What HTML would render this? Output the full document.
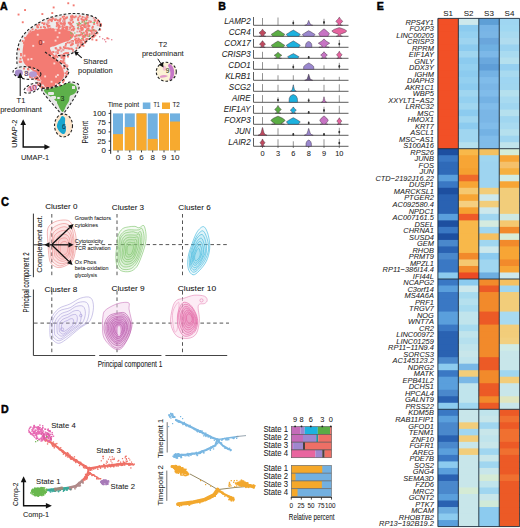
<!DOCTYPE html>
<html><head><meta charset="utf-8"><style>
html,body{margin:0;padding:0;background:#fff;}
svg{display:block;font-family:"Liberation Sans", sans-serif;} text{stroke:#222;stroke-width:0.1px;stroke-opacity:0.7;}
</style></head><body>
<svg width="520" height="528" viewBox="0 0 520 528">
<rect width="520" height="528" fill="#fff"/>
<text x="0.00" y="10.00" font-size="10.6" text-anchor="start" font-weight="bold" font-style="normal" fill="#000" style="stroke:#000;stroke-width:0.45px;stroke-opacity:1">A</text>
<text x="218.30" y="10.20" font-size="10.6" text-anchor="start" font-weight="bold" font-style="normal" fill="#000" style="stroke:#000;stroke-width:0.45px;stroke-opacity:1">B</text>
<text x="0.90" y="205.70" font-size="12.6" text-anchor="start" font-weight="bold" font-style="normal" fill="#000" style="stroke:#000;stroke-width:0.45px;stroke-opacity:1" transform="translate(0.9,0) scale(0.88,1) translate(-0.9,0)">C</text>
<text x="1.00" y="412.60" font-size="10.6" text-anchor="start" font-weight="bold" font-style="normal" fill="#000" style="stroke:#000;stroke-width:0.45px;stroke-opacity:1">D</text>
<text x="376.80" y="9.90" font-size="10.6" text-anchor="start" font-weight="bold" font-style="normal" fill="#000" style="stroke:#000;stroke-width:0.45px;stroke-opacity:1">E</text>
<rect x="437.90" y="18.40" width="21.45" height="7.51" fill="#f25026"/>
<rect x="437.90" y="24.91" width="21.45" height="7.51" fill="#f25026"/>
<rect x="437.90" y="31.43" width="21.45" height="7.51" fill="#f25026"/>
<rect x="437.90" y="37.94" width="21.45" height="7.51" fill="#f25026"/>
<rect x="437.90" y="44.46" width="21.45" height="7.51" fill="#f25026"/>
<rect x="437.90" y="50.97" width="21.45" height="7.51" fill="#f25026"/>
<rect x="437.90" y="57.49" width="21.45" height="7.51" fill="#f25026"/>
<rect x="437.90" y="64.00" width="21.45" height="7.51" fill="#f25026"/>
<rect x="437.90" y="70.52" width="21.45" height="7.51" fill="#f25026"/>
<rect x="437.90" y="77.03" width="21.45" height="7.51" fill="#f25026"/>
<rect x="437.90" y="83.55" width="21.45" height="7.51" fill="#f25026"/>
<rect x="437.90" y="90.06" width="21.45" height="7.51" fill="#f25026"/>
<rect x="437.90" y="96.58" width="21.45" height="7.51" fill="#f25026"/>
<rect x="437.90" y="103.09" width="21.45" height="7.51" fill="#f25026"/>
<rect x="437.90" y="109.61" width="21.45" height="7.51" fill="#f25026"/>
<rect x="437.90" y="116.12" width="21.45" height="7.51" fill="#f25026"/>
<rect x="437.90" y="122.64" width="21.45" height="7.51" fill="#f25026"/>
<rect x="437.90" y="129.16" width="21.45" height="7.51" fill="#f25026"/>
<rect x="437.90" y="135.67" width="21.45" height="7.51" fill="#f25026"/>
<rect x="437.90" y="142.19" width="21.45" height="7.51" fill="#f25026"/>
<rect x="437.90" y="148.70" width="21.45" height="7.51" fill="#1d4fa0"/>
<rect x="437.90" y="155.22" width="21.45" height="7.51" fill="#3a78c4"/>
<rect x="437.90" y="161.73" width="21.45" height="7.51" fill="#2f6ab8"/>
<rect x="437.90" y="168.25" width="21.45" height="7.51" fill="#2f6ab8"/>
<rect x="437.90" y="174.76" width="21.45" height="7.51" fill="#5a9fdc"/>
<rect x="437.90" y="181.28" width="21.45" height="7.51" fill="#3a78c4"/>
<rect x="437.90" y="187.79" width="21.45" height="7.51" fill="#1d4fa0"/>
<rect x="437.90" y="194.31" width="21.45" height="7.51" fill="#2a62b2"/>
<rect x="437.90" y="200.82" width="21.45" height="7.51" fill="#2a62b2"/>
<rect x="437.90" y="207.34" width="21.45" height="7.51" fill="#2a62b2"/>
<rect x="437.90" y="213.85" width="21.45" height="7.51" fill="#5a9fdc"/>
<rect x="437.90" y="220.37" width="21.45" height="7.51" fill="#1d4fa0"/>
<rect x="437.90" y="226.88" width="21.45" height="7.51" fill="#3a78c4"/>
<rect x="437.90" y="233.39" width="21.45" height="7.51" fill="#1d4fa0"/>
<rect x="437.90" y="239.91" width="21.45" height="7.51" fill="#4a88cc"/>
<rect x="437.90" y="246.42" width="21.45" height="7.51" fill="#2a62b2"/>
<rect x="437.90" y="252.94" width="21.45" height="7.51" fill="#4a88cc"/>
<rect x="437.90" y="259.45" width="21.45" height="7.51" fill="#3a78c4"/>
<rect x="437.90" y="265.97" width="21.45" height="7.51" fill="#3a78c4"/>
<rect x="437.90" y="272.48" width="21.45" height="7.51" fill="#8ccbef"/>
<rect x="437.90" y="279.00" width="21.45" height="7.51" fill="#3a78c4"/>
<rect x="437.90" y="285.51" width="21.45" height="7.51" fill="#5a9fdc"/>
<rect x="437.90" y="292.03" width="21.45" height="7.51" fill="#3a78c4"/>
<rect x="437.90" y="298.54" width="21.45" height="7.51" fill="#3a78c4"/>
<rect x="437.90" y="305.06" width="21.45" height="7.51" fill="#3a78c4"/>
<rect x="437.90" y="311.57" width="21.45" height="7.51" fill="#5a9fdc"/>
<rect x="437.90" y="318.09" width="21.45" height="7.51" fill="#5a9fdc"/>
<rect x="437.90" y="324.60" width="21.45" height="7.51" fill="#3a78c4"/>
<rect x="437.90" y="331.12" width="21.45" height="7.51" fill="#2a62b2"/>
<rect x="437.90" y="337.63" width="21.45" height="7.51" fill="#2a62b2"/>
<rect x="437.90" y="344.15" width="21.45" height="7.51" fill="#2a62b2"/>
<rect x="437.90" y="350.66" width="21.45" height="7.51" fill="#2a62b2"/>
<rect x="437.90" y="357.18" width="21.45" height="7.51" fill="#4a88cc"/>
<rect x="437.90" y="363.69" width="21.45" height="7.51" fill="#8ccbef"/>
<rect x="437.90" y="370.21" width="21.45" height="7.51" fill="#3a78c4"/>
<rect x="437.90" y="376.72" width="21.45" height="7.51" fill="#5a9fdc"/>
<rect x="437.90" y="383.24" width="21.45" height="7.51" fill="#5a9fdc"/>
<rect x="437.90" y="389.75" width="21.45" height="7.51" fill="#4a88cc"/>
<rect x="437.90" y="396.27" width="21.45" height="7.51" fill="#2a62b2"/>
<rect x="437.90" y="402.78" width="21.45" height="7.51" fill="#8ccbef"/>
<rect x="437.90" y="409.30" width="21.45" height="7.51" fill="#3a78c4"/>
<rect x="437.90" y="415.81" width="21.45" height="7.51" fill="#5a9fdc"/>
<rect x="437.90" y="422.33" width="21.45" height="7.51" fill="#4a88cc"/>
<rect x="437.90" y="428.84" width="21.45" height="7.51" fill="#4a88cc"/>
<rect x="437.90" y="435.36" width="21.45" height="7.51" fill="#2a62b2"/>
<rect x="437.90" y="441.87" width="21.45" height="7.51" fill="#4a88cc"/>
<rect x="437.90" y="448.39" width="21.45" height="7.51" fill="#5a9fdc"/>
<rect x="437.90" y="454.90" width="21.45" height="7.51" fill="#3a78c4"/>
<rect x="437.90" y="461.42" width="21.45" height="7.51" fill="#8ccbef"/>
<rect x="437.90" y="467.93" width="21.45" height="7.51" fill="#5a9fdc"/>
<rect x="437.90" y="474.45" width="21.45" height="7.51" fill="#2a62b2"/>
<rect x="437.90" y="480.96" width="21.45" height="7.51" fill="#4a88cc"/>
<rect x="437.90" y="487.48" width="21.45" height="7.51" fill="#4a88cc"/>
<rect x="437.90" y="493.99" width="21.45" height="7.51" fill="#5a9fdc"/>
<rect x="437.90" y="500.51" width="21.45" height="7.51" fill="#2a62b2"/>
<rect x="437.90" y="507.02" width="21.45" height="7.51" fill="#6eaee0"/>
<rect x="437.90" y="513.54" width="21.45" height="7.51" fill="#8ccbef"/>
<rect x="437.90" y="520.05" width="21.45" height="6.51" fill="#5a9fdc"/>
<rect x="458.35" y="18.40" width="21.45" height="7.51" fill="#cde8ec"/>
<rect x="458.35" y="24.91" width="21.45" height="7.51" fill="#8ccbef"/>
<rect x="458.35" y="31.43" width="21.45" height="7.51" fill="#94d0f0"/>
<rect x="458.35" y="37.94" width="21.45" height="7.51" fill="#9ed4f0"/>
<rect x="458.35" y="44.46" width="21.45" height="7.51" fill="#8ccbef"/>
<rect x="458.35" y="50.97" width="21.45" height="7.51" fill="#a0d6f0"/>
<rect x="458.35" y="57.49" width="21.45" height="7.51" fill="#8ccbef"/>
<rect x="458.35" y="64.00" width="21.45" height="7.51" fill="#94d0f0"/>
<rect x="458.35" y="70.52" width="21.45" height="7.51" fill="#8ccbef"/>
<rect x="458.35" y="77.03" width="21.45" height="7.51" fill="#94d0f0"/>
<rect x="458.35" y="83.55" width="21.45" height="7.51" fill="#8ccbef"/>
<rect x="458.35" y="90.06" width="21.45" height="7.51" fill="#a0d6f0"/>
<rect x="458.35" y="96.58" width="21.45" height="7.51" fill="#94d0f0"/>
<rect x="458.35" y="103.09" width="21.45" height="7.51" fill="#a0d6f0"/>
<rect x="458.35" y="109.61" width="21.45" height="7.51" fill="#8ccbef"/>
<rect x="458.35" y="116.12" width="21.45" height="7.51" fill="#a0d6f0"/>
<rect x="458.35" y="122.64" width="21.45" height="7.51" fill="#8ccbef"/>
<rect x="458.35" y="129.16" width="21.45" height="7.51" fill="#a0d6f0"/>
<rect x="458.35" y="135.67" width="21.45" height="7.51" fill="#a0d6f0"/>
<rect x="458.35" y="142.19" width="21.45" height="7.51" fill="#b5e0ee"/>
<rect x="458.35" y="148.70" width="21.45" height="7.51" fill="#f8b84a"/>
<rect x="458.35" y="155.22" width="21.45" height="7.51" fill="#f7a535"/>
<rect x="458.35" y="161.73" width="21.45" height="7.51" fill="#f7a535"/>
<rect x="458.35" y="168.25" width="21.45" height="7.51" fill="#f5a030"/>
<rect x="458.35" y="174.76" width="21.45" height="7.51" fill="#ef6a2a"/>
<rect x="458.35" y="181.28" width="21.45" height="7.51" fill="#f7a535"/>
<rect x="458.35" y="187.79" width="21.45" height="7.51" fill="#f5c870"/>
<rect x="458.35" y="194.31" width="21.45" height="7.51" fill="#f7a535"/>
<rect x="458.35" y="200.82" width="21.45" height="7.51" fill="#f5cf80"/>
<rect x="458.35" y="207.34" width="21.45" height="7.51" fill="#f6a030"/>
<rect x="458.35" y="213.85" width="21.45" height="7.51" fill="#ef5a28"/>
<rect x="458.35" y="220.37" width="21.45" height="7.51" fill="#f8b84a"/>
<rect x="458.35" y="226.88" width="21.45" height="7.51" fill="#f8b84a"/>
<rect x="458.35" y="233.39" width="21.45" height="7.51" fill="#f8b84a"/>
<rect x="458.35" y="239.91" width="21.45" height="7.51" fill="#f8b84a"/>
<rect x="458.35" y="246.42" width="21.45" height="7.51" fill="#f8b84a"/>
<rect x="458.35" y="252.94" width="21.45" height="7.51" fill="#f28a2b"/>
<rect x="458.35" y="259.45" width="21.45" height="7.51" fill="#f5c870"/>
<rect x="458.35" y="265.97" width="21.45" height="7.51" fill="#f28a2b"/>
<rect x="458.35" y="272.48" width="21.45" height="7.51" fill="#ec4a24"/>
<rect x="458.35" y="279.00" width="21.45" height="7.51" fill="#8ccbef"/>
<rect x="458.35" y="285.51" width="21.45" height="7.51" fill="#cde8ec"/>
<rect x="458.35" y="292.03" width="21.45" height="7.51" fill="#a8dbef"/>
<rect x="458.35" y="298.54" width="21.45" height="7.51" fill="#b5e0ee"/>
<rect x="458.35" y="305.06" width="21.45" height="7.51" fill="#a8dbef"/>
<rect x="458.35" y="311.57" width="21.45" height="7.51" fill="#c0e4ec"/>
<rect x="458.35" y="318.09" width="21.45" height="7.51" fill="#c0e4ec"/>
<rect x="458.35" y="324.60" width="21.45" height="7.51" fill="#a8dbef"/>
<rect x="458.35" y="331.12" width="21.45" height="7.51" fill="#c0e4ec"/>
<rect x="458.35" y="337.63" width="21.45" height="7.51" fill="#b5e0ee"/>
<rect x="458.35" y="344.15" width="21.45" height="7.51" fill="#c0e4ec"/>
<rect x="458.35" y="350.66" width="21.45" height="7.51" fill="#c8e6ea"/>
<rect x="458.35" y="357.18" width="21.45" height="7.51" fill="#c0e4ec"/>
<rect x="458.35" y="363.69" width="21.45" height="7.51" fill="#7ab8e6"/>
<rect x="458.35" y="370.21" width="21.45" height="7.51" fill="#f2cd7a"/>
<rect x="458.35" y="376.72" width="21.45" height="7.51" fill="#7ab8e6"/>
<rect x="458.35" y="383.24" width="21.45" height="7.51" fill="#c0e4ec"/>
<rect x="458.35" y="389.75" width="21.45" height="7.51" fill="#c0e4ec"/>
<rect x="458.35" y="396.27" width="21.45" height="7.51" fill="#c0e4ec"/>
<rect x="458.35" y="402.78" width="21.45" height="7.51" fill="#a0d6f0"/>
<rect x="458.35" y="409.30" width="21.45" height="7.51" fill="#c8e6ea"/>
<rect x="458.35" y="415.81" width="21.45" height="7.51" fill="#c8e6ea"/>
<rect x="458.35" y="422.33" width="21.45" height="7.51" fill="#f2cd7a"/>
<rect x="458.35" y="428.84" width="21.45" height="7.51" fill="#a0d6f0"/>
<rect x="458.35" y="435.36" width="21.45" height="7.51" fill="#f2cd7a"/>
<rect x="458.35" y="441.87" width="21.45" height="7.51" fill="#c8e6ea"/>
<rect x="458.35" y="448.39" width="21.45" height="7.51" fill="#f2cd7a"/>
<rect x="458.35" y="454.90" width="21.45" height="7.51" fill="#c8e6ea"/>
<rect x="458.35" y="461.42" width="21.45" height="7.51" fill="#c8e6ea"/>
<rect x="458.35" y="467.93" width="21.45" height="7.51" fill="#c8e6ea"/>
<rect x="458.35" y="474.45" width="21.45" height="7.51" fill="#c8e6ea"/>
<rect x="458.35" y="480.96" width="21.45" height="7.51" fill="#c8e6ea"/>
<rect x="458.35" y="487.48" width="21.45" height="7.51" fill="#d5ebd5"/>
<rect x="458.35" y="493.99" width="21.45" height="7.51" fill="#c8e6ea"/>
<rect x="458.35" y="500.51" width="21.45" height="7.51" fill="#c8e6ea"/>
<rect x="458.35" y="507.02" width="21.45" height="7.51" fill="#c8e6ea"/>
<rect x="458.35" y="513.54" width="21.45" height="7.51" fill="#c8e6ea"/>
<rect x="458.35" y="520.05" width="21.45" height="6.51" fill="#c8e6ea"/>
<rect x="478.80" y="18.40" width="21.45" height="7.51" fill="#5e9fd6"/>
<rect x="478.80" y="24.91" width="21.45" height="7.51" fill="#77b4e6"/>
<rect x="478.80" y="31.43" width="21.45" height="7.51" fill="#7ab6e6"/>
<rect x="478.80" y="37.94" width="21.45" height="7.51" fill="#6aa6dc"/>
<rect x="478.80" y="44.46" width="21.45" height="7.51" fill="#6fb0e2"/>
<rect x="478.80" y="50.97" width="21.45" height="7.51" fill="#7cb8e8"/>
<rect x="478.80" y="57.49" width="21.45" height="7.51" fill="#6aa8de"/>
<rect x="478.80" y="64.00" width="21.45" height="7.51" fill="#5f9ed8"/>
<rect x="478.80" y="70.52" width="21.45" height="7.51" fill="#74b2e4"/>
<rect x="478.80" y="77.03" width="21.45" height="7.51" fill="#80bcea"/>
<rect x="478.80" y="83.55" width="21.45" height="7.51" fill="#7ab6e6"/>
<rect x="478.80" y="90.06" width="21.45" height="7.51" fill="#80bcea"/>
<rect x="478.80" y="96.58" width="21.45" height="7.51" fill="#74b2e4"/>
<rect x="478.80" y="103.09" width="21.45" height="7.51" fill="#80bcea"/>
<rect x="478.80" y="109.61" width="21.45" height="7.51" fill="#7ab6e6"/>
<rect x="478.80" y="116.12" width="21.45" height="7.51" fill="#7ab6e6"/>
<rect x="478.80" y="122.64" width="21.45" height="7.51" fill="#80bcea"/>
<rect x="478.80" y="129.16" width="21.45" height="7.51" fill="#74b2e4"/>
<rect x="478.80" y="135.67" width="21.45" height="7.51" fill="#80bcea"/>
<rect x="478.80" y="142.19" width="21.45" height="7.51" fill="#80bcea"/>
<rect x="478.80" y="148.70" width="21.45" height="7.51" fill="#f3c060"/>
<rect x="478.80" y="155.22" width="21.45" height="7.51" fill="#a0d6f0"/>
<rect x="478.80" y="161.73" width="21.45" height="7.51" fill="#9ed4f0"/>
<rect x="478.80" y="168.25" width="21.45" height="7.51" fill="#9ed4f0"/>
<rect x="478.80" y="174.76" width="21.45" height="7.51" fill="#9ed4f0"/>
<rect x="478.80" y="181.28" width="21.45" height="7.51" fill="#9ed4f0"/>
<rect x="478.80" y="187.79" width="21.45" height="7.51" fill="#f2cd7a"/>
<rect x="478.80" y="194.31" width="21.45" height="7.51" fill="#cde8ec"/>
<rect x="478.80" y="200.82" width="21.45" height="7.51" fill="#f2cd7a"/>
<rect x="478.80" y="207.34" width="21.45" height="7.51" fill="#cde8ec"/>
<rect x="478.80" y="213.85" width="21.45" height="7.51" fill="#a0d6f0"/>
<rect x="478.80" y="220.37" width="21.45" height="7.51" fill="#d5ebdf"/>
<rect x="478.80" y="226.88" width="21.45" height="7.51" fill="#a0d6f0"/>
<rect x="478.80" y="233.39" width="21.45" height="7.51" fill="#f5c060"/>
<rect x="478.80" y="239.91" width="21.45" height="7.51" fill="#a0d6f0"/>
<rect x="478.80" y="246.42" width="21.45" height="7.51" fill="#cde8ec"/>
<rect x="478.80" y="252.94" width="21.45" height="7.51" fill="#8ccbef"/>
<rect x="478.80" y="259.45" width="21.45" height="7.51" fill="#a0d6f0"/>
<rect x="478.80" y="265.97" width="21.45" height="7.51" fill="#a0d6f0"/>
<rect x="478.80" y="272.48" width="21.45" height="7.51" fill="#6eaee0"/>
<rect x="478.80" y="279.00" width="21.45" height="7.51" fill="#f28a2b"/>
<rect x="478.80" y="285.51" width="21.45" height="7.51" fill="#ec5a26"/>
<rect x="478.80" y="292.03" width="21.45" height="7.51" fill="#f28a2b"/>
<rect x="478.80" y="298.54" width="21.45" height="7.51" fill="#f28a2b"/>
<rect x="478.80" y="305.06" width="21.45" height="7.51" fill="#f28a2b"/>
<rect x="478.80" y="311.57" width="21.45" height="7.51" fill="#ec5a26"/>
<rect x="478.80" y="318.09" width="21.45" height="7.51" fill="#ec5a26"/>
<rect x="478.80" y="324.60" width="21.45" height="7.51" fill="#f28a2b"/>
<rect x="478.80" y="331.12" width="21.45" height="7.51" fill="#f28a2b"/>
<rect x="478.80" y="337.63" width="21.45" height="7.51" fill="#f28a2b"/>
<rect x="478.80" y="344.15" width="21.45" height="7.51" fill="#f28a2b"/>
<rect x="478.80" y="350.66" width="21.45" height="7.51" fill="#f28a2b"/>
<rect x="478.80" y="357.18" width="21.45" height="7.51" fill="#ec5a26"/>
<rect x="478.80" y="363.69" width="21.45" height="7.51" fill="#ec5a26"/>
<rect x="478.80" y="370.21" width="21.45" height="7.51" fill="#f28a2b"/>
<rect x="478.80" y="376.72" width="21.45" height="7.51" fill="#f28a2b"/>
<rect x="478.80" y="383.24" width="21.45" height="7.51" fill="#ec5a26"/>
<rect x="478.80" y="389.75" width="21.45" height="7.51" fill="#ec5a26"/>
<rect x="478.80" y="396.27" width="21.45" height="7.51" fill="#f28a2b"/>
<rect x="478.80" y="402.78" width="21.45" height="7.51" fill="#ec5a26"/>
<rect x="478.80" y="409.30" width="21.45" height="7.51" fill="#c0e4ec"/>
<rect x="478.80" y="415.81" width="21.45" height="7.51" fill="#c8e6ea"/>
<rect x="478.80" y="422.33" width="21.45" height="7.51" fill="#a0d6f0"/>
<rect x="478.80" y="428.84" width="21.45" height="7.51" fill="#c8e6ea"/>
<rect x="478.80" y="435.36" width="21.45" height="7.51" fill="#c0e4ec"/>
<rect x="478.80" y="441.87" width="21.45" height="7.51" fill="#c8e6ea"/>
<rect x="478.80" y="448.39" width="21.45" height="7.51" fill="#a0d6f0"/>
<rect x="478.80" y="454.90" width="21.45" height="7.51" fill="#c8e6ea"/>
<rect x="478.80" y="461.42" width="21.45" height="7.51" fill="#a0d6f0"/>
<rect x="478.80" y="467.93" width="21.45" height="7.51" fill="#c8e6ea"/>
<rect x="478.80" y="474.45" width="21.45" height="7.51" fill="#d5ebd5"/>
<rect x="478.80" y="480.96" width="21.45" height="7.51" fill="#c0e4ec"/>
<rect x="478.80" y="487.48" width="21.45" height="7.51" fill="#a0d6f0"/>
<rect x="478.80" y="493.99" width="21.45" height="7.51" fill="#c8e6ea"/>
<rect x="478.80" y="500.51" width="21.45" height="7.51" fill="#d0ead8"/>
<rect x="478.80" y="507.02" width="21.45" height="7.51" fill="#8ccbef"/>
<rect x="478.80" y="513.54" width="21.45" height="7.51" fill="#8ccbef"/>
<rect x="478.80" y="520.05" width="21.45" height="6.51" fill="#8ccbef"/>
<rect x="499.25" y="18.40" width="20.45" height="7.51" fill="#9fd6f2"/>
<rect x="499.25" y="24.91" width="20.45" height="7.51" fill="#a0d8f2"/>
<rect x="499.25" y="31.43" width="20.45" height="7.51" fill="#a8daf0"/>
<rect x="499.25" y="37.94" width="20.45" height="7.51" fill="#b0dcef"/>
<rect x="499.25" y="44.46" width="20.45" height="7.51" fill="#9bd3f0"/>
<rect x="499.25" y="50.97" width="20.45" height="7.51" fill="#a9dbf0"/>
<rect x="499.25" y="57.49" width="20.45" height="7.51" fill="#b5e0ee"/>
<rect x="499.25" y="64.00" width="20.45" height="7.51" fill="#96d0f0"/>
<rect x="499.25" y="70.52" width="20.45" height="7.51" fill="#a8daf0"/>
<rect x="499.25" y="77.03" width="20.45" height="7.51" fill="#9fd6f2"/>
<rect x="499.25" y="83.55" width="20.45" height="7.51" fill="#a0d6f0"/>
<rect x="499.25" y="90.06" width="20.45" height="7.51" fill="#b5e0ee"/>
<rect x="499.25" y="96.58" width="20.45" height="7.51" fill="#a8daf0"/>
<rect x="499.25" y="103.09" width="20.45" height="7.51" fill="#a0d6f0"/>
<rect x="499.25" y="109.61" width="20.45" height="7.51" fill="#b5e0ee"/>
<rect x="499.25" y="116.12" width="20.45" height="7.51" fill="#a0d6f0"/>
<rect x="499.25" y="122.64" width="20.45" height="7.51" fill="#a8daf0"/>
<rect x="499.25" y="129.16" width="20.45" height="7.51" fill="#b5e0ee"/>
<rect x="499.25" y="135.67" width="20.45" height="7.51" fill="#a0d6f0"/>
<rect x="499.25" y="142.19" width="20.45" height="7.51" fill="#c0e4ec"/>
<rect x="499.25" y="148.70" width="20.45" height="7.51" fill="#d4ecd8"/>
<rect x="499.25" y="155.22" width="20.45" height="7.51" fill="#f7a535"/>
<rect x="499.25" y="161.73" width="20.45" height="7.51" fill="#f5c06a"/>
<rect x="499.25" y="168.25" width="20.45" height="7.51" fill="#f6b040"/>
<rect x="499.25" y="174.76" width="20.45" height="7.51" fill="#d0ebe6"/>
<rect x="499.25" y="181.28" width="20.45" height="7.51" fill="#f7a535"/>
<rect x="499.25" y="187.79" width="20.45" height="7.51" fill="#f2cd7a"/>
<rect x="499.25" y="194.31" width="20.45" height="7.51" fill="#f2cd7a"/>
<rect x="499.25" y="200.82" width="20.45" height="7.51" fill="#f2cd7a"/>
<rect x="499.25" y="207.34" width="20.45" height="7.51" fill="#f2cd7a"/>
<rect x="499.25" y="213.85" width="20.45" height="7.51" fill="#cde8e4"/>
<rect x="499.25" y="220.37" width="20.45" height="7.51" fill="#f5c870"/>
<rect x="499.25" y="226.88" width="20.45" height="7.51" fill="#f28a2b"/>
<rect x="499.25" y="233.39" width="20.45" height="7.51" fill="#d8ecd8"/>
<rect x="499.25" y="239.91" width="20.45" height="7.51" fill="#f28a2b"/>
<rect x="499.25" y="246.42" width="20.45" height="7.51" fill="#f7a535"/>
<rect x="499.25" y="252.94" width="20.45" height="7.51" fill="#f7a535"/>
<rect x="499.25" y="259.45" width="20.45" height="7.51" fill="#f28a2b"/>
<rect x="499.25" y="265.97" width="20.45" height="7.51" fill="#f7a535"/>
<rect x="499.25" y="272.48" width="20.45" height="7.51" fill="#cde8ec"/>
<rect x="499.25" y="279.00" width="20.45" height="7.51" fill="#f5c060"/>
<rect x="499.25" y="285.51" width="20.45" height="7.51" fill="#a0d6f0"/>
<rect x="499.25" y="292.03" width="20.45" height="7.51" fill="#f2cd7a"/>
<rect x="499.25" y="298.54" width="20.45" height="7.51" fill="#f2cd7a"/>
<rect x="499.25" y="305.06" width="20.45" height="7.51" fill="#f2cd7a"/>
<rect x="499.25" y="311.57" width="20.45" height="7.51" fill="#a8daf0"/>
<rect x="499.25" y="318.09" width="20.45" height="7.51" fill="#a8daf0"/>
<rect x="499.25" y="324.60" width="20.45" height="7.51" fill="#f2cd7a"/>
<rect x="499.25" y="331.12" width="20.45" height="7.51" fill="#f2cd7a"/>
<rect x="499.25" y="337.63" width="20.45" height="7.51" fill="#f2d080"/>
<rect x="499.25" y="344.15" width="20.45" height="7.51" fill="#d0ebe6"/>
<rect x="499.25" y="350.66" width="20.45" height="7.51" fill="#c8e6ea"/>
<rect x="499.25" y="357.18" width="20.45" height="7.51" fill="#c8e6ea"/>
<rect x="499.25" y="363.69" width="20.45" height="7.51" fill="#c8e6ea"/>
<rect x="499.25" y="370.21" width="20.45" height="7.51" fill="#a0d6f0"/>
<rect x="499.25" y="376.72" width="20.45" height="7.51" fill="#f2cd7a"/>
<rect x="499.25" y="383.24" width="20.45" height="7.51" fill="#c8e6ea"/>
<rect x="499.25" y="389.75" width="20.45" height="7.51" fill="#c8e6ea"/>
<rect x="499.25" y="396.27" width="20.45" height="7.51" fill="#e0e6c0"/>
<rect x="499.25" y="402.78" width="20.45" height="7.51" fill="#c8e6ea"/>
<rect x="499.25" y="409.30" width="20.45" height="7.51" fill="#ec5a26"/>
<rect x="499.25" y="415.81" width="20.45" height="7.51" fill="#f07030"/>
<rect x="499.25" y="422.33" width="20.45" height="7.51" fill="#ec5a26"/>
<rect x="499.25" y="428.84" width="20.45" height="7.51" fill="#f07030"/>
<rect x="499.25" y="435.36" width="20.45" height="7.51" fill="#f07030"/>
<rect x="499.25" y="441.87" width="20.45" height="7.51" fill="#ec5a26"/>
<rect x="499.25" y="448.39" width="20.45" height="7.51" fill="#f07030"/>
<rect x="499.25" y="454.90" width="20.45" height="7.51" fill="#ec5a26"/>
<rect x="499.25" y="461.42" width="20.45" height="7.51" fill="#ec5a26"/>
<rect x="499.25" y="467.93" width="20.45" height="7.51" fill="#ec5a26"/>
<rect x="499.25" y="474.45" width="20.45" height="7.51" fill="#f07030"/>
<rect x="499.25" y="480.96" width="20.45" height="7.51" fill="#ec5a26"/>
<rect x="499.25" y="487.48" width="20.45" height="7.51" fill="#ec5a26"/>
<rect x="499.25" y="493.99" width="20.45" height="7.51" fill="#ec5a26"/>
<rect x="499.25" y="500.51" width="20.45" height="7.51" fill="#ec5a26"/>
<rect x="499.25" y="507.02" width="20.45" height="7.51" fill="#ec5a26"/>
<rect x="499.25" y="513.54" width="20.45" height="7.51" fill="#ec5a26"/>
<rect x="499.25" y="520.05" width="20.45" height="6.51" fill="#ec5a26"/>
<line x1="437.90" y1="18.40" x2="437.90" y2="526.57" stroke="#1d2c3c" stroke-width="0.9"/>
<line x1="458.35" y1="18.40" x2="458.35" y2="526.57" stroke="#1d2c3c" stroke-width="0.9"/>
<line x1="478.80" y1="18.40" x2="478.80" y2="526.57" stroke="#1d2c3c" stroke-width="0.9"/>
<line x1="499.25" y1="18.40" x2="499.25" y2="526.57" stroke="#1d2c3c" stroke-width="0.9"/>
<line x1="519.70" y1="18.40" x2="519.70" y2="526.57" stroke="#1d2c3c" stroke-width="0.9"/>
<line x1="437.90" y1="18.40" x2="519.70" y2="18.40" stroke="#1d2c3c" stroke-width="0.9"/>
<line x1="437.90" y1="148.70" x2="519.70" y2="148.70" stroke="#1d2c3c" stroke-width="0.9"/>
<line x1="437.90" y1="279.00" x2="519.70" y2="279.00" stroke="#1d2c3c" stroke-width="0.9"/>
<line x1="437.90" y1="409.30" x2="519.70" y2="409.30" stroke="#1d2c3c" stroke-width="0.9"/>
<line x1="437.90" y1="526.57" x2="519.70" y2="526.57" stroke="#1d2c3c" stroke-width="0.9"/>
<g transform="translate(433.9,0) scale(0.93,1) translate(-433.9,0)" stroke="#1e1e1e" stroke-width="0.08">
<text x="433.90" y="24.60" font-size="8.0" text-anchor="end" font-weight="normal" font-style="italic" fill="#1e1e1e" >RPS4Y1</text>
<text x="433.90" y="31.11" font-size="8.0" text-anchor="end" font-weight="normal" font-style="italic" fill="#1e1e1e" >FOXP3</text>
<text x="433.90" y="37.63" font-size="8.0" text-anchor="end" font-weight="normal" font-style="italic" fill="#1e1e1e" >LINC00205</text>
<text x="433.90" y="44.14" font-size="8.0" text-anchor="end" font-weight="normal" font-style="italic" fill="#1e1e1e" >CRISP3</text>
<text x="433.90" y="50.66" font-size="8.0" text-anchor="end" font-weight="normal" font-style="italic" fill="#1e1e1e" >RPRM</text>
<text x="433.90" y="57.17" font-size="8.0" text-anchor="end" font-weight="normal" font-style="italic" fill="#1e1e1e" >EIF1AY</text>
<text x="433.90" y="63.69" font-size="8.0" text-anchor="end" font-weight="normal" font-style="italic" fill="#1e1e1e" >GNLY</text>
<text x="433.90" y="70.20" font-size="8.0" text-anchor="end" font-weight="normal" font-style="italic" fill="#1e1e1e" >DDX3Y</text>
<text x="433.90" y="76.72" font-size="8.0" text-anchor="end" font-weight="normal" font-style="italic" fill="#1e1e1e" >IGHM</text>
<text x="433.90" y="83.23" font-size="8.0" text-anchor="end" font-weight="normal" font-style="italic" fill="#1e1e1e" >DIAPH3</text>
<text x="433.90" y="89.75" font-size="8.0" text-anchor="end" font-weight="normal" font-style="italic" fill="#1e1e1e" >AKR1C1</text>
<text x="433.90" y="96.27" font-size="8.0" text-anchor="end" font-weight="normal" font-style="italic" fill="#1e1e1e" >WBP5</text>
<text x="433.90" y="102.78" font-size="8.0" text-anchor="end" font-weight="normal" font-style="italic" fill="#1e1e1e" >XXYLT1−AS2</text>
<text x="433.90" y="109.30" font-size="8.0" text-anchor="end" font-weight="normal" font-style="italic" fill="#1e1e1e" >LRRC32</text>
<text x="433.90" y="115.81" font-size="8.0" text-anchor="end" font-weight="normal" font-style="italic" fill="#1e1e1e" >MSC</text>
<text x="433.90" y="122.33" font-size="8.0" text-anchor="end" font-weight="normal" font-style="italic" fill="#1e1e1e" >HMOX1</text>
<text x="433.90" y="128.84" font-size="8.0" text-anchor="end" font-weight="normal" font-style="italic" fill="#1e1e1e" >KRT7</text>
<text x="433.90" y="135.35" font-size="8.0" text-anchor="end" font-weight="normal" font-style="italic" fill="#1e1e1e" >ASCL1</text>
<text x="433.90" y="141.87" font-size="8.0" text-anchor="end" font-weight="normal" font-style="italic" fill="#1e1e1e" >MSC−AS1</text>
<text x="433.90" y="148.38" font-size="8.0" text-anchor="end" font-weight="normal" font-style="italic" fill="#1e1e1e" >S100A16</text>
<text x="433.90" y="154.90" font-size="8.0" text-anchor="end" font-weight="normal" font-style="italic" fill="#1e1e1e" >RPS26</text>
<text x="433.90" y="161.41" font-size="8.0" text-anchor="end" font-weight="normal" font-style="italic" fill="#1e1e1e" >JUNB</text>
<text x="433.90" y="167.93" font-size="8.0" text-anchor="end" font-weight="normal" font-style="italic" fill="#1e1e1e" >FOS</text>
<text x="433.90" y="174.44" font-size="8.0" text-anchor="end" font-weight="normal" font-style="italic" fill="#1e1e1e" >JUN</text>
<text x="433.90" y="180.96" font-size="8.0" text-anchor="end" font-weight="normal" font-style="italic" fill="#1e1e1e" >CTD−2192J16.22</text>
<text x="433.90" y="187.47" font-size="8.0" text-anchor="end" font-weight="normal" font-style="italic" fill="#1e1e1e" >DUSP1</text>
<text x="433.90" y="193.99" font-size="8.0" text-anchor="end" font-weight="normal" font-style="italic" fill="#1e1e1e" >MARCKSL1</text>
<text x="433.90" y="200.50" font-size="8.0" text-anchor="end" font-weight="normal" font-style="italic" fill="#1e1e1e" >PTGER2</text>
<text x="433.90" y="207.02" font-size="8.0" text-anchor="end" font-weight="normal" font-style="italic" fill="#1e1e1e" >AC092580.4</text>
<text x="433.90" y="213.53" font-size="8.0" text-anchor="end" font-weight="normal" font-style="italic" fill="#1e1e1e" >NPDC1</text>
<text x="433.90" y="220.05" font-size="8.0" text-anchor="end" font-weight="normal" font-style="italic" fill="#1e1e1e" >AC007161.5</text>
<text x="433.90" y="226.56" font-size="8.0" text-anchor="end" font-weight="normal" font-style="italic" fill="#1e1e1e" >DSEL</text>
<text x="433.90" y="233.08" font-size="8.0" text-anchor="end" font-weight="normal" font-style="italic" fill="#1e1e1e" >CHRNA1</text>
<text x="433.90" y="239.59" font-size="8.0" text-anchor="end" font-weight="normal" font-style="italic" fill="#1e1e1e" >SUSD4</text>
<text x="433.90" y="246.11" font-size="8.0" text-anchor="end" font-weight="normal" font-style="italic" fill="#1e1e1e" >GEM</text>
<text x="433.90" y="252.62" font-size="8.0" text-anchor="end" font-weight="normal" font-style="italic" fill="#1e1e1e" >RHOB</text>
<text x="433.90" y="259.14" font-size="8.0" text-anchor="end" font-weight="normal" font-style="italic" fill="#1e1e1e" >PRMT9</text>
<text x="433.90" y="265.65" font-size="8.0" text-anchor="end" font-weight="normal" font-style="italic" fill="#1e1e1e" >MPZL1</text>
<text x="433.90" y="272.17" font-size="8.0" text-anchor="end" font-weight="normal" font-style="italic" fill="#1e1e1e" >RP11−386I14.4</text>
<text x="433.90" y="278.68" font-size="8.0" text-anchor="end" font-weight="normal" font-style="italic" fill="#1e1e1e" >IFI44L</text>
<text x="433.90" y="285.20" font-size="8.0" text-anchor="end" font-weight="normal" font-style="italic" fill="#1e1e1e" >NCAPG2</text>
<text x="433.90" y="291.71" font-size="8.0" text-anchor="end" font-weight="normal" font-style="italic" fill="#1e1e1e" >C3orf14</text>
<text x="433.90" y="298.23" font-size="8.0" text-anchor="end" font-weight="normal" font-style="italic" fill="#1e1e1e" >MS4A6A</text>
<text x="433.90" y="304.74" font-size="8.0" text-anchor="end" font-weight="normal" font-style="italic" fill="#1e1e1e" >PRF1</text>
<text x="433.90" y="311.26" font-size="8.0" text-anchor="end" font-weight="normal" font-style="italic" fill="#1e1e1e" >TRGV7</text>
<text x="433.90" y="317.77" font-size="8.0" text-anchor="end" font-weight="normal" font-style="italic" fill="#1e1e1e" >NOG</text>
<text x="433.90" y="324.29" font-size="8.0" text-anchor="end" font-weight="normal" font-style="italic" fill="#1e1e1e" >WNT7A</text>
<text x="433.90" y="330.80" font-size="8.0" text-anchor="end" font-weight="normal" font-style="italic" fill="#1e1e1e" >CR2</text>
<text x="433.90" y="337.32" font-size="8.0" text-anchor="end" font-weight="normal" font-style="italic" fill="#1e1e1e" >LINC00972</text>
<text x="433.90" y="343.83" font-size="8.0" text-anchor="end" font-weight="normal" font-style="italic" fill="#1e1e1e" >LINC01259</text>
<text x="433.90" y="350.35" font-size="8.0" text-anchor="end" font-weight="normal" font-style="italic" fill="#1e1e1e" >RP11−11N9.4</text>
<text x="433.90" y="356.86" font-size="8.0" text-anchor="end" font-weight="normal" font-style="italic" fill="#1e1e1e" >SORCS3</text>
<text x="433.90" y="363.38" font-size="8.0" text-anchor="end" font-weight="normal" font-style="italic" fill="#1e1e1e" >AC145123.2</text>
<text x="433.90" y="369.89" font-size="8.0" text-anchor="end" font-weight="normal" font-style="italic" fill="#1e1e1e" >NDRG2</text>
<text x="433.90" y="376.41" font-size="8.0" text-anchor="end" font-weight="normal" font-style="italic" fill="#1e1e1e" >MATK</text>
<text x="433.90" y="382.92" font-size="8.0" text-anchor="end" font-weight="normal" font-style="italic" fill="#1e1e1e" >EPB41L2</text>
<text x="433.90" y="389.44" font-size="8.0" text-anchor="end" font-weight="normal" font-style="italic" fill="#1e1e1e" >DCHS1</text>
<text x="433.90" y="395.95" font-size="8.0" text-anchor="end" font-weight="normal" font-style="italic" fill="#1e1e1e" >HPCAL4</text>
<text x="433.90" y="402.47" font-size="8.0" text-anchor="end" font-weight="normal" font-style="italic" fill="#1e1e1e" >GALNT9</text>
<text x="433.90" y="408.98" font-size="8.0" text-anchor="end" font-weight="normal" font-style="italic" fill="#1e1e1e" >PRSS22</text>
<text x="433.90" y="415.50" font-size="8.0" text-anchor="end" font-weight="normal" font-style="italic" fill="#1e1e1e" >KDM5B</text>
<text x="433.90" y="422.01" font-size="8.0" text-anchor="end" font-weight="normal" font-style="italic" fill="#1e1e1e" >RAB11FIP1</text>
<text x="433.90" y="428.53" font-size="8.0" text-anchor="end" font-weight="normal" font-style="italic" fill="#1e1e1e" >GFOD1</text>
<text x="433.90" y="435.04" font-size="8.0" text-anchor="end" font-weight="normal" font-style="italic" fill="#1e1e1e" >TENM1</text>
<text x="433.90" y="441.56" font-size="8.0" text-anchor="end" font-weight="normal" font-style="italic" fill="#1e1e1e" >ZNF10</text>
<text x="433.90" y="448.07" font-size="8.0" text-anchor="end" font-weight="normal" font-style="italic" fill="#1e1e1e" >FGFR1</text>
<text x="433.90" y="454.59" font-size="8.0" text-anchor="end" font-weight="normal" font-style="italic" fill="#1e1e1e" >AREG</text>
<text x="433.90" y="461.10" font-size="8.0" text-anchor="end" font-weight="normal" font-style="italic" fill="#1e1e1e" >PDE7B</text>
<text x="433.90" y="467.62" font-size="8.0" text-anchor="end" font-weight="normal" font-style="italic" fill="#1e1e1e" >SOS2</text>
<text x="433.90" y="474.13" font-size="8.0" text-anchor="end" font-weight="normal" font-style="italic" fill="#1e1e1e" >GNG4</text>
<text x="433.90" y="480.65" font-size="8.0" text-anchor="end" font-weight="normal" font-style="italic" fill="#1e1e1e" >SEMA3D</text>
<text x="433.90" y="487.16" font-size="8.0" text-anchor="end" font-weight="normal" font-style="italic" fill="#1e1e1e" >FZD6</text>
<text x="433.90" y="493.68" font-size="8.0" text-anchor="end" font-weight="normal" font-style="italic" fill="#1e1e1e" >MRC2</text>
<text x="433.90" y="500.19" font-size="8.0" text-anchor="end" font-weight="normal" font-style="italic" fill="#1e1e1e" >GCNT2</text>
<text x="433.90" y="506.71" font-size="8.0" text-anchor="end" font-weight="normal" font-style="italic" fill="#1e1e1e" >PTK7</text>
<text x="433.90" y="513.23" font-size="8.0" text-anchor="end" font-weight="normal" font-style="italic" fill="#1e1e1e" >MCAM</text>
<text x="433.90" y="519.74" font-size="8.0" text-anchor="end" font-weight="normal" font-style="italic" fill="#1e1e1e" >RHOBTB2</text>
<text x="433.90" y="526.25" font-size="8.0" text-anchor="end" font-weight="normal" font-style="italic" fill="#1e1e1e" >RP13−192B19.2</text>
</g>
<text x="448.12" y="15.90" font-size="8" text-anchor="middle" font-weight="normal" font-style="normal" fill="#1a1a1a" >S1</text>
<text x="468.57" y="15.90" font-size="8" text-anchor="middle" font-weight="normal" font-style="normal" fill="#1a1a1a" >S2</text>
<text x="489.02" y="15.90" font-size="8" text-anchor="middle" font-weight="normal" font-style="normal" fill="#1a1a1a" >S3</text>
<text x="509.48" y="15.90" font-size="8" text-anchor="middle" font-weight="normal" font-style="normal" fill="#1a1a1a" >S4</text>
<text x="250.6" y="23.80" font-size="8.9" text-anchor="end" font-style="italic" fill="#1e1e1e" transform="translate(250.6,0) scale(0.9,1) translate(-250.6,0)">LAMP2</text>
<path d="M253.5,17.00 V25.30 H348.5" fill="none" stroke="#333" stroke-width="0.8"/>
<line x1="262.5" y1="18.00" x2="262.5" y2="25.30" stroke="#4a4a4a" stroke-width="0.6"/>
<line x1="278.0" y1="17.50" x2="278.0" y2="25.30" stroke="#4a4a4a" stroke-width="0.6"/>
<line x1="293.3" y1="20.30" x2="293.3" y2="25.30" stroke="#4a4a4a" stroke-width="0.6"/>
<ellipse cx="293.3" cy="23.05" rx="0.9" ry="1.3" fill="#333"/>
<path d="M312.70,25.30 L311.10,24.82 L310.10,23.86 L309.30,21.94 L308.82,20.50 L308.58,20.50 L308.10,21.94 L307.30,23.86 L306.30,24.82 L304.70,25.30Z" fill="#9a88cf" stroke="#3a2a3a" stroke-width="0.45" stroke-linejoin="round"/>
<line x1="324.0" y1="18.80" x2="324.0" y2="25.30" stroke="#4a4a4a" stroke-width="0.6"/>
<ellipse cx="324.0" cy="22.38" rx="0.9" ry="1.3" fill="#333"/>
<path d="M342.45,25.30 L340.35,24.82 L340.53,23.70 L342.80,21.30 L340.35,18.90 L339.48,17.30 L339.12,17.30 L338.25,18.90 L335.80,21.30 L338.07,23.70 L338.25,24.82 L336.15,25.30Z" fill="#e6649f" stroke="#3a2a3a" stroke-width="0.45" stroke-linejoin="round"/>
<text x="250.6" y="34.80" font-size="8.9" text-anchor="end" font-style="italic" fill="#1e1e1e" transform="translate(250.6,0) scale(0.9,1) translate(-250.6,0)">CCR4</text>
<path d="M253.5,28.00 V36.30 H348.5" fill="none" stroke="#333" stroke-width="0.8"/>
<path d="M265.65,36.30 L263.55,35.88 L263.73,34.90 L266.00,32.80 L263.55,30.70 L262.68,29.30 L262.32,29.30 L261.45,30.70 L259.00,32.80 L261.27,34.90 L261.45,35.88 L259.35,36.30Z" fill="#bf4a5e" stroke="#3a2a3a" stroke-width="0.45" stroke-linejoin="round"/>
<path d="M283.40,36.30 L283.74,35.56 L284.75,34.25 L282.59,32.89 L280.23,31.34 L278.68,30.53 L278.20,30.10 L277.80,30.10 L277.32,30.53 L275.77,31.34 L273.41,32.89 L271.25,34.25 L272.26,35.56 L272.60,36.30Z" fill="#5cae45" stroke="#3a2a3a" stroke-width="0.45" stroke-linejoin="round"/>
<path d="M298.90,36.30 L299.25,35.56 L300.30,34.25 L298.06,32.89 L295.61,31.34 L294.00,30.53 L293.51,30.10 L293.09,30.10 L292.60,30.53 L290.99,31.34 L288.54,32.89 L286.30,34.25 L287.35,35.56 L287.70,36.30Z" fill="#1db2df" stroke="#3a2a3a" stroke-width="0.45" stroke-linejoin="round"/>
<path d="M313.78,36.30 L314.10,35.63 L315.05,34.45 L313.02,33.22 L310.80,31.82 L309.33,31.09 L308.89,30.70 L308.51,30.70 L308.06,31.09 L306.60,31.82 L304.38,33.22 L302.35,34.45 L303.30,35.63 L303.62,36.30Z" fill="#9a88cf" stroke="#3a2a3a" stroke-width="0.45" stroke-linejoin="round"/>
<path d="M328.05,36.30 L328.32,35.42 L329.40,33.53 L327.78,31.92 L325.62,30.09 L324.22,29.00 L323.78,29.00 L322.38,30.09 L320.22,31.92 L318.60,33.53 L319.68,35.42 L319.95,36.30Z" fill="#c774c4" stroke="#3a2a3a" stroke-width="0.45" stroke-linejoin="round"/>
<path d="M342.30,36.30 L340.05,35.44 L340.43,34.15 L345.30,32.43 L346.80,30.97 L344.55,29.42 L339.68,27.70 L338.93,27.70 L334.05,29.42 L331.80,30.97 L333.30,32.43 L338.18,34.15 L338.55,35.44 L336.30,36.30Z" fill="#e6649f" stroke="#3a2a3a" stroke-width="0.45" stroke-linejoin="round"/>
<text x="250.6" y="45.80" font-size="8.9" text-anchor="end" font-style="italic" fill="#1e1e1e" transform="translate(250.6,0) scale(0.9,1) translate(-250.6,0)">COX17</text>
<path d="M253.5,39.00 V47.30 H348.5" fill="none" stroke="#333" stroke-width="0.8"/>
<path d="M265.20,47.30 L263.40,46.91 L263.55,46.00 L265.50,44.05 L263.40,42.10 L262.65,40.80 L262.35,40.80 L261.60,42.10 L259.50,44.05 L261.45,46.00 L261.60,46.91 L259.80,47.30Z" fill="#bf4a5e" stroke="#3a2a3a" stroke-width="0.45" stroke-linejoin="round"/>
<path d="M283.40,47.30 L283.74,46.56 L284.75,45.25 L282.59,43.89 L280.23,42.34 L278.68,41.53 L278.20,41.10 L277.80,41.10 L277.32,41.53 L275.77,42.34 L273.41,43.89 L271.25,45.25 L272.26,46.56 L272.60,47.30Z" fill="#5cae45" stroke="#3a2a3a" stroke-width="0.45" stroke-linejoin="round"/>
<path d="M298.90,47.30 L299.25,46.53 L300.30,45.19 L298.06,43.78 L295.61,42.18 L294.00,41.35 L293.51,40.90 L293.09,40.90 L292.60,41.35 L290.99,42.18 L288.54,43.78 L286.30,45.19 L287.35,46.53 L287.70,47.30Z" fill="#1db2df" stroke="#3a2a3a" stroke-width="0.45" stroke-linejoin="round"/>
<path d="M311.85,47.30 L311.85,46.72 L311.69,44.40 L311.06,42.95 L309.96,41.96 L308.86,41.50 L308.54,41.50 L307.44,41.96 L306.34,42.95 L305.71,44.40 L305.55,46.72 L305.55,47.30Z" fill="#9a88cf" stroke="#3a2a3a" stroke-width="0.45" stroke-linejoin="round"/>
<path d="M329.13,47.30 L325.71,46.81 L326.00,45.66 L329.70,43.20 L325.71,40.74 L324.29,39.10 L323.71,39.10 L322.29,40.74 L318.30,43.20 L322.00,45.66 L322.29,46.81 L318.87,47.30Z" fill="#c774c4" stroke="#3a2a3a" stroke-width="0.45" stroke-linejoin="round"/>
<line x1="339.3" y1="39.90" x2="339.3" y2="47.30" stroke="#4a4a4a" stroke-width="0.6"/>
<ellipse cx="339.3" cy="43.97" rx="0.9" ry="1.3" fill="#333"/>
<text x="250.6" y="56.80" font-size="8.9" text-anchor="end" font-style="italic" fill="#1e1e1e" transform="translate(250.6,0) scale(0.9,1) translate(-250.6,0)">CRISP3</text>
<path d="M253.5,50.00 V58.30 H348.5" fill="none" stroke="#333" stroke-width="0.8"/>
<line x1="262.5" y1="51.80" x2="262.5" y2="58.30" stroke="#4a4a4a" stroke-width="0.6"/>
<path d="M281.46,58.30 L279.15,57.94 L279.35,57.10 L281.85,55.30 L279.15,53.50 L278.19,52.30 L277.81,52.30 L276.85,53.50 L274.15,55.30 L276.65,57.10 L276.85,57.94 L274.54,58.30Z" fill="#5cae45" stroke="#3a2a3a" stroke-width="0.45" stroke-linejoin="round"/>
<path d="M297.90,58.30 L298.19,57.74 L299.05,56.75 L297.21,55.71 L295.20,54.54 L293.88,53.93 L293.47,53.60 L293.13,53.60 L292.73,53.93 L291.40,54.54 L289.39,55.71 L287.55,56.75 L288.41,57.74 L288.70,58.30Z" fill="#1db2df" stroke="#3a2a3a" stroke-width="0.45" stroke-linejoin="round"/>
<line x1="308.7" y1="56.30" x2="308.7" y2="58.30" stroke="#4a4a4a" stroke-width="0.6"/>
<ellipse cx="308.7" cy="57.40" rx="0.9" ry="1.3" fill="#333"/>
<path d="M327.01,58.30 L325.00,57.91 L325.17,57.00 L327.35,55.05 L325.00,53.10 L324.17,51.80 L323.83,51.80 L323.00,53.10 L320.65,55.05 L322.83,57.00 L323.00,57.91 L320.99,58.30Z" fill="#c774c4" stroke="#3a2a3a" stroke-width="0.45" stroke-linejoin="round"/>
<path d="M341.78,58.30 L340.12,57.88 L340.26,56.90 L342.05,54.80 L340.12,52.70 L339.44,51.30 L339.16,51.30 L338.48,52.70 L336.55,54.80 L338.34,56.90 L338.48,57.88 L336.82,58.30Z" fill="#e6649f" stroke="#3a2a3a" stroke-width="0.45" stroke-linejoin="round"/>
<text x="250.6" y="67.80" font-size="8.9" text-anchor="end" font-style="italic" fill="#1e1e1e" transform="translate(250.6,0) scale(0.9,1) translate(-250.6,0)">CDO1</text>
<path d="M253.5,61.00 V69.30 H348.5" fill="none" stroke="#333" stroke-width="0.8"/>
<line x1="262.5" y1="62.10" x2="262.5" y2="69.30" stroke="#4a4a4a" stroke-width="0.6"/>
<line x1="278.0" y1="64.30" x2="278.0" y2="69.30" stroke="#4a4a4a" stroke-width="0.6"/>
<line x1="293.3" y1="64.30" x2="293.3" y2="69.30" stroke="#4a4a4a" stroke-width="0.6"/>
<ellipse cx="293.3" cy="67.05" rx="0.9" ry="1.3" fill="#333"/>
<path d="M313.80,69.30 L313.80,68.67 L313.70,66.47 L312.01,64.89 L309.97,63.63 L308.95,63.00 L308.44,63.00 L307.43,63.63 L305.38,64.89 L303.70,66.47 L303.60,68.67 L303.60,69.30Z" fill="#9a88cf" stroke="#3a2a3a" stroke-width="0.45" stroke-linejoin="round"/>
<line x1="324.0" y1="65.30" x2="324.0" y2="69.30" stroke="#4a4a4a" stroke-width="0.6"/>
<line x1="339.3" y1="62.80" x2="339.3" y2="69.30" stroke="#4a4a4a" stroke-width="0.6"/>
<ellipse cx="339.3" cy="66.38" rx="0.9" ry="1.3" fill="#333"/>
<text x="250.6" y="78.80" font-size="8.9" text-anchor="end" font-style="italic" fill="#1e1e1e" transform="translate(250.6,0) scale(0.9,1) translate(-250.6,0)">KLRB1</text>
<path d="M253.5,72.00 V80.30 H348.5" fill="none" stroke="#333" stroke-width="0.8"/>
<line x1="262.5" y1="73.10" x2="262.5" y2="80.30" stroke="#4a4a4a" stroke-width="0.6"/>
<line x1="278.0" y1="75.30" x2="278.0" y2="80.30" stroke="#4a4a4a" stroke-width="0.6"/>
<line x1="293.3" y1="75.30" x2="293.3" y2="80.30" stroke="#4a4a4a" stroke-width="0.6"/>
<path d="M312.70,80.30 L311.10,79.70 L310.10,78.50 L309.30,76.10 L308.82,74.30 L308.58,74.30 L308.10,76.10 L307.30,78.50 L306.30,79.70 L304.70,80.30Z" fill="#6a5a8a" stroke="#3a2a3a" stroke-width="0.45" stroke-linejoin="round"/>
<line x1="324.0" y1="77.30" x2="324.0" y2="80.30" stroke="#4a4a4a" stroke-width="0.6"/>
<line x1="339.3" y1="76.80" x2="339.3" y2="80.30" stroke="#4a4a4a" stroke-width="0.6"/>
<text x="250.6" y="89.80" font-size="8.9" text-anchor="end" font-style="italic" fill="#1e1e1e" transform="translate(250.6,0) scale(0.9,1) translate(-250.6,0)">SCG2</text>
<path d="M253.5,83.00 V91.30 H348.5" fill="none" stroke="#333" stroke-width="0.8"/>
<line x1="262.5" y1="84.10" x2="262.5" y2="91.30" stroke="#4a4a4a" stroke-width="0.6"/>
<line x1="278.0" y1="84.80" x2="278.0" y2="91.30" stroke="#4a4a4a" stroke-width="0.6"/>
<path d="M296.30,91.30 L295.10,90.65 L294.35,89.35 L293.75,86.75 L293.39,84.80 L293.21,84.80 L292.85,86.75 L292.25,89.35 L291.50,90.65 L290.30,91.30Z" fill="#1db2df" stroke="#3a2a3a" stroke-width="0.45" stroke-linejoin="round"/>
<line x1="308.7" y1="88.30" x2="308.7" y2="91.30" stroke="#4a4a4a" stroke-width="0.6"/>
<line x1="324.0" y1="84.80" x2="324.0" y2="91.30" stroke="#4a4a4a" stroke-width="0.6"/>
<line x1="339.3" y1="84.30" x2="339.3" y2="91.30" stroke="#4a4a4a" stroke-width="0.6"/>
<text x="250.6" y="100.80" font-size="8.9" text-anchor="end" font-style="italic" fill="#1e1e1e" transform="translate(250.6,0) scale(0.9,1) translate(-250.6,0)">AIRE</text>
<path d="M253.5,94.00 V102.30 H348.5" fill="none" stroke="#333" stroke-width="0.8"/>
<line x1="262.5" y1="95.10" x2="262.5" y2="102.30" stroke="#4a4a4a" stroke-width="0.6"/>
<line x1="278.0" y1="97.30" x2="278.0" y2="102.30" stroke="#4a4a4a" stroke-width="0.6"/>
<ellipse cx="278.0" cy="100.05" rx="0.9" ry="1.3" fill="#333"/>
<path d="M297.55,102.30 L297.55,101.53 L297.34,98.45 L296.49,96.52 L295.00,95.22 L293.51,94.60 L293.09,94.60 L291.60,95.22 L290.11,96.52 L289.26,98.45 L289.05,101.53 L289.05,102.30Z" fill="#1db2df" stroke="#3a2a3a" stroke-width="0.45" stroke-linejoin="round"/>
<line x1="308.7" y1="98.30" x2="308.7" y2="102.30" stroke="#4a4a4a" stroke-width="0.6"/>
<ellipse cx="308.7" cy="100.50" rx="0.9" ry="1.3" fill="#333"/>
<path d="M326.75,102.30 L325.65,101.75 L324.96,100.65 L324.41,98.45 L324.08,96.80 L323.92,96.80 L323.59,98.45 L323.04,100.65 L322.35,101.75 L321.25,102.30Z" fill="#c774c4" stroke="#3a2a3a" stroke-width="0.45" stroke-linejoin="round"/>
<line x1="339.3" y1="95.30" x2="339.3" y2="102.30" stroke="#4a4a4a" stroke-width="0.6"/>
<text x="250.6" y="111.80" font-size="8.9" text-anchor="end" font-style="italic" fill="#1e1e1e" transform="translate(250.6,0) scale(0.9,1) translate(-250.6,0)">EIF1AY</text>
<path d="M253.5,105.00 V113.30 H348.5" fill="none" stroke="#333" stroke-width="0.8"/>
<line x1="262.5" y1="106.10" x2="262.5" y2="113.30" stroke="#4a4a4a" stroke-width="0.6"/>
<path d="M280.93,113.30 L278.98,112.84 L279.14,111.76 L281.25,109.45 L278.98,107.14 L278.16,105.60 L277.84,105.60 L277.02,107.14 L274.75,109.45 L276.86,111.76 L277.02,112.84 L275.07,113.30Z" fill="#5cae45" stroke="#3a2a3a" stroke-width="0.45" stroke-linejoin="round"/>
<path d="M296.00,113.30 L294.20,112.92 L294.35,112.04 L296.30,110.15 L294.20,108.26 L293.45,107.00 L293.15,107.00 L292.40,108.26 L290.30,110.15 L292.25,112.04 L292.40,112.92 L290.60,113.30Z" fill="#1db2df" stroke="#3a2a3a" stroke-width="0.45" stroke-linejoin="round"/>
<line x1="308.7" y1="111.30" x2="308.7" y2="113.30" stroke="#4a4a4a" stroke-width="0.6"/>
<ellipse cx="308.7" cy="112.40" rx="0.9" ry="1.3" fill="#333"/>
<line x1="324.0" y1="106.80" x2="324.0" y2="113.30" stroke="#4a4a4a" stroke-width="0.6"/>
<ellipse cx="324.0" cy="110.38" rx="0.9" ry="1.3" fill="#333"/>
<line x1="339.3" y1="105.80" x2="339.3" y2="113.30" stroke="#4a4a4a" stroke-width="0.6"/>
<text x="250.6" y="122.80" font-size="8.9" text-anchor="end" font-style="italic" fill="#1e1e1e" transform="translate(250.6,0) scale(0.9,1) translate(-250.6,0)">FOXP3</text>
<path d="M253.5,116.00 V124.30 H348.5" fill="none" stroke="#333" stroke-width="0.8"/>
<line x1="262.5" y1="117.10" x2="262.5" y2="124.30" stroke="#4a4a4a" stroke-width="0.6"/>
<path d="M284.48,124.30 L280.88,123.66 L283.76,121.90 L285.20,120.30 L282.68,118.30 L278.36,116.30 L277.64,116.30 L273.32,118.30 L270.80,120.30 L272.24,121.90 L275.12,123.66 L271.52,124.30Z" fill="#5cae45" stroke="#3a2a3a" stroke-width="0.45" stroke-linejoin="round"/>
<path d="M298.51,124.30 L298.86,123.52 L300.25,121.83 L298.17,120.40 L295.38,118.77 L293.58,117.80 L293.02,117.80 L291.22,118.77 L288.44,120.40 L286.35,121.83 L287.74,123.52 L288.09,124.30Z" fill="#1db2df" stroke="#3a2a3a" stroke-width="0.45" stroke-linejoin="round"/>
<line x1="308.7" y1="121.30" x2="308.7" y2="124.30" stroke="#4a4a4a" stroke-width="0.6"/>
<ellipse cx="308.7" cy="122.95" rx="0.9" ry="1.3" fill="#333"/>
<path d="M327.82,124.30 L325.70,123.64 L327.40,121.84 L328.25,120.20 L326.76,118.15 L324.21,116.10 L323.79,116.10 L321.24,118.15 L319.75,120.20 L320.60,121.84 L322.30,123.64 L320.18,124.30Z" fill="#c774c4" stroke="#3a2a3a" stroke-width="0.45" stroke-linejoin="round"/>
<path d="M341.55,124.30 L340.05,123.91 L340.18,123.00 L341.80,121.05 L340.05,119.10 L339.43,117.80 L339.18,117.80 L338.55,119.10 L336.80,121.05 L338.43,123.00 L338.55,123.91 L337.05,124.30Z" fill="#e6649f" stroke="#3a2a3a" stroke-width="0.45" stroke-linejoin="round"/>
<text x="250.6" y="133.80" font-size="8.9" text-anchor="end" font-style="italic" fill="#1e1e1e" transform="translate(250.6,0) scale(0.9,1) translate(-250.6,0)">JUN</text>
<path d="M253.5,127.00 V135.30 H348.5" fill="none" stroke="#333" stroke-width="0.8"/>
<path d="M267.00,135.30 L265.20,134.53 L264.07,132.99 L263.18,129.91 L262.63,127.60 L262.37,127.60 L261.82,129.91 L260.93,132.99 L259.80,134.53 L258.00,135.30Z" fill="#bf4a5e" stroke="#3a2a3a" stroke-width="0.45" stroke-linejoin="round"/>
<line x1="278.0" y1="128.30" x2="278.0" y2="135.30" stroke="#4a4a4a" stroke-width="0.6"/>
<line x1="293.3" y1="133.30" x2="293.3" y2="135.30" stroke="#4a4a4a" stroke-width="0.6"/>
<ellipse cx="293.3" cy="134.40" rx="0.9" ry="1.3" fill="#333"/>
<path d="M313.20,135.30 L311.40,134.62 L310.27,133.26 L309.38,130.54 L308.83,128.50 L308.56,128.50 L308.02,130.54 L307.12,133.26 L306.00,134.62 L304.20,135.30Z" fill="#9a88cf" stroke="#3a2a3a" stroke-width="0.45" stroke-linejoin="round"/>
<line x1="324.0" y1="133.30" x2="324.0" y2="135.30" stroke="#4a4a4a" stroke-width="0.6"/>
<ellipse cx="324.0" cy="134.40" rx="0.9" ry="1.3" fill="#333"/>
<line x1="339.3" y1="127.80" x2="339.3" y2="135.30" stroke="#4a4a4a" stroke-width="0.6"/>
<ellipse cx="339.3" cy="131.93" rx="0.9" ry="1.3" fill="#333"/>
<text x="250.6" y="144.80" font-size="8.9" text-anchor="end" font-style="italic" fill="#1e1e1e" transform="translate(250.6,0) scale(0.9,1) translate(-250.6,0)">LAIR2</text>
<path d="M253.5,138.00 V146.30 H348.5" fill="none" stroke="#333" stroke-width="0.8"/>
<path d="M264.75,146.30 L263.25,145.87 L263.38,144.86 L265.00,142.70 L263.25,140.54 L262.62,139.10 L262.38,139.10 L261.75,140.54 L260.00,142.70 L261.62,144.86 L261.75,145.87 L260.25,146.30Z" fill="#bf4a5e" stroke="#3a2a3a" stroke-width="0.45" stroke-linejoin="round"/>
<line x1="278.0" y1="139.30" x2="278.0" y2="146.30" stroke="#4a4a4a" stroke-width="0.6"/>
<line x1="293.3" y1="141.30" x2="293.3" y2="146.30" stroke="#4a4a4a" stroke-width="0.6"/>
<path d="M311.45,146.30 L311.45,145.68 L311.31,143.20 L310.76,141.65 L309.80,140.60 L308.84,140.10 L308.56,140.10 L307.60,140.60 L306.64,141.65 L306.09,143.20 L305.95,145.68 L305.95,146.30Z" fill="#9a88cf" stroke="#3a2a3a" stroke-width="0.45" stroke-linejoin="round"/>
<line x1="324.0" y1="139.30" x2="324.0" y2="146.30" stroke="#4a4a4a" stroke-width="0.6"/>
<line x1="339.3" y1="138.80" x2="339.3" y2="146.30" stroke="#4a4a4a" stroke-width="0.6"/>
<ellipse cx="339.3" cy="142.93" rx="0.9" ry="1.3" fill="#333"/>
<line x1="262.5" y1="146.30" x2="262.5" y2="147.90" stroke="#333" stroke-width="0.7"/>
<text x="262.5" y="155.50" font-size="7.4" text-anchor="middle" fill="#222">0</text>
<line x1="278.0" y1="146.30" x2="278.0" y2="147.90" stroke="#333" stroke-width="0.7"/>
<text x="278.0" y="155.50" font-size="7.4" text-anchor="middle" fill="#222">3</text>
<line x1="293.3" y1="146.30" x2="293.3" y2="147.90" stroke="#333" stroke-width="0.7"/>
<text x="293.3" y="155.50" font-size="7.4" text-anchor="middle" fill="#222">6</text>
<line x1="308.7" y1="146.30" x2="308.7" y2="147.90" stroke="#333" stroke-width="0.7"/>
<text x="308.7" y="155.50" font-size="7.4" text-anchor="middle" fill="#222">8</text>
<line x1="324.0" y1="146.30" x2="324.0" y2="147.90" stroke="#333" stroke-width="0.7"/>
<text x="324.0" y="155.50" font-size="7.4" text-anchor="middle" fill="#222">9</text>
<line x1="339.3" y1="146.30" x2="339.3" y2="147.90" stroke="#333" stroke-width="0.7"/>
<text x="339.3" y="155.50" font-size="7.4" text-anchor="middle" fill="#222">10</text>
<path d="M17.00,64.00 C16.83,61.33 16.50,55.83 17.00,52.00 C17.50,48.17 18.50,44.33 20.00,41.00 C21.50,37.67 23.50,34.67 26.00,32.00 C28.50,29.33 31.67,27.17 35.00,25.00 C38.33,22.83 42.17,20.58 46.00,19.00 C49.83,17.42 53.67,16.42 58.00,15.50 C62.33,14.58 67.33,13.67 72.00,13.50 C76.67,13.33 82.00,13.75 86.00,14.50 C90.00,15.25 93.58,16.42 96.00,18.00 C98.42,19.58 100.00,22.00 100.50,24.00 C101.00,26.00 100.42,27.83 99.00,30.00 C97.58,32.17 94.67,34.67 92.00,37.00 C89.33,39.33 85.83,41.58 83.00,44.00 C80.17,46.42 77.67,49.50 75.00,51.50 C72.33,53.50 68.50,54.25 67.00,56.00 C65.50,57.75 65.67,59.67 66.00,62.00 C66.33,64.33 68.67,67.67 69.00,70.00 C69.33,72.33 69.00,74.17 68.00,76.00 C67.00,77.83 65.00,79.33 63.00,81.00 C61.00,82.67 58.50,84.67 56.00,86.00 C53.50,87.33 50.67,88.83 48.00,89.00 C45.33,89.17 42.50,88.50 40.00,87.00 C37.50,85.50 35.67,82.50 33.00,80.00 C30.33,77.50 26.50,74.00 24.00,72.00 C21.50,70.00 19.17,69.33 18.00,68.00 C16.83,66.67 17.17,66.67 17.00,64.00Z" fill="#ececec"/>
<path d="M42.00,89.00 C43.00,87.92 47.00,88.00 50.00,87.50 C53.00,87.00 56.67,86.92 60.00,86.00 C63.33,85.08 67.00,82.33 70.00,82.00 C73.00,81.67 76.58,82.67 78.00,84.00 C79.42,85.33 79.33,87.33 78.50,90.00 C77.67,92.67 74.92,96.83 73.00,100.00 C71.08,103.17 68.83,106.67 67.00,109.00 C65.17,111.33 63.67,114.00 62.00,114.00 C60.33,114.00 59.00,111.17 57.00,109.00 C55.00,106.83 52.17,103.50 50.00,101.00 C47.83,98.50 45.33,96.00 44.00,94.00 C42.67,92.00 41.00,90.08 42.00,89.00Z" fill="#e6e6e6"/>
<ellipse cx="63.5" cy="125.5" rx="9" ry="11.5" fill="#fde6cc"/>
<ellipse cx="166.3" cy="71.8" rx="10" ry="9.5" fill="#fbf2d6"/>
<path d="M24.00,42.00 C24.75,38.83 25.50,36.83 27.00,35.00 C28.50,33.17 30.50,32.00 33.00,31.00 C35.50,30.00 38.83,29.42 42.00,29.00 C45.17,28.58 48.67,28.42 52.00,28.50 C55.33,28.58 59.00,29.08 62.00,29.50 C65.00,29.92 68.00,30.08 70.00,31.00 C72.00,31.92 74.00,33.50 74.00,35.00 C74.00,36.50 72.00,38.67 70.00,40.00 C68.00,41.33 64.50,42.00 62.00,43.00 C59.50,44.00 57.00,45.17 55.00,46.00 C53.00,46.83 50.17,46.50 50.00,48.00 C49.83,49.50 52.50,52.67 54.00,55.00 C55.50,57.33 57.50,59.67 59.00,62.00 C60.50,64.33 62.17,66.67 63.00,69.00 C63.83,71.33 64.33,74.00 64.00,76.00 C63.67,78.00 62.33,79.50 61.00,81.00 C59.67,82.50 58.17,83.83 56.00,85.00 C53.83,86.17 50.00,87.92 48.00,88.00 C46.00,88.08 45.17,86.83 44.00,85.50 C42.83,84.17 42.17,81.83 41.00,80.00 C39.83,78.17 38.83,76.42 37.00,74.50 C35.17,72.58 32.17,70.42 30.00,68.50 C27.83,66.58 25.25,65.42 24.00,63.00 C22.75,60.58 22.50,57.50 22.50,54.00 C22.50,50.50 23.25,45.17 24.00,42.00Z" fill="#f37b73"/>
<rect x="68.2" y="28.5" width="1.9" height="1.9" fill="#e9a0a0"/>
<rect x="19.5" y="57.8" width="1.9" height="1.9" fill="#f37b73"/>
<rect x="82.6" y="24.1" width="1.9" height="1.9" fill="#e9a0a0"/>
<rect x="63.1" y="53.0" width="1.9" height="1.9" fill="#f37b73"/>
<rect x="33.8" y="76.8" width="1.9" height="1.9" fill="#f37b73"/>
<rect x="56.2" y="22.9" width="1.9" height="1.9" fill="#f37b73"/>
<rect x="62.9" y="28.9" width="1.9" height="1.9" fill="#f37b73"/>
<rect x="85.0" y="18.0" width="1.9" height="1.9" fill="#f37b73"/>
<rect x="47.4" y="19.8" width="1.9" height="1.9" fill="#f37b73"/>
<rect x="22.1" y="56.7" width="1.9" height="1.9" fill="#f37b73"/>
<rect x="85.8" y="38.6" width="1.9" height="1.9" fill="#f37b73"/>
<rect x="82.5" y="19.3" width="1.9" height="1.9" fill="#f37b73"/>
<rect x="69.3" y="26.8" width="1.9" height="1.9" fill="#f37b73"/>
<rect x="54.7" y="47.2" width="1.9" height="1.9" fill="#f37b73"/>
<rect x="47.2" y="26.7" width="1.9" height="1.9" fill="#e9a0a0"/>
<rect x="87.4" y="34.9" width="1.9" height="1.9" fill="#f37b73"/>
<rect x="83.3" y="19.2" width="1.9" height="1.9" fill="#f37b73"/>
<rect x="70.0" y="15.6" width="1.9" height="1.9" fill="#f37b73"/>
<rect x="63.7" y="54.9" width="1.9" height="1.9" fill="#f37b73"/>
<rect x="82.5" y="36.1" width="1.9" height="1.9" fill="#f37b73"/>
<rect x="70.5" y="22.8" width="1.9" height="1.9" fill="#f37b73"/>
<rect x="51.6" y="17.6" width="1.9" height="1.9" fill="#f37b73"/>
<rect x="40.8" y="81.0" width="1.9" height="1.9" fill="#f37b73"/>
<rect x="27.1" y="68.1" width="1.9" height="1.9" fill="#f37b73"/>
<rect x="71.1" y="43.4" width="1.9" height="1.9" fill="#f37b73"/>
<rect x="62.9" y="61.5" width="1.9" height="1.9" fill="#f37b73"/>
<rect x="91.1" y="29.7" width="1.9" height="1.9" fill="#f37b73"/>
<rect x="64.5" y="17.4" width="1.9" height="1.9" fill="#f37b73"/>
<rect x="66.1" y="28.0" width="1.9" height="1.9" fill="#f37b73"/>
<rect x="62.8" y="17.9" width="1.9" height="1.9" fill="#f37b73"/>
<rect x="65.9" y="47.3" width="1.9" height="1.9" fill="#f37b73"/>
<rect x="93.2" y="31.4" width="1.9" height="1.9" fill="#e9a0a0"/>
<rect x="46.5" y="87.1" width="1.9" height="1.9" fill="#f37b73"/>
<rect x="65.0" y="43.0" width="1.9" height="1.9" fill="#f37b73"/>
<rect x="81.7" y="35.6" width="1.9" height="1.9" fill="#f37b73"/>
<rect x="99.2" y="28.7" width="1.9" height="1.9" fill="#f37b73"/>
<rect x="76.7" y="42.6" width="1.9" height="1.9" fill="#e9a0a0"/>
<rect x="63.3" y="55.4" width="1.9" height="1.9" fill="#f37b73"/>
<rect x="63.8" y="20.8" width="1.9" height="1.9" fill="#e9a0a0"/>
<rect x="80.0" y="33.6" width="1.9" height="1.9" fill="#f37b73"/>
<rect x="55.3" y="54.5" width="1.9" height="1.9" fill="#f37b73"/>
<rect x="50.7" y="20.2" width="1.9" height="1.9" fill="#f37b73"/>
<rect x="62.1" y="20.6" width="1.9" height="1.9" fill="#e9a0a0"/>
<rect x="80.5" y="17.9" width="1.9" height="1.9" fill="#f37b73"/>
<rect x="45.8" y="23.4" width="1.9" height="1.9" fill="#f37b73"/>
<rect x="70.6" y="29.0" width="1.9" height="1.9" fill="#f37b73"/>
<rect x="28.6" y="32.5" width="1.9" height="1.9" fill="#f37b73"/>
<rect x="29.2" y="76.0" width="1.9" height="1.9" fill="#f37b73"/>
<rect x="80.5" y="31.6" width="1.9" height="1.9" fill="#f37b73"/>
<rect x="88.1" y="29.5" width="1.9" height="1.9" fill="#e9a0a0"/>
<rect x="81.7" y="20.8" width="1.9" height="1.9" fill="#f37b73"/>
<rect x="67.0" y="55.6" width="1.9" height="1.9" fill="#f37b73"/>
<rect x="55.1" y="47.5" width="1.9" height="1.9" fill="#f37b73"/>
<rect x="29.7" y="76.3" width="1.9" height="1.9" fill="#f37b73"/>
<rect x="75.6" y="47.2" width="1.9" height="1.9" fill="#f37b73"/>
<rect x="86.4" y="27.9" width="1.9" height="1.9" fill="#f37b73"/>
<rect x="67.4" y="47.4" width="1.9" height="1.9" fill="#f37b73"/>
<rect x="34.1" y="75.7" width="1.9" height="1.9" fill="#f37b73"/>
<rect x="39.2" y="84.5" width="1.9" height="1.9" fill="#e9a0a0"/>
<rect x="66.6" y="41.6" width="1.9" height="1.9" fill="#f37b73"/>
<rect x="82.0" y="37.7" width="1.9" height="1.9" fill="#f37b73"/>
<rect x="73.5" y="16.4" width="1.9" height="1.9" fill="#f37b73"/>
<rect x="70.0" y="19.5" width="1.9" height="1.9" fill="#f37b73"/>
<rect x="18.8" y="60.6" width="1.9" height="1.9" fill="#f37b73"/>
<rect x="95.5" y="39.2" width="1.9" height="1.9" fill="#f37b73"/>
<rect x="86.2" y="34.6" width="1.9" height="1.9" fill="#f37b73"/>
<rect x="62.4" y="48.7" width="1.9" height="1.9" fill="#f37b73"/>
<rect x="92.8" y="34.5" width="1.9" height="1.9" fill="#f37b73"/>
<rect x="31.1" y="77.1" width="1.9" height="1.9" fill="#e9a0a0"/>
<rect x="73.3" y="27.8" width="1.9" height="1.9" fill="#f37b73"/>
<rect x="37.1" y="78.8" width="1.9" height="1.9" fill="#f37b73"/>
<rect x="80.6" y="29.0" width="1.9" height="1.9" fill="#f37b73"/>
<rect x="85.1" y="30.1" width="1.9" height="1.9" fill="#f37b73"/>
<rect x="75.7" y="34.6" width="1.9" height="1.9" fill="#f37b73"/>
<rect x="86.0" y="37.9" width="1.9" height="1.9" fill="#f37b73"/>
<rect x="72.5" y="29.4" width="1.9" height="1.9" fill="#f37b73"/>
<rect x="58.1" y="49.2" width="1.9" height="1.9" fill="#f37b73"/>
<rect x="19.1" y="61.0" width="1.9" height="1.9" fill="#f37b73"/>
<rect x="29.6" y="30.3" width="1.9" height="1.9" fill="#f37b73"/>
<rect x="94.4" y="34.5" width="1.9" height="1.9" fill="#f37b73"/>
<rect x="58.3" y="48.9" width="1.9" height="1.9" fill="#e9a0a0"/>
<rect x="34.9" y="28.9" width="1.9" height="1.9" fill="#f37b73"/>
<rect x="87.9" y="35.1" width="1.9" height="1.9" fill="#f37b73"/>
<rect x="92.5" y="29.3" width="1.9" height="1.9" fill="#f37b73"/>
<rect x="26.6" y="71.6" width="1.9" height="1.9" fill="#e9a0a0"/>
<rect x="59.9" y="26.0" width="1.9" height="1.9" fill="#e9a0a0"/>
<rect x="83.7" y="26.1" width="1.9" height="1.9" fill="#f37b73"/>
<rect x="78.7" y="22.9" width="1.9" height="1.9" fill="#f37b73"/>
<rect x="55.0" y="18.5" width="1.9" height="1.9" fill="#f37b73"/>
<rect x="76.7" y="39.7" width="1.9" height="1.9" fill="#f37b73"/>
<rect x="96.8" y="19.4" width="1.9" height="1.9" fill="#f37b73"/>
<rect x="71.8" y="40.3" width="1.9" height="1.9" fill="#f37b73"/>
<rect x="81.5" y="27.0" width="1.9" height="1.9" fill="#f37b73"/>
<rect x="42.9" y="25.9" width="1.9" height="1.9" fill="#f37b73"/>
<rect x="46.9" y="24.5" width="1.9" height="1.9" fill="#f37b73"/>
<rect x="63.7" y="26.4" width="1.9" height="1.9" fill="#f37b73"/>
<rect x="71.2" y="25.0" width="1.9" height="1.9" fill="#f37b73"/>
<rect x="77.5" y="37.6" width="1.9" height="1.9" fill="#f37b73"/>
<rect x="54.6" y="54.9" width="1.9" height="1.9" fill="#f37b73"/>
<rect x="87.6" y="29.3" width="1.9" height="1.9" fill="#f37b73"/>
<rect x="36.4" y="77.0" width="1.9" height="1.9" fill="#f37b73"/>
<rect x="72.0" y="40.5" width="1.9" height="1.9" fill="#f37b73"/>
<rect x="62.9" y="46.2" width="1.9" height="1.9" fill="#f37b73"/>
<rect x="80.2" y="27.4" width="1.9" height="1.9" fill="#f37b73"/>
<rect x="64.0" y="22.5" width="1.9" height="1.9" fill="#f37b73"/>
<rect x="87.3" y="24.2" width="1.9" height="1.9" fill="#f37b73"/>
<rect x="46.1" y="28.7" width="1.9" height="1.9" fill="#f37b73"/>
<rect x="76.6" y="40.2" width="1.9" height="1.9" fill="#f37b73"/>
<rect x="81.1" y="18.7" width="1.9" height="1.9" fill="#f37b73"/>
<rect x="53.9" y="18.4" width="1.9" height="1.9" fill="#e9a0a0"/>
<rect x="68.6" y="22.5" width="1.9" height="1.9" fill="#f37b73"/>
<rect x="51.9" y="17.6" width="1.9" height="1.9" fill="#f37b73"/>
<rect x="72.7" y="4.4" width="1.9" height="1.9" fill="#f37b73"/>
<rect x="92.1" y="29.2" width="1.9" height="1.9" fill="#f37b73"/>
<rect x="91.9" y="25.8" width="1.9" height="1.9" fill="#f37b73"/>
<rect x="61.9" y="54.7" width="1.9" height="1.9" fill="#f37b73"/>
<rect x="20.2" y="60.8" width="1.9" height="1.9" fill="#f37b73"/>
<rect x="44.1" y="28.8" width="1.9" height="1.9" fill="#f37b73"/>
<rect x="62.2" y="48.7" width="1.9" height="1.9" fill="#e9a0a0"/>
<rect x="87.3" y="21.9" width="1.9" height="1.9" fill="#f37b73"/>
<rect x="70.4" y="16.9" width="1.9" height="1.9" fill="#f37b73"/>
<rect x="48.0" y="28.3" width="1.9" height="1.9" fill="#f37b73"/>
<rect x="32.7" y="71.8" width="1.9" height="1.9" fill="#f37b73"/>
<rect x="53.4" y="62.5" width="1.9" height="1.9" fill="#fbd6d2"/>
<rect x="83.0" y="24.9" width="1.9" height="1.9" fill="#f37b73"/>
<rect x="43.5" y="22.4" width="1.9" height="1.9" fill="#f37b73"/>
<rect x="35.1" y="78.1" width="1.9" height="1.9" fill="#f37b73"/>
<rect x="63.3" y="15.4" width="1.9" height="1.9" fill="#f37b73"/>
<rect x="99.9" y="23.8" width="1.9" height="1.9" fill="#f37b73"/>
<rect x="28.3" y="31.5" width="1.9" height="1.9" fill="#e9a0a0"/>
<rect x="96.8" y="24.2" width="1.9" height="1.9" fill="#e9a0a0"/>
<rect x="57.7" y="27.2" width="1.9" height="1.9" fill="#f37b73"/>
<rect x="78.8" y="30.4" width="1.9" height="1.9" fill="#f37b73"/>
<rect x="86.0" y="32.4" width="1.9" height="1.9" fill="#e9a0a0"/>
<rect x="56.4" y="56.0" width="1.9" height="1.9" fill="#f37b73"/>
<rect x="65.5" y="25.9" width="1.9" height="1.9" fill="#f37b73"/>
<rect x="36.4" y="26.3" width="1.9" height="1.9" fill="#f37b73"/>
<rect x="56.8" y="23.5" width="1.9" height="1.9" fill="#f37b73"/>
<rect x="29.7" y="75.0" width="1.9" height="1.9" fill="#f37b73"/>
<rect x="36.7" y="81.8" width="1.9" height="1.9" fill="#e9a0a0"/>
<rect x="38.1" y="23.7" width="1.9" height="1.9" fill="#f37b73"/>
<rect x="71.9" y="16.0" width="1.9" height="1.9" fill="#f37b73"/>
<rect x="90.0" y="29.4" width="1.9" height="1.9" fill="#e9a0a0"/>
<rect x="55.0" y="83.2" width="1.9" height="1.9" fill="#fbd6d2"/>
<rect x="64.7" y="64.3" width="1.9" height="1.9" fill="#f37b73"/>
<rect x="64.5" y="52.2" width="1.9" height="1.9" fill="#f37b73"/>
<rect x="52.0" y="28.4" width="1.9" height="1.9" fill="#f37b73"/>
<rect x="99.6" y="23.2" width="1.9" height="1.9" fill="#f37b73"/>
<rect x="83.8" y="23.4" width="1.9" height="1.9" fill="#f37b73"/>
<rect x="61.2" y="54.2" width="1.9" height="1.9" fill="#e9a0a0"/>
<rect x="83.7" y="22.3" width="1.9" height="1.9" fill="#f37b73"/>
<rect x="22.9" y="42.0" width="1.9" height="1.9" fill="#f37b73"/>
<rect x="69.8" y="47.8" width="1.9" height="1.9" fill="#e9a0a0"/>
<rect x="59.3" y="46.6" width="1.9" height="1.9" fill="#f37b73"/>
<rect x="20.1" y="54.4" width="1.9" height="1.9" fill="#f37b73"/>
<rect x="72.1" y="21.2" width="1.9" height="1.9" fill="#f37b73"/>
<rect x="75.4" y="41.9" width="1.9" height="1.9" fill="#f37b73"/>
<rect x="63.6" y="62.4" width="1.9" height="1.9" fill="#f37b73"/>
<rect x="72.0" y="49.1" width="1.9" height="1.9" fill="#f37b73"/>
<rect x="59.5" y="54.6" width="1.9" height="1.9" fill="#f37b73"/>
<rect x="61.8" y="16.0" width="1.9" height="1.9" fill="#f37b73"/>
<rect x="65.9" y="66.1" width="1.9" height="1.9" fill="#e9a0a0"/>
<rect x="61.3" y="28.1" width="1.9" height="1.9" fill="#f37b73"/>
<rect x="38.2" y="82.1" width="1.9" height="1.9" fill="#e9a0a0"/>
<rect x="41.1" y="82.8" width="1.9" height="1.9" fill="#e9a0a0"/>
<rect x="58.8" y="20.1" width="1.9" height="1.9" fill="#f37b73"/>
<rect x="92.6" y="35.9" width="1.9" height="1.9" fill="#f37b73"/>
<rect x="75.1" y="42.2" width="1.9" height="1.9" fill="#e9a0a0"/>
<rect x="49.7" y="18.9" width="1.9" height="1.9" fill="#f37b73"/>
<rect x="60.8" y="56.6" width="1.9" height="1.9" fill="#f37b73"/>
<rect x="55.5" y="51.4" width="1.9" height="1.9" fill="#f37b73"/>
<rect x="86.2" y="31.5" width="1.9" height="1.9" fill="#f37b73"/>
<rect x="72.1" y="28.2" width="1.9" height="1.9" fill="#f37b73"/>
<rect x="86.0" y="29.1" width="1.9" height="1.9" fill="#f37b73"/>
<rect x="57.6" y="21.4" width="1.9" height="1.9" fill="#e9a0a0"/>
<rect x="70.5" y="40.4" width="1.9" height="1.9" fill="#f37b73"/>
<rect x="58.2" y="24.8" width="1.9" height="1.9" fill="#f37b73"/>
<rect x="58.4" y="24.7" width="1.9" height="1.9" fill="#f37b73"/>
<rect x="55.9" y="21.9" width="1.9" height="1.9" fill="#f37b73"/>
<rect x="56.7" y="36.3" width="1.9" height="1.9" fill="#fbd6d2"/>
<rect x="86.2" y="15.0" width="1.9" height="1.9" fill="#f37b73"/>
<rect x="51.8" y="50.9" width="1.9" height="1.9" fill="#e9a0a0"/>
<rect x="88.4" y="25.0" width="1.9" height="1.9" fill="#f37b73"/>
<rect x="80.1" y="39.6" width="1.9" height="1.9" fill="#f37b73"/>
<rect x="79.0" y="34.3" width="1.9" height="1.9" fill="#f37b73"/>
<rect x="62.8" y="57.3" width="1.9" height="1.9" fill="#f37b73"/>
<rect x="62.0" y="27.8" width="1.9" height="1.9" fill="#f37b73"/>
<rect x="79.6" y="41.8" width="1.9" height="1.9" fill="#f37b73"/>
<rect x="59.9" y="22.5" width="1.9" height="1.9" fill="#f37b73"/>
<rect x="31.6" y="28.4" width="1.9" height="1.9" fill="#f37b73"/>
<rect x="71.5" y="40.2" width="1.9" height="1.9" fill="#f37b73"/>
<rect x="34.3" y="73.9" width="1.9" height="1.9" fill="#f37b73"/>
<rect x="96.6" y="20.9" width="1.9" height="1.9" fill="#f37b73"/>
<rect x="80.2" y="44.1" width="1.9" height="1.9" fill="#f37b73"/>
<rect x="75.3" y="37.7" width="1.9" height="1.9" fill="#f37b73"/>
<rect x="59.7" y="22.3" width="1.9" height="1.9" fill="#f37b73"/>
<rect x="84.4" y="24.4" width="1.9" height="1.9" fill="#f37b73"/>
<rect x="90.9" y="32.1" width="1.9" height="1.9" fill="#f37b73"/>
<rect x="56.9" y="24.0" width="1.9" height="1.9" fill="#f37b73"/>
<rect x="60.9" y="22.8" width="1.9" height="1.9" fill="#f37b73"/>
<rect x="54.6" y="39.7" width="1.9" height="1.9" fill="#fbd6d2"/>
<rect x="23.1" y="67.6" width="1.9" height="1.9" fill="#f37b73"/>
<rect x="54.7" y="29.4" width="1.9" height="1.9" fill="#fbd6d2"/>
<rect x="31.7" y="73.1" width="1.9" height="1.9" fill="#f37b73"/>
<rect x="37.2" y="77.5" width="1.9" height="1.9" fill="#f37b73"/>
<rect x="80.4" y="27.1" width="1.9" height="1.9" fill="#f37b73"/>
<rect x="77.5" y="16.7" width="1.9" height="1.9" fill="#f37b73"/>
<rect x="67.1" y="52.1" width="1.9" height="1.9" fill="#f37b73"/>
<rect x="30.5" y="58.0" width="1.9" height="1.9" fill="#fbd6d2"/>
<rect x="58.5" y="31.9" width="1.9" height="1.9" fill="#fbd6d2"/>
<rect x="76.9" y="24.1" width="1.9" height="1.9" fill="#f37b73"/>
<rect x="39.6" y="85.9" width="1.9" height="1.9" fill="#e9a0a0"/>
<rect x="77.3" y="19.2" width="1.9" height="1.9" fill="#f37b73"/>
<rect x="38.6" y="79.2" width="1.9" height="1.9" fill="#f37b73"/>
<rect x="81.3" y="41.8" width="1.9" height="1.9" fill="#e9a0a0"/>
<rect x="80.7" y="41.6" width="1.9" height="1.9" fill="#f37b73"/>
<rect x="83.5" y="35.1" width="1.9" height="1.9" fill="#f37b73"/>
<rect x="61.7" y="25.1" width="1.9" height="1.9" fill="#f37b73"/>
<rect x="96.4" y="32.3" width="1.9" height="1.9" fill="#f37b73"/>
<rect x="64.8" y="75.3" width="1.9" height="1.9" fill="#f37b73"/>
<rect x="66.1" y="70.7" width="1.9" height="1.9" fill="#f37b73"/>
<rect x="106.4" y="37.3" width="1.9" height="1.9" fill="#f37b73"/>
<rect x="84.2" y="33.6" width="1.9" height="1.9" fill="#f37b73"/>
<rect x="62.1" y="81.3" width="1.9" height="1.9" fill="#f37b73"/>
<rect x="47.6" y="21.7" width="1.9" height="1.9" fill="#f37b73"/>
<rect x="41.4" y="22.0" width="1.9" height="1.9" fill="#f37b73"/>
<rect x="96.2" y="22.2" width="1.9" height="1.9" fill="#f37b73"/>
<rect x="56.6" y="23.8" width="1.9" height="1.9" fill="#f37b73"/>
<rect x="34.1" y="30.8" width="1.9" height="1.9" fill="#f37b73"/>
<rect x="89.2" y="20.7" width="1.9" height="1.9" fill="#f37b73"/>
<rect x="82.5" y="34.8" width="1.9" height="1.9" fill="#f37b73"/>
<rect x="50.6" y="80.8" width="1.9" height="1.9" fill="#fbd6d2"/>
<rect x="28.7" y="33.2" width="1.9" height="1.9" fill="#f37b73"/>
<rect x="69.4" y="18.6" width="1.9" height="1.9" fill="#e9a0a0"/>
<rect x="62.8" y="78.7" width="1.9" height="1.9" fill="#e9a0a0"/>
<rect x="56.2" y="48.5" width="1.9" height="1.9" fill="#e9a0a0"/>
<rect x="93.2" y="23.0" width="1.9" height="1.9" fill="#f37b73"/>
<rect x="82.4" y="39.1" width="1.9" height="1.9" fill="#f37b73"/>
<rect x="91.4" y="38.5" width="1.9" height="1.9" fill="#f37b73"/>
<rect x="63.1" y="65.5" width="1.9" height="1.9" fill="#f37b73"/>
<rect x="36.8" y="33.8" width="1.9" height="1.9" fill="#fbd6d2"/>
<rect x="74.1" y="38.6" width="1.9" height="1.9" fill="#f37b73"/>
<rect x="95.0" y="30.3" width="1.9" height="1.9" fill="#f37b73"/>
<rect x="23.2" y="48.3" width="1.9" height="1.9" fill="#f37b73"/>
<rect x="79.8" y="25.3" width="1.9" height="1.9" fill="#f37b73"/>
<rect x="92.7" y="35.2" width="1.9" height="1.9" fill="#f37b73"/>
<rect x="85.3" y="38.5" width="1.9" height="1.9" fill="#f37b73"/>
<rect x="69.5" y="26.4" width="1.9" height="1.9" fill="#f37b73"/>
<rect x="71.3" y="16.8" width="1.9" height="1.9" fill="#f37b73"/>
<rect x="58.9" y="19.4" width="1.9" height="1.9" fill="#e9a0a0"/>
<rect x="20.0" y="53.0" width="1.9" height="1.9" fill="#f37b73"/>
<rect x="82.9" y="31.7" width="1.9" height="1.9" fill="#f37b73"/>
<rect x="85.7" y="22.4" width="1.9" height="1.9" fill="#f37b73"/>
<rect x="70.9" y="41.0" width="1.9" height="1.9" fill="#e9a0a0"/>
<rect x="47.1" y="21.5" width="1.9" height="1.9" fill="#e9a0a0"/>
<rect x="67.3" y="2.3" width="1.9" height="1.9" fill="#f37b73"/>
<rect x="85.3" y="25.0" width="1.9" height="1.9" fill="#e9a0a0"/>
<rect x="68.4" y="41.6" width="1.9" height="1.9" fill="#f37b73"/>
<rect x="27.5" y="68.6" width="1.9" height="1.9" fill="#f37b73"/>
<rect x="72.1" y="50.1" width="1.9" height="1.9" fill="#e9a0a0"/>
<rect x="77.3" y="41.9" width="1.9" height="1.9" fill="#f37b73"/>
<rect x="21.8" y="21.3" width="1.9" height="1.9" fill="#f37b73"/>
<rect x="52.5" y="51.1" width="1.9" height="1.9" fill="#f37b73"/>
<rect x="99.0" y="24.7" width="1.9" height="1.9" fill="#f37b73"/>
<rect x="46.1" y="87.7" width="1.9" height="1.9" fill="#f37b73"/>
<rect x="63.2" y="67.2" width="1.9" height="1.9" fill="#f37b73"/>
<rect x="46.6" y="21.8" width="1.9" height="1.9" fill="#e9a0a0"/>
<rect x="55.1" y="75.7" width="1.9" height="1.9" fill="#fbd6d2"/>
<rect x="49.5" y="27.6" width="1.9" height="1.9" fill="#f37b73"/>
<rect x="83.5" y="16.7" width="1.9" height="1.9" fill="#e9a0a0"/>
<rect x="90.9" y="36.2" width="1.9" height="1.9" fill="#f37b73"/>
<rect x="79.6" y="39.3" width="1.9" height="1.9" fill="#f37b73"/>
<rect x="77.5" y="39.2" width="1.9" height="1.9" fill="#f37b73"/>
<rect x="41.4" y="13.1" width="1.9" height="1.9" fill="#f37b73"/>
<rect x="75.2" y="41.7" width="1.9" height="1.9" fill="#f37b73"/>
<rect x="35.8" y="75.9" width="1.9" height="1.9" fill="#f37b73"/>
<rect x="21.8" y="40.1" width="1.9" height="1.9" fill="#f37b73"/>
<rect x="67.8" y="21.8" width="1.9" height="1.9" fill="#f37b73"/>
<rect x="44.2" y="75.5" width="1.9" height="1.9" fill="#fbd6d2"/>
<rect x="63.2" y="21.4" width="1.9" height="1.9" fill="#f37b73"/>
<rect x="66.2" y="65.1" width="1.9" height="1.9" fill="#f37b73"/>
<rect x="70.9" y="43.6" width="1.9" height="1.9" fill="#f37b73"/>
<rect x="86.6" y="16.3" width="1.9" height="1.9" fill="#f37b73"/>
<rect x="28.5" y="73.5" width="1.9" height="1.9" fill="#f37b73"/>
<rect x="41.1" y="81.7" width="1.9" height="1.9" fill="#f37b73"/>
<rect x="56.9" y="74.1" width="1.9" height="1.9" fill="#fbd6d2"/>
<rect x="37.1" y="26.3" width="1.9" height="1.9" fill="#f37b73"/>
<rect x="85.6" y="19.0" width="1.9" height="1.9" fill="#f37b73"/>
<rect x="59.0" y="61.0" width="1.9" height="1.9" fill="#f37b73"/>
<rect x="74.8" y="15.6" width="1.9" height="1.9" fill="#f37b73"/>
<rect x="56.9" y="19.3" width="1.9" height="1.9" fill="#f37b73"/>
<rect x="59.7" y="47.6" width="1.9" height="1.9" fill="#f37b73"/>
<rect x="99.9" y="23.6" width="1.9" height="1.9" fill="#f37b73"/>
<rect x="68.4" y="47.8" width="1.9" height="1.9" fill="#f37b73"/>
<rect x="37.1" y="83.8" width="1.9" height="1.9" fill="#f37b73"/>
<rect x="64.6" y="44.8" width="1.9" height="1.9" fill="#f37b73"/>
<rect x="51.3" y="12.1" width="1.9" height="1.9" fill="#f37b73"/>
<rect x="66.1" y="73.3" width="1.9" height="1.9" fill="#f37b73"/>
<rect x="17.6" y="13.6" width="1.9" height="1.9" fill="#f37b73"/>
<rect x="81.1" y="24.3" width="1.9" height="1.9" fill="#f37b73"/>
<rect x="77.8" y="27.8" width="1.9" height="1.9" fill="#e9a0a0"/>
<rect x="89.9" y="20.8" width="1.9" height="1.9" fill="#f37b73"/>
<rect x="66.1" y="16.4" width="1.9" height="1.9" fill="#f37b73"/>
<rect x="93.4" y="29.4" width="1.9" height="1.9" fill="#f37b73"/>
<rect x="76.9" y="27.4" width="1.9" height="1.9" fill="#f37b73"/>
<rect x="79.4" y="45.6" width="1.9" height="1.9" fill="#f37b73"/>
<rect x="59.9" y="60.0" width="1.9" height="1.9" fill="#f37b73"/>
<rect x="90.0" y="30.0" width="1.9" height="1.9" fill="#f37b73"/>
<rect x="69.6" y="23.8" width="1.9" height="1.9" fill="#f37b73"/>
<rect x="58.0" y="26.2" width="1.9" height="1.9" fill="#f37b73"/>
<rect x="98.5" y="22.2" width="1.9" height="1.9" fill="#e9a0a0"/>
<rect x="62.9" y="79.7" width="1.9" height="1.9" fill="#f37b73"/>
<rect x="48.6" y="25.3" width="1.9" height="1.9" fill="#e9a0a0"/>
<rect x="62.5" y="55.3" width="1.9" height="1.9" fill="#f37b73"/>
<rect x="93.9" y="19.4" width="1.9" height="1.9" fill="#f37b73"/>
<rect x="55.3" y="51.5" width="1.9" height="1.9" fill="#e9a0a0"/>
<rect x="24.1" y="37.0" width="1.9" height="1.9" fill="#f37b73"/>
<rect x="48.7" y="18.6" width="1.9" height="1.9" fill="#f37b73"/>
<rect x="44.1" y="26.7" width="1.9" height="1.9" fill="#f37b73"/>
<rect x="84.8" y="26.4" width="1.9" height="1.9" fill="#f37b73"/>
<rect x="35.7" y="77.9" width="1.9" height="1.9" fill="#f37b73"/>
<rect x="88.2" y="20.1" width="1.9" height="1.9" fill="#e9a0a0"/>
<rect x="40.2" y="82.4" width="1.9" height="1.9" fill="#f37b73"/>
<rect x="63.2" y="57.4" width="1.9" height="1.9" fill="#f37b73"/>
<rect x="87.9" y="38.1" width="1.9" height="1.9" fill="#e9a0a0"/>
<rect x="77.3" y="43.1" width="1.9" height="1.9" fill="#e9a0a0"/>
<rect x="65.2" y="28.3" width="1.9" height="1.9" fill="#f37b73"/>
<rect x="64.1" y="47.1" width="1.9" height="1.9" fill="#f37b73"/>
<rect x="91.4" y="26.9" width="1.9" height="1.9" fill="#f37b73"/>
<rect x="62.3" y="23.0" width="1.9" height="1.9" fill="#f37b73"/>
<rect x="18.0" y="48.4" width="1.9" height="1.9" fill="#f37b73"/>
<rect x="65.4" y="29.7" width="1.9" height="1.9" fill="#f37b73"/>
<rect x="62.7" y="59.2" width="1.9" height="1.9" fill="#f37b73"/>
<rect x="62.1" y="26.7" width="1.9" height="1.9" fill="#f37b73"/>
<rect x="75.6" y="34.5" width="1.9" height="1.9" fill="#f37b73"/>
<rect x="27.3" y="58.5" width="1.9" height="1.9" fill="#fbd6d2"/>
<rect x="81.3" y="33.3" width="1.9" height="1.9" fill="#f37b73"/>
<rect x="83.8" y="35.9" width="1.9" height="1.9" fill="#f37b73"/>
<rect x="78.9" y="40.6" width="1.9" height="1.9" fill="#f37b73"/>
<rect x="71.3" y="18.8" width="1.9" height="1.9" fill="#f37b73"/>
<rect x="65.1" y="27.0" width="1.9" height="1.9" fill="#f37b73"/>
<rect x="88.6" y="33.2" width="1.9" height="1.9" fill="#f37b73"/>
<rect x="96.9" y="19.6" width="1.9" height="1.9" fill="#f37b73"/>
<rect x="63.6" y="18.9" width="1.9" height="1.9" fill="#f37b73"/>
<rect x="39.9" y="26.4" width="1.9" height="1.9" fill="#f37b73"/>
<rect x="90.8" y="33.3" width="1.9" height="1.9" fill="#e9a0a0"/>
<rect x="84.0" y="41.8" width="1.9" height="1.9" fill="#f37b73"/>
<rect x="39.2" y="83.5" width="1.9" height="1.9" fill="#f37b73"/>
<rect x="42.5" y="41.1" width="1.9" height="1.9" fill="#fbd6d2"/>
<rect x="78.2" y="21.8" width="1.9" height="1.9" fill="#f37b73"/>
<rect x="32.0" y="30.9" width="1.9" height="1.9" fill="#f37b73"/>
<rect x="87.6" y="27.6" width="1.9" height="1.9" fill="#f37b73"/>
<rect x="60.5" y="50.3" width="1.9" height="1.9" fill="#e9a0a0"/>
<rect x="84.5" y="41.2" width="1.9" height="1.9" fill="#f37b73"/>
<rect x="46.8" y="25.3" width="1.9" height="1.9" fill="#f37b73"/>
<rect x="85.4" y="17.4" width="1.9" height="1.9" fill="#f37b73"/>
<rect x="24.1" y="9.1" width="1.9" height="1.9" fill="#f37b73"/>
<rect x="74.1" y="35.6" width="1.9" height="1.9" fill="#f37b73"/>
<rect x="65.4" y="17.0" width="1.9" height="1.9" fill="#f37b73"/>
<rect x="77.6" y="34.3" width="1.9" height="1.9" fill="#f37b73"/>
<rect x="81.7" y="28.7" width="1.9" height="1.9" fill="#f37b73"/>
<rect x="78.9" y="15.2" width="1.9" height="1.9" fill="#f37b73"/>
<rect x="52.7" y="6.5" width="1.9" height="1.9" fill="#f37b73"/>
<rect x="70.8" y="47.8" width="1.9" height="1.9" fill="#f37b73"/>
<rect x="66.3" y="64.9" width="1.9" height="1.9" fill="#f37b73"/>
<rect x="58.7" y="84.0" width="1.9" height="1.9" fill="#f37b73"/>
<rect x="85.3" y="17.6" width="1.9" height="1.9" fill="#f37b73"/>
<rect x="94.0" y="19.5" width="1.9" height="1.9" fill="#f37b73"/>
<rect x="80.7" y="28.3" width="1.9" height="1.9" fill="#f37b73"/>
<rect x="59.1" y="19.0" width="1.9" height="1.9" fill="#f37b73"/>
<rect x="61.9" y="60.5" width="1.9" height="1.9" fill="#f37b73"/>
<rect x="54.7" y="85.5" width="1.9" height="1.9" fill="#f37b73"/>
<rect x="48.3" y="24.9" width="1.9" height="1.9" fill="#f37b73"/>
<rect x="66.0" y="64.5" width="1.9" height="1.9" fill="#e9a0a0"/>
<rect x="77.0" y="18.4" width="1.9" height="1.9" fill="#f37b73"/>
<rect x="50.7" y="55.2" width="1.9" height="1.9" fill="#fbd6d2"/>
<rect x="69.5" y="23.1" width="1.9" height="1.9" fill="#f37b73"/>
<rect x="59.6" y="17.8" width="1.9" height="1.9" fill="#f37b73"/>
<rect x="81.6" y="16.0" width="1.9" height="1.9" fill="#f37b73"/>
<rect x="57.1" y="49.8" width="1.9" height="1.9" fill="#f37b73"/>
<rect x="71.4" y="14.8" width="1.9" height="1.9" fill="#f37b73"/>
<rect x="41.3" y="85.9" width="1.9" height="1.9" fill="#f37b73"/>
<rect x="33.9" y="68.1" width="1.9" height="1.9" fill="#fbd6d2"/>
<rect x="36.1" y="24.6" width="1.9" height="1.9" fill="#f37b73"/>
<rect x="43.2" y="86.8" width="1.9" height="1.9" fill="#f37b73"/>
<rect x="32.3" y="44.9" width="1.9" height="1.9" fill="#fbd6d2"/>
<rect x="75.0" y="40.0" width="1.9" height="1.9" fill="#f37b73"/>
<rect x="78.1" y="38.5" width="1.9" height="1.9" fill="#f37b73"/>
<rect x="65.8" y="52.1" width="1.9" height="1.9" fill="#f37b73"/>
<rect x="82.5" y="44.9" width="1.9" height="1.9" fill="#f37b73"/>
<rect x="81.4" y="43.7" width="1.9" height="1.9" fill="#f37b73"/>
<rect x="43.0" y="23.2" width="1.9" height="1.9" fill="#f37b73"/>
<rect x="93.7" y="19.6" width="1.9" height="1.9" fill="#f37b73"/>
<rect x="72.5" y="26.0" width="1.9" height="1.9" fill="#f37b73"/>
<rect x="76.4" y="30.7" width="1.9" height="1.9" fill="#e9a0a0"/>
<rect x="68.9" y="21.7" width="1.9" height="1.9" fill="#f37b73"/>
<rect x="70.0" y="41.4" width="1.9" height="1.9" fill="#e9a0a0"/>
<rect x="85.5" y="31.0" width="1.9" height="1.9" fill="#f37b73"/>
<rect x="57.0" y="52.2" width="1.9" height="1.9" fill="#f37b73"/>
<rect x="40.8" y="86.9" width="1.9" height="1.9" fill="#f37b73"/>
<rect x="86.5" y="22.5" width="1.9" height="1.9" fill="#f37b73"/>
<rect x="69.9" y="44.3" width="1.9" height="1.9" fill="#f37b73"/>
<rect x="55.8" y="25.3" width="1.9" height="1.9" fill="#f37b73"/>
<rect x="99.8" y="24.8" width="1.9" height="1.9" fill="#f37b73"/>
<rect x="60.7" y="56.6" width="1.9" height="1.9" fill="#f37b73"/>
<rect x="66.5" y="26.1" width="1.9" height="1.9" fill="#f37b73"/>
<rect x="92.8" y="17.0" width="1.9" height="1.9" fill="#e9a0a0"/>
<rect x="71.9" y="43.0" width="1.9" height="1.9" fill="#f37b73"/>
<rect x="76.8" y="44.7" width="1.9" height="1.9" fill="#f37b73"/>
<rect x="50.9" y="19.1" width="1.9" height="1.9" fill="#f37b73"/>
<rect x="87.3" y="25.6" width="1.9" height="1.9" fill="#f37b73"/>
<rect x="63.5" y="24.0" width="1.9" height="1.9" fill="#f37b73"/>
<rect x="54.2" y="19.1" width="1.9" height="1.9" fill="#f37b73"/>
<rect x="64.5" y="72.3" width="1.9" height="1.9" fill="#f37b73"/>
<rect x="23.6" y="54.7" width="1.9" height="1.9" fill="#fbd6d2"/>
<rect x="93.5" y="33.0" width="1.9" height="1.9" fill="#f37b73"/>
<rect x="87.4" y="34.4" width="1.9" height="1.9" fill="#e9a0a0"/>
<rect x="62.1" y="20.2" width="1.9" height="1.9" fill="#e9a0a0"/>
<rect x="60.9" y="61.7" width="1.9" height="1.9" fill="#f37b73"/>
<rect x="39.7" y="83.8" width="1.9" height="1.9" fill="#f37b73"/>
<rect x="84.0" y="40.7" width="1.9" height="1.9" fill="#f37b73"/>
<rect x="85.9" y="33.4" width="1.9" height="1.9" fill="#f37b73"/>
<rect x="81.6" y="27.8" width="1.9" height="1.9" fill="#f37b73"/>
<rect x="77.7" y="24.7" width="1.9" height="1.9" fill="#f37b73"/>
<rect x="31.2" y="31.9" width="1.9" height="1.9" fill="#f37b73"/>
<rect x="85.8" y="20.1" width="1.2" height="1.2" fill="#7cbf6a"/>
<rect x="77.8" y="23.6" width="1.2" height="1.2" fill="#7cbf6a"/>
<rect x="81.3" y="21.5" width="1.2" height="1.2" fill="#7cbf6a"/>
<rect x="84.0" y="21.1" width="1.2" height="1.2" fill="#7cbf6a"/>
<rect x="88.7" y="35.9" width="1.2" height="1.2" fill="#7cbf6a"/>
<rect x="74.2" y="32.4" width="1.2" height="1.2" fill="#7cbf6a"/>
<rect x="80.1" y="23.0" width="1.2" height="1.2" fill="#7cbf6a"/>
<rect x="92.5" y="21.9" width="1.2" height="1.2" fill="#7cbf6a"/>
<rect x="92.9" y="29.3" width="1.2" height="1.2" fill="#7cbf6a"/>
<rect x="82.1" y="32.7" width="1.2" height="1.2" fill="#7cbf6a"/>
<rect x="88.5" y="30.0" width="1.2" height="1.2" fill="#7cbf6a"/>
<rect x="93.8" y="21.8" width="1.2" height="1.2" fill="#7cbf6a"/>
<rect x="85.1" y="23.1" width="1.2" height="1.2" fill="#7cbf6a"/>
<rect x="85.0" y="35.0" width="1.2" height="1.2" fill="#7cbf6a"/>
<rect x="76.5" y="22.9" width="1.2" height="1.2" fill="#7cbf6a"/>
<rect x="81.2" y="38.1" width="1.2" height="1.2" fill="#7cbf6a"/>
<rect x="85.4" y="22.4" width="1.2" height="1.2" fill="#7cbf6a"/>
<rect x="71.2" y="33.1" width="1.2" height="1.2" fill="#7cbf6a"/>
<rect x="77.6" y="26.7" width="1.2" height="1.2" fill="#7cbf6a"/>
<rect x="70.0" y="36.8" width="1.2" height="1.2" fill="#7cbf6a"/>
<rect x="70.0" y="32.1" width="1.2" height="1.2" fill="#7cbf6a"/>
<rect x="89.3" y="34.8" width="1.2" height="1.2" fill="#7cbf6a"/>
<rect x="78.4" y="35.1" width="1.2" height="1.2" fill="#7cbf6a"/>
<rect x="102" y="38" width="1.4" height="1.4" fill="#e88fa0"/>
<rect x="104" y="39" width="1.4" height="1.4" fill="#e88fa0"/>
<rect x="108" y="38" width="1.4" height="1.4" fill="#e88fa0"/>
<rect x="111" y="39" width="1.4" height="1.4" fill="#e88fa0"/>
<rect x="99" y="36" width="1.4" height="1.4" fill="#e88fa0"/>
<rect x="105" y="41" width="1.4" height="1.4" fill="#e88fa0"/>
<path d="M44.00,90.00 C44.67,88.83 49.33,88.67 52.00,88.00 C54.67,87.33 57.33,86.83 60.00,86.00 C62.67,85.17 65.50,83.17 68.00,83.00 C70.50,82.83 73.50,83.83 75.00,85.00 C76.50,86.17 77.17,88.50 77.00,90.00 C76.83,91.50 75.17,93.00 74.00,94.00 C72.83,95.00 70.83,94.83 70.00,96.00 C69.17,97.17 69.67,99.33 69.00,101.00 C68.33,102.67 67.00,104.17 66.00,106.00 C65.00,107.83 64.00,111.50 63.00,112.00 C62.00,112.50 61.00,110.50 60.00,109.00 C59.00,107.50 58.17,104.83 57.00,103.00 C55.83,101.17 54.50,99.33 53.00,98.00 C51.50,96.67 49.50,96.33 48.00,95.00 C46.50,93.67 43.33,91.17 44.00,90.00Z" fill="#5db04a"/>
<rect x="48" y="92" width="6" height="3" fill="#e8e8e8" rx="1"/>
<rect x="51" y="96" width="5" height="3" fill="#e8e8e8" rx="1"/>
<rect x="54" y="101" width="3" height="4" fill="#e8e8e8" rx="1"/>
<rect x="57" y="97" width="3" height="2" fill="#e8e8e8" rx="1"/>
<rect x="72" y="86" width="3" height="3" fill="#e8e8e8"/>
<path d="M62.00,116.00 C62.83,115.83 64.50,116.67 65.00,118.00 C65.50,119.33 64.83,122.00 65.00,124.00 C65.17,126.00 66.17,128.33 66.00,130.00 C65.83,131.67 65.00,133.67 64.00,134.00 C63.00,134.33 61.17,133.17 60.00,132.00 C58.83,130.83 57.33,128.67 57.00,127.00 C56.67,125.33 57.50,123.33 58.00,122.00 C58.50,120.67 59.33,120.00 60.00,119.00 C60.67,118.00 61.17,116.17 62.00,116.00Z" fill="#1aa6cf"/>
<ellipse cx="18.8" cy="73" rx="4" ry="3.4" fill="#a58bc9"/>
<ellipse cx="33" cy="74.2" rx="4" ry="3" fill="#b49ad2"/>
<ellipse cx="32" cy="88" rx="6" ry="2.6" fill="#f0b8d0" transform="rotate(-24 32 88)"/>
<path d="M169,63.5 C173,65 175,70 174,75 C173,79 171,81 169,80 C171,76 171,70 168,66 Z" fill="#c678c8"/>
<path d="M160,76 C163,74.5 166,75 168,76 C166,77.5 162,78 160,77.5Z" fill="#e29ac8"/>
<path d="M163,66 C165,65 167,67 166,70 C164,72 162,70 163,66Z" fill="#f2c0d8"/>
<path d="M17.00,64.00 C17.00,62.00 16.50,55.83 17.00,52.00 C17.50,48.17 18.50,44.33 20.00,41.00 C21.50,37.67 23.50,34.67 26.00,32.00 C28.50,29.33 31.67,27.17 35.00,25.00 C38.33,22.83 42.17,20.58 46.00,19.00 C49.83,17.42 53.67,16.42 58.00,15.50 C62.33,14.58 67.33,13.67 72.00,13.50 C76.67,13.33 82.00,13.75 86.00,14.50 C90.00,15.25 93.58,16.42 96.00,18.00 C98.42,19.58 100.00,22.00 100.50,24.00 C101.00,26.00 100.42,27.83 99.00,30.00 C97.58,32.17 94.67,34.67 92.00,37.00 C89.33,39.33 85.83,41.58 83.00,44.00 C80.17,46.42 77.83,49.58 75.00,51.50 C72.17,53.42 68.83,54.83 66.00,55.50 C63.17,56.17 59.33,55.50 58.00,55.50" stroke="#222" stroke-width="1.1" stroke-dasharray="2.6,1.9" fill="none"/>
<path d="M45.00,52.00 C46.67,53.17 51.75,56.67 55.00,59.00 C58.25,61.33 62.23,64.07 64.50,66.00 C66.77,67.93 68.02,69.27 68.60,70.60 C69.18,71.93 68.68,72.65 68.00,74.00 C67.32,75.35 66.23,76.97 64.50,78.70 C62.77,80.43 59.72,82.85 57.60,84.40 C55.48,85.95 53.73,87.23 51.80,88.00 C49.87,88.77 47.92,89.22 46.00,89.00 C44.08,88.78 41.80,87.70 40.30,86.70 C38.80,85.70 37.55,83.62 37.00,83.00" stroke="#222" stroke-width="1.1" stroke-dasharray="2.6,1.9" fill="none"/>
<ellipse cx="27" cy="73" rx="14" ry="6.2" transform="rotate(6 27 73)" stroke="#222" stroke-width="1.1" stroke-dasharray="2.6,1.9" fill="none"/>
<ellipse cx="32.3" cy="88" rx="9" ry="4" transform="rotate(-24 32.3 88)" stroke="#222" stroke-width="1.1" stroke-dasharray="2.6,1.9" fill="none"/>
<path d="M42.00,89.00 C43.00,87.92 47.00,88.00 50.00,87.50 C53.00,87.00 56.67,86.92 60.00,86.00 C63.33,85.08 67.00,82.33 70.00,82.00 C73.00,81.67 76.58,82.67 78.00,84.00 C79.42,85.33 79.33,87.33 78.50,90.00 C77.67,92.67 74.92,96.83 73.00,100.00 C71.08,103.17 68.83,106.67 67.00,109.00 C65.17,111.33 63.67,114.00 62.00,114.00 C60.33,114.00 59.00,111.17 57.00,109.00 C55.00,106.83 52.17,103.50 50.00,101.00 C47.83,98.50 45.33,96.00 44.00,94.00 C42.67,92.00 41.00,90.08 42.00,89.00Z" stroke="#222" stroke-width="1.1" stroke-dasharray="2.6,1.9" fill="none"/>
<ellipse cx="63.5" cy="125.5" rx="9" ry="11.5" stroke="#222" stroke-width="1.1" stroke-dasharray="2.6,1.9" fill="none"/>
<ellipse cx="166.3" cy="71.8" rx="10" ry="9.5" stroke="#222" stroke-width="1.1" stroke-dasharray="2.6,1.9" fill="none"/>
<text x="40.5" y="44.5" font-size="7" text-anchor="middle" fill="#8a1a1a">0</text>
<text x="26.2" y="76" font-size="7" text-anchor="middle" fill="#4a2a5a">8</text>
<text x="32.6" y="90.8" font-size="7.6" text-anchor="middle" fill="#a01850" transform="rotate(-15 32.6 88)">10</text>
<text x="62.5" y="100.5" font-size="7" text-anchor="middle" fill="#1a3a1a">3</text>
<text x="64" y="128.5" font-size="7" text-anchor="middle" fill="#123a5a">6</text>
<text x="167.5" y="72.5" font-size="6.5" text-anchor="middle" fill="#2a3a1a">9</text>
<text x="95.4" y="64" font-size="7.5" fill="#222" text-anchor="middle">Shared</text>
<text x="95.4" y="73.4" font-size="7.5" fill="#222" text-anchor="middle">population</text>
<line x1="81.8" y1="57.8" x2="77" y2="53.7" stroke="#111" stroke-width="1.1"/>
<path d="M74,51.2 L78.9,52.3 L76,55.9Z" fill="#111"/>
<text x="162.8" y="46.5" font-size="7.5" fill="#222" text-anchor="middle">T2</text>
<text x="162.8" y="56.4" font-size="7.5" fill="#222" text-anchor="middle">predominant</text>
<line x1="157.8" y1="58.8" x2="161.5" y2="64.5" stroke="#111" stroke-width="1"/>
<path d="M163.5,67.5 L158.8,64.8 L163,62.5Z" fill="#111"/>
<text x="21" y="103" font-size="7.5" fill="#222" text-anchor="middle">T1</text>
<text x="21" y="112.4" font-size="7.5" fill="#222" text-anchor="middle">predominant</text>
<line x1="20.2" y1="96" x2="20.2" y2="77" stroke="#111" stroke-width="1"/>
<path d="M20.2,72.5 L17.6,78 L22.8,78Z" fill="#111"/>
<path d="M23.2,124 V147 H45.5" fill="none" stroke="#111" stroke-width="1.4"/>
<path d="M23.2,119.2 L20.4,125 L26,125Z" fill="#111"/>
<path d="M50.2,147 L44.4,144.2 L44.4,149.8Z" fill="#111"/>
<text x="0" y="0" font-size="8" fill="#222" text-anchor="middle" transform="translate(16.8,133.7) rotate(-90)" textLength="28.2" lengthAdjust="spacingAndGlyphs">UMAP-2</text>
<text x="35" y="160" font-size="8" fill="#222" text-anchor="middle" textLength="28.2" lengthAdjust="spacingAndGlyphs">UMAP-1</text>
<text x="107.7" y="107.4" font-size="7.2" fill="#222" textLength="31.5" lengthAdjust="spacingAndGlyphs">Time point</text>
<rect x="142.8" y="102.5" width="7.6" height="6.5" fill="#71b1e0"/>
<text x="153.4" y="107.4" font-size="7.4" fill="#222" textLength="6.4" lengthAdjust="spacingAndGlyphs">T1</text>
<rect x="162" y="102.5" width="8" height="6.5" fill="#f7aa2f"/>
<text x="172.4" y="107.4" font-size="7.4" fill="#222" textLength="7.3" lengthAdjust="spacingAndGlyphs">T2</text>
<rect x="113" y="113.4" width="10" height="37.00" fill="#71b1e0"/>
<rect x="113" y="134.12" width="10" height="16.28" fill="#f7aa2f"/>
<rect x="124.8" y="113.4" width="10" height="37.00" fill="#71b1e0"/>
<rect x="124.8" y="127.09" width="10" height="23.31" fill="#f7aa2f"/>
<rect x="136.5" y="113.4" width="10" height="37.00" fill="#71b1e0"/>
<rect x="136.5" y="113.40" width="10" height="37.00" fill="#f7aa2f"/>
<rect x="147.7" y="113.4" width="10" height="37.00" fill="#71b1e0"/>
<rect x="147.7" y="138.93" width="10" height="11.47" fill="#f7aa2f"/>
<rect x="159" y="113.4" width="10" height="37.00" fill="#71b1e0"/>
<rect x="159" y="113.40" width="10" height="37.00" fill="#f7aa2f"/>
<rect x="170" y="113.4" width="10" height="37.00" fill="#71b1e0"/>
<rect x="170" y="121.54" width="10" height="28.86" fill="#f7aa2f"/>
<line x1="110.7" y1="109.9" x2="110.7" y2="153.8" stroke="#222" stroke-width="1"/>
<line x1="108.6" y1="150.40" x2="110.7" y2="150.40" stroke="#222" stroke-width="0.9"/>
<text x="106" y="152.90" font-size="7.4" text-anchor="end" fill="#222" textLength="4.4" lengthAdjust="spacingAndGlyphs">0</text>
<line x1="108.6" y1="141.15" x2="110.7" y2="141.15" stroke="#222" stroke-width="0.9"/>
<text x="106" y="143.65" font-size="7.4" text-anchor="end" fill="#222" textLength="8.8" lengthAdjust="spacingAndGlyphs">25</text>
<line x1="108.6" y1="131.90" x2="110.7" y2="131.90" stroke="#222" stroke-width="0.9"/>
<text x="106" y="134.40" font-size="7.4" text-anchor="end" fill="#222" textLength="8.8" lengthAdjust="spacingAndGlyphs">50</text>
<line x1="108.6" y1="122.65" x2="110.7" y2="122.65" stroke="#222" stroke-width="0.9"/>
<text x="106" y="125.15" font-size="7.4" text-anchor="end" fill="#222" textLength="8.8" lengthAdjust="spacingAndGlyphs">75</text>
<line x1="108.6" y1="113.40" x2="110.7" y2="113.40" stroke="#222" stroke-width="0.9"/>
<text x="106" y="115.90" font-size="7.4" text-anchor="end" fill="#222" textLength="13.2" lengthAdjust="spacingAndGlyphs">100</text>
<line x1="118" y1="150.4" x2="118" y2="152.4" stroke="#222" stroke-width="0.9"/>
<text x="118" y="159.6" font-size="8" text-anchor="middle" fill="#222">0</text>
<line x1="129.8" y1="150.4" x2="129.8" y2="152.4" stroke="#222" stroke-width="0.9"/>
<text x="129.8" y="159.6" font-size="8" text-anchor="middle" fill="#222">3</text>
<line x1="141.5" y1="150.4" x2="141.5" y2="152.4" stroke="#222" stroke-width="0.9"/>
<text x="141.5" y="159.6" font-size="8" text-anchor="middle" fill="#222">6</text>
<line x1="152.7" y1="150.4" x2="152.7" y2="152.4" stroke="#222" stroke-width="0.9"/>
<text x="152.7" y="159.6" font-size="8" text-anchor="middle" fill="#222">8</text>
<line x1="164" y1="150.4" x2="164" y2="152.4" stroke="#222" stroke-width="0.9"/>
<text x="164" y="159.6" font-size="8" text-anchor="middle" fill="#222">9</text>
<line x1="175" y1="150.4" x2="175" y2="152.4" stroke="#222" stroke-width="0.9"/>
<text x="175" y="159.6" font-size="8" text-anchor="middle" fill="#222">10</text>
<text x="0" y="0" font-size="8.6" fill="#222" text-anchor="middle" transform="translate(87.6,132.2) rotate(-90)" textLength="22.6" lengthAdjust="spacingAndGlyphs">Percent</text>
<line x1="33.4" y1="213.6" x2="33.4" y2="277.2" stroke="#333" stroke-width="1"/>
<line x1="33.4" y1="289.5" x2="33.4" y2="355.6" stroke="#333" stroke-width="1"/>
<line x1="33.4" y1="355.5" x2="95.2" y2="355.5" stroke="#444" stroke-width="1.2"/>
<line x1="99.2" y1="355.5" x2="161.4" y2="355.5" stroke="#444" stroke-width="1.2"/>
<line x1="165.4" y1="355.5" x2="227.2" y2="355.5" stroke="#444" stroke-width="1.2"/>
<line x1="51.8" y1="214" x2="51.8" y2="278" stroke="#555" stroke-width="1.0" stroke-dasharray="3.6,2.8" fill="none"/>
<line x1="51.8" y1="291" x2="51.8" y2="356" stroke="#555" stroke-width="1.0" stroke-dasharray="3.6,2.8" fill="none"/>
<line x1="117" y1="214" x2="117" y2="278" stroke="#555" stroke-width="1.0" stroke-dasharray="3.6,2.8" fill="none"/>
<line x1="117" y1="291" x2="117" y2="356" stroke="#555" stroke-width="1.0" stroke-dasharray="3.6,2.8" fill="none"/>
<line x1="182.5" y1="214" x2="182.5" y2="278" stroke="#555" stroke-width="1.0" stroke-dasharray="3.6,2.8" fill="none"/>
<line x1="182.5" y1="291" x2="182.5" y2="356" stroke="#555" stroke-width="1.0" stroke-dasharray="3.6,2.8" fill="none"/>
<line x1="76" y1="244.6" x2="229" y2="244.6" stroke="#555" stroke-width="1.0" stroke-dasharray="3.6,2.8" fill="none"/>
<line x1="34" y1="323.1" x2="229" y2="323.1" stroke="#555" stroke-width="1.0" stroke-dasharray="3.6,2.8" fill="none"/>
<path d="M65.64,220.03 C68.38,220.31 69.71,220.92 71.38,223.42 C73.05,225.92 74.94,231.14 75.67,235.03 C76.40,238.92 76.16,242.59 75.74,246.73 C75.32,250.87 74.75,256.72 73.15,259.85 C71.54,262.98 68.65,264.24 66.11,265.52 C63.57,266.81 60.37,267.86 57.90,267.55 C55.44,267.25 52.77,265.36 51.31,263.69 C49.85,262.03 49.69,261.06 49.13,257.56 C48.56,254.06 48.14,247.55 47.92,242.68 C47.71,237.80 46.68,231.83 47.85,228.34 C49.02,224.85 51.99,223.13 54.95,221.75 C57.92,220.36 62.90,219.75 65.64,220.03Z" fill="#f6a8a8" fill-opacity="0.11" stroke="#e98080" stroke-width="0.55"/>
<path d="M64.85,223.55 C67.30,223.82 69.73,225.13 71.19,227.19 C72.66,229.26 73.18,232.66 73.65,235.95 C74.12,239.24 74.29,243.05 74.02,246.91 C73.76,250.78 73.37,256.35 72.05,259.15 C70.73,261.95 68.22,262.56 66.09,263.69 C63.97,264.82 61.51,266.23 59.32,265.94 C57.14,265.65 54.39,263.44 52.97,261.94 C51.55,260.44 51.32,259.88 50.80,256.96 C50.29,254.04 49.82,248.74 49.86,244.43 C49.90,240.12 49.94,234.24 51.05,231.10 C52.16,227.97 54.21,226.88 56.51,225.63 C58.81,224.37 62.41,223.29 64.85,223.55Z" fill="#f6a8a8" fill-opacity="0.11" stroke="#e98080" stroke-width="0.55"/>
<path d="M64.96,226.78 C67.03,227.07 69.01,228.70 70.31,230.69 C71.61,232.68 72.33,235.82 72.75,238.72 C73.17,241.63 73.03,245.03 72.82,248.13 C72.62,251.23 72.67,254.92 71.51,257.33 C70.34,259.74 67.76,261.59 65.83,262.61 C63.90,263.63 61.88,263.92 59.92,263.44 C57.96,262.95 55.27,261.04 54.06,259.69 C52.86,258.34 52.93,257.89 52.67,255.34 C52.41,252.80 52.48,248.02 52.51,244.43 C52.55,240.85 52.00,236.42 52.90,233.84 C53.79,231.26 55.88,230.12 57.89,228.94 C59.90,227.76 62.89,226.48 64.96,226.78Z" fill="#f6a8a8" fill-opacity="0.11" stroke="#e98080" stroke-width="0.55"/>
<path d="M65.00,230.43 C66.79,230.70 68.56,231.85 69.62,233.44 C70.67,235.02 71.01,237.44 71.36,239.95 C71.71,242.45 71.92,245.82 71.73,248.47 C71.54,251.12 71.20,253.83 70.23,255.83 C69.26,257.82 67.48,259.57 65.93,260.44 C64.37,261.31 62.50,261.47 60.89,261.05 C59.27,260.63 57.31,259.00 56.26,257.92 C55.21,256.85 54.97,256.61 54.58,254.60 C54.18,252.59 53.96,248.86 53.88,245.86 C53.79,242.85 53.25,238.91 54.09,236.58 C54.93,234.25 57.10,232.88 58.92,231.85 C60.74,230.83 63.22,230.17 65.00,230.43Z" fill="#f6a8a8" fill-opacity="0.11" stroke="#e98080" stroke-width="0.55"/>
<path d="M64.79,234.37 C66.31,234.58 67.72,235.37 68.58,236.64 C69.45,237.90 69.69,239.96 69.96,241.94 C70.24,243.93 70.41,246.33 70.22,248.57 C70.04,250.80 69.70,253.72 68.86,255.37 C68.02,257.03 66.48,257.88 65.17,258.49 C63.87,259.10 62.22,259.36 61.01,259.03 C59.81,258.70 58.75,257.34 57.95,256.51 C57.14,255.68 56.50,255.79 56.19,254.04 C55.88,252.29 55.98,248.56 56.08,246.03 C56.17,243.49 56.21,240.61 56.78,238.83 C57.34,237.04 58.13,236.07 59.46,235.33 C60.80,234.58 63.27,234.15 64.79,234.37Z" fill="#f6a8a8" fill-opacity="0.11" stroke="#e98080" stroke-width="0.55"/>
<path d="M65.06,237.90 C66.16,238.05 66.96,238.52 67.58,239.51 C68.21,240.50 68.52,242.28 68.82,243.85 C69.11,245.42 69.41,247.24 69.35,248.93 C69.28,250.63 69.05,252.76 68.43,254.02 C67.80,255.29 66.64,256.03 65.60,256.51 C64.56,257.00 63.20,257.16 62.18,256.93 C61.17,256.69 60.16,255.76 59.49,255.10 C58.82,254.44 58.36,254.32 58.18,252.97 C58.00,251.62 58.36,248.90 58.41,246.99 C58.45,245.09 58.01,242.94 58.45,241.54 C58.88,240.14 59.91,239.21 61.01,238.60 C62.11,237.99 63.97,237.74 65.06,237.90Z" fill="#f6a8a8" fill-opacity="0.11" stroke="#e98080" stroke-width="0.55"/>
<path d="M65.18,241.34 C65.97,241.44 66.59,241.96 67.00,242.69 C67.42,243.42 67.53,244.69 67.67,245.74 C67.80,246.79 67.90,247.85 67.80,248.99 C67.70,250.13 67.50,251.66 67.06,252.58 C66.61,253.51 65.79,254.11 65.12,254.53 C64.45,254.96 63.69,255.26 63.04,255.15 C62.40,255.03 61.71,254.35 61.25,253.83 C60.79,253.32 60.46,253.04 60.28,252.08 C60.09,251.12 60.12,249.38 60.14,248.08 C60.17,246.77 60.07,245.24 60.43,244.24 C60.79,243.24 61.49,242.55 62.28,242.06 C63.07,241.58 64.39,241.23 65.18,241.34Z" fill="#f6a8a8" fill-opacity="0.11" stroke="#e98080" stroke-width="0.55"/>
<path d="M122.44,228.84 C124.13,227.47 126.29,227.32 128.37,226.90 C130.45,226.49 133.15,226.21 134.93,226.37 C136.70,226.52 137.54,227.98 139.01,227.84 C140.49,227.70 142.60,224.51 143.76,225.53 C144.92,226.56 145.73,230.90 146.00,233.97 C146.26,237.04 146.15,240.10 145.34,243.98 C144.53,247.86 142.59,253.44 141.14,257.25 C139.69,261.07 138.49,264.50 136.63,266.87 C134.78,269.23 132.60,270.79 130.02,271.44 C127.45,272.09 123.38,271.82 121.17,270.76 C118.96,269.71 117.65,267.80 116.76,265.09 C115.86,262.39 115.75,257.80 115.80,254.53 C115.85,251.26 116.66,248.70 117.07,245.47 C117.47,242.25 117.32,237.95 118.22,235.18 C119.11,232.41 120.75,230.22 122.44,228.84Z" fill="#9fd68e" fill-opacity="0.12" stroke="#6cbd58" stroke-width="0.55"/>
<path d="M123.76,231.71 C125.23,230.58 126.85,230.14 128.59,229.85 C130.32,229.56 132.49,229.97 134.18,229.97 C135.86,229.97 137.39,230.10 138.69,229.85 C140.00,229.59 141.11,227.45 142.00,228.45 C142.89,229.46 143.83,233.18 144.05,235.86 C144.27,238.55 144.04,241.09 143.31,244.54 C142.58,248.00 140.97,253.25 139.69,256.59 C138.40,259.93 137.19,262.52 135.59,264.59 C133.99,266.67 132.30,268.27 130.07,269.01 C127.85,269.75 124.18,269.93 122.24,269.03 C120.30,268.14 119.17,266.12 118.43,263.63 C117.70,261.14 117.80,256.97 117.83,254.10 C117.86,251.24 118.29,249.35 118.61,246.45 C118.94,243.55 118.94,239.14 119.80,236.68 C120.65,234.23 122.30,232.85 123.76,231.71Z" fill="#9fd68e" fill-opacity="0.12" stroke="#6cbd58" stroke-width="0.55"/>
<path d="M124.54,233.45 C125.97,232.45 127.60,232.47 129.10,232.19 C130.60,231.92 132.12,231.66 133.53,231.80 C134.94,231.94 136.43,233.09 137.59,233.05 C138.74,233.02 139.75,230.87 140.46,231.60 C141.18,232.32 141.71,235.08 141.87,237.41 C142.02,239.74 141.91,242.57 141.39,245.59 C140.87,248.60 139.81,252.71 138.76,255.50 C137.71,258.30 136.52,260.57 135.09,262.35 C133.66,264.14 132.12,265.47 130.17,266.19 C128.21,266.92 125.12,267.40 123.36,266.69 C121.60,265.98 120.32,264.13 119.61,261.93 C118.89,259.74 119.04,256.15 119.07,253.52 C119.11,250.90 119.59,248.72 119.84,246.17 C120.08,243.62 119.74,240.35 120.53,238.23 C121.31,236.11 123.11,234.46 124.54,233.45Z" fill="#9fd68e" fill-opacity="0.12" stroke="#6cbd58" stroke-width="0.55"/>
<path d="M125.25,235.78 C126.35,234.99 127.41,235.06 128.71,234.93 C130.01,234.80 131.74,234.97 133.05,234.99 C134.35,235.01 135.50,235.23 136.53,235.07 C137.56,234.91 138.58,233.30 139.21,234.04 C139.85,234.78 140.20,237.49 140.32,239.50 C140.45,241.52 140.40,243.53 139.94,246.12 C139.48,248.71 138.50,252.53 137.55,255.02 C136.60,257.51 135.53,259.56 134.24,261.04 C132.96,262.51 131.47,263.37 129.83,263.86 C128.18,264.36 125.83,264.72 124.38,264.01 C122.92,263.29 121.73,261.35 121.12,259.58 C120.51,257.80 120.74,255.43 120.70,253.35 C120.67,251.27 120.66,249.39 120.91,247.11 C121.15,244.83 121.44,241.57 122.17,239.68 C122.89,237.79 124.16,236.57 125.25,235.78Z" fill="#9fd68e" fill-opacity="0.12" stroke="#6cbd58" stroke-width="0.55"/>
<path d="M126.06,238.32 C127.06,237.58 128.16,237.32 129.27,237.16 C130.39,237.00 131.81,237.33 132.75,237.37 C133.70,237.41 134.12,237.45 134.96,237.38 C135.80,237.31 137.23,236.31 137.80,236.94 C138.37,237.58 138.30,239.57 138.39,241.18 C138.47,242.79 138.70,244.45 138.30,246.60 C137.90,248.75 136.77,251.99 135.98,254.08 C135.18,256.16 134.52,257.88 133.50,259.13 C132.49,260.38 131.27,261.21 129.89,261.59 C128.51,261.97 126.41,261.94 125.20,261.40 C123.99,260.86 123.11,259.85 122.61,258.38 C122.11,256.91 122.16,254.43 122.20,252.60 C122.24,250.76 122.68,249.21 122.85,247.38 C123.02,245.55 122.69,243.11 123.23,241.60 C123.76,240.09 125.05,239.06 126.06,238.32Z" fill="#9fd68e" fill-opacity="0.12" stroke="#6cbd58" stroke-width="0.55"/>
<path d="M126.88,240.50 C127.64,239.90 128.36,239.84 129.26,239.72 C130.16,239.60 131.41,239.73 132.26,239.76 C133.10,239.80 133.70,240.01 134.34,239.95 C134.97,239.90 135.65,238.92 136.09,239.42 C136.53,239.92 136.92,241.64 136.99,242.94 C137.05,244.23 136.84,245.48 136.48,247.19 C136.12,248.90 135.43,251.51 134.85,253.21 C134.27,254.91 133.83,256.41 132.99,257.41 C132.16,258.41 131.00,258.90 129.86,259.23 C128.72,259.56 127.12,259.84 126.18,259.39 C125.23,258.94 124.61,257.75 124.19,256.53 C123.78,255.32 123.66,253.54 123.68,252.11 C123.69,250.67 124.11,249.39 124.28,247.92 C124.44,246.45 124.22,244.51 124.65,243.28 C125.09,242.04 126.11,241.09 126.88,240.50Z" fill="#9fd68e" fill-opacity="0.12" stroke="#6cbd58" stroke-width="0.55"/>
<path d="M127.56,242.97 C128.14,242.51 129.00,242.31 129.64,242.23 C130.29,242.15 130.82,242.41 131.42,242.49 C132.02,242.57 132.73,242.79 133.26,242.74 C133.79,242.68 134.27,241.85 134.60,242.16 C134.93,242.48 135.18,243.63 135.26,244.63 C135.33,245.62 135.29,246.82 135.03,248.13 C134.77,249.45 134.18,251.30 133.68,252.51 C133.19,253.72 132.70,254.67 132.08,255.39 C131.45,256.12 130.75,256.60 129.91,256.85 C129.07,257.11 127.77,257.27 127.06,256.93 C126.35,256.58 125.91,255.67 125.65,254.80 C125.39,253.93 125.50,252.74 125.51,251.71 C125.53,250.69 125.64,249.76 125.75,248.65 C125.86,247.53 125.87,245.95 126.17,245.01 C126.47,244.06 126.99,243.44 127.56,242.97Z" fill="#9fd68e" fill-opacity="0.12" stroke="#6cbd58" stroke-width="0.55"/>
<path d="M128.29,245.39 C128.67,245.09 129.13,244.93 129.60,244.85 C130.07,244.77 130.68,244.85 131.09,244.90 C131.50,244.95 131.74,245.19 132.07,245.15 C132.41,245.10 132.89,244.41 133.10,244.64 C133.32,244.88 133.32,245.88 133.36,246.56 C133.39,247.24 133.46,247.90 133.29,248.74 C133.13,249.58 132.70,250.78 132.39,251.61 C132.08,252.43 131.85,253.18 131.44,253.70 C131.03,254.22 130.48,254.56 129.93,254.73 C129.37,254.90 128.58,254.99 128.11,254.73 C127.64,254.48 127.30,253.78 127.10,253.19 C126.91,252.60 126.97,251.89 126.95,251.18 C126.93,250.47 126.91,249.71 126.97,248.96 C127.04,248.21 127.09,247.26 127.31,246.66 C127.53,246.07 127.91,245.69 128.29,245.39Z" fill="#9fd68e" fill-opacity="0.12" stroke="#6cbd58" stroke-width="0.55"/>
<path d="M203.79,226.68 C205.65,227.34 207.44,232.02 208.42,235.72 C209.39,239.43 210.00,244.67 209.65,248.92 C209.31,253.17 208.07,257.60 206.33,261.24 C204.59,264.88 201.43,268.51 199.21,270.78 C196.99,273.04 194.86,275.17 193.03,274.82 C191.20,274.47 189.03,271.76 188.24,268.68 C187.45,265.61 187.60,260.58 188.27,256.34 C188.94,252.10 190.77,247.34 192.26,243.25 C193.76,239.15 195.32,234.52 197.24,231.75 C199.16,228.99 201.93,226.02 203.79,226.68Z" fill="#7fd0ea" fill-opacity="0.13" stroke="#34b3db" stroke-width="0.6"/>
<path d="M202.96,230.86 C204.61,231.44 206.23,235.72 207.17,238.85 C208.10,241.97 208.95,246.02 208.57,249.62 C208.20,253.23 206.54,257.27 204.90,260.47 C203.27,263.67 200.64,266.86 198.74,268.83 C196.84,270.79 194.97,272.45 193.50,272.24 C192.03,272.03 190.55,270.29 189.91,267.56 C189.26,264.83 189.13,259.66 189.64,255.86 C190.14,252.06 191.66,248.16 192.93,244.74 C194.21,241.32 195.60,237.68 197.27,235.36 C198.94,233.05 201.31,230.28 202.96,230.86Z" fill="#7fd0ea" fill-opacity="0.13" stroke="#34b3db" stroke-width="0.6"/>
<path d="M202.18,234.49 C203.60,235.00 204.86,238.46 205.57,241.16 C206.27,243.86 206.71,247.66 206.42,250.70 C206.13,253.75 205.21,256.68 203.85,259.43 C202.48,262.17 199.87,265.40 198.21,267.17 C196.56,268.95 195.16,270.36 193.91,270.08 C192.66,269.81 191.18,267.90 190.69,265.53 C190.21,263.15 190.58,259.04 191.00,255.82 C191.43,252.60 192.24,249.16 193.25,246.20 C194.26,243.25 195.59,240.06 197.08,238.11 C198.57,236.16 200.77,233.98 202.18,234.49Z" fill="#7fd0ea" fill-opacity="0.13" stroke="#34b3db" stroke-width="0.6"/>
<path d="M201.27,238.14 C202.42,238.52 203.38,241.41 204.04,243.63 C204.71,245.85 205.54,248.91 205.26,251.46 C204.98,254.02 203.51,256.65 202.36,258.97 C201.21,261.28 199.70,263.90 198.37,265.36 C197.04,266.81 195.52,267.92 194.39,267.70 C193.26,267.48 192.05,265.97 191.57,264.04 C191.09,262.11 191.08,258.74 191.50,256.10 C191.92,253.45 193.16,250.62 194.10,248.17 C195.03,245.71 195.92,243.02 197.12,241.35 C198.31,239.68 200.11,237.76 201.27,238.14Z" fill="#7fd0ea" fill-opacity="0.13" stroke="#34b3db" stroke-width="0.6"/>
<path d="M200.31,241.42 C201.28,241.78 202.41,244.23 202.94,246.11 C203.46,247.99 203.70,250.59 203.46,252.68 C203.23,254.76 202.47,256.84 201.55,258.63 C200.62,260.41 199.01,262.26 197.92,263.38 C196.82,264.50 195.85,265.47 194.98,265.35 C194.11,265.24 193.09,264.28 192.70,262.68 C192.32,261.09 192.41,258.02 192.68,255.80 C192.95,253.58 193.58,251.34 194.32,249.37 C195.06,247.39 196.12,245.27 197.11,243.95 C198.11,242.62 199.34,241.05 200.31,241.42Z" fill="#7fd0ea" fill-opacity="0.13" stroke="#34b3db" stroke-width="0.6"/>
<path d="M199.60,244.86 C200.32,245.11 201.14,246.99 201.52,248.38 C201.89,249.77 202.06,251.64 201.85,253.21 C201.65,254.78 200.96,256.40 200.28,257.80 C199.61,259.20 198.64,260.69 197.81,261.59 C196.99,262.50 196.03,263.30 195.34,263.22 C194.65,263.13 193.97,262.29 193.69,261.09 C193.41,259.89 193.41,257.69 193.66,256.01 C193.90,254.33 194.60,252.56 195.18,251.03 C195.77,249.51 196.41,247.90 197.15,246.87 C197.88,245.84 198.87,244.61 199.60,244.86Z" fill="#7fd0ea" fill-opacity="0.13" stroke="#34b3db" stroke-width="0.6"/>
<path d="M198.77,248.44 C199.23,248.62 199.63,249.81 199.89,250.78 C200.15,251.75 200.41,253.17 200.33,254.26 C200.25,255.35 199.89,256.37 199.41,257.30 C198.92,258.23 198.01,259.25 197.42,259.85 C196.84,260.45 196.35,260.94 195.91,260.88 C195.46,260.81 194.93,260.29 194.73,259.46 C194.54,258.63 194.54,257.04 194.72,255.91 C194.89,254.77 195.39,253.66 195.79,252.63 C196.19,251.61 196.61,250.44 197.10,249.74 C197.60,249.04 198.30,248.27 198.77,248.44Z" fill="#7fd0ea" fill-opacity="0.13" stroke="#34b3db" stroke-width="0.6"/>
<path d="M50.10,336.19 C49.73,332.82 49.44,324.41 50.84,319.85 C52.24,315.29 55.29,311.48 58.49,308.84 C61.69,306.19 66.33,305.76 70.02,303.97 C73.72,302.19 77.24,299.17 80.65,298.12 C84.07,297.07 88.38,296.18 90.52,297.69 C92.66,299.20 93.56,303.37 93.48,307.20 C93.39,311.03 92.30,317.18 90.04,320.66 C87.77,324.14 83.95,324.91 79.91,328.07 C75.88,331.24 69.39,337.09 65.82,339.63 C62.26,342.18 60.64,343.25 58.51,343.33 C56.38,343.41 54.44,341.30 53.04,340.11 C51.64,338.92 50.47,339.57 50.10,336.19Z" fill="#c8c0ea" fill-opacity="0.06" stroke="#9a8fd2" stroke-width="0.5"/>
<path d="M52.48,334.40 C52.13,331.47 51.44,324.76 52.57,320.88 C53.70,316.99 56.34,313.28 59.26,311.08 C62.17,308.89 66.94,309.11 70.07,307.70 C73.19,306.30 75.26,303.54 78.01,302.66 C80.77,301.79 84.74,301.14 86.60,302.47 C88.46,303.80 89.19,307.41 89.17,310.64 C89.16,313.87 88.32,318.99 86.53,321.88 C84.74,324.77 81.86,325.41 78.42,327.97 C74.99,330.53 69.11,335.09 65.91,337.23 C62.70,339.37 61.09,340.61 59.21,340.81 C57.34,341.02 55.77,339.53 54.64,338.46 C53.52,337.39 52.83,337.33 52.48,334.40Z" fill="#c8c0ea" fill-opacity="0.06" stroke="#9a8fd2" stroke-width="0.5"/>
<path d="M54.52,333.40 C54.28,330.92 54.08,324.87 55.13,321.64 C56.17,318.42 58.48,315.83 60.79,314.04 C63.10,312.25 66.42,312.15 68.98,310.89 C71.53,309.62 73.75,307.19 76.12,306.45 C78.50,305.71 81.66,305.26 83.21,306.43 C84.75,307.60 85.50,310.77 85.39,313.47 C85.28,316.18 84.11,320.27 82.53,322.68 C80.95,325.09 78.74,325.84 75.94,327.95 C73.13,330.07 68.31,333.54 65.73,335.36 C63.14,337.18 61.95,338.68 60.43,338.87 C58.91,339.07 57.57,337.44 56.59,336.52 C55.61,335.61 54.77,335.88 54.52,333.40Z" fill="#c8c0ea" fill-opacity="0.06" stroke="#9a8fd2" stroke-width="0.5"/>
<path d="M57.23,332.24 C57.05,330.30 56.56,325.31 57.31,322.73 C58.05,320.16 59.87,318.18 61.70,316.76 C63.53,315.35 66.21,315.21 68.29,314.23 C70.36,313.26 72.30,311.47 74.14,310.92 C75.98,310.38 78.17,310.12 79.34,310.96 C80.52,311.80 81.19,313.85 81.22,315.95 C81.24,318.06 80.70,321.61 79.49,323.60 C78.28,325.60 76.18,326.22 73.94,327.92 C71.69,329.62 68.08,332.43 66.02,333.80 C63.97,335.18 62.87,336.06 61.61,336.15 C60.34,336.24 59.15,335.00 58.42,334.35 C57.69,333.69 57.42,334.17 57.23,332.24Z" fill="#c8c0ea" fill-opacity="0.06" stroke="#9a8fd2" stroke-width="0.5"/>
<path d="M59.34,330.95 C59.19,329.46 58.82,325.65 59.42,323.70 C60.02,321.75 61.53,320.32 62.93,319.24 C64.33,318.17 66.30,317.97 67.82,317.25 C69.33,316.53 70.65,315.34 72.04,314.93 C73.43,314.52 75.26,314.13 76.15,314.79 C77.04,315.46 77.44,317.32 77.40,318.91 C77.36,320.49 76.80,322.89 75.92,324.31 C75.04,325.73 73.76,326.09 72.12,327.42 C70.48,328.76 67.63,331.21 66.08,332.32 C64.53,333.42 63.77,334.02 62.81,334.07 C61.85,334.12 60.90,333.13 60.32,332.61 C59.75,332.09 59.49,332.43 59.34,330.95Z" fill="#c8c0ea" fill-opacity="0.06" stroke="#9a8fd2" stroke-width="0.5"/>
<path d="M61.44,329.60 C61.32,328.61 61.22,326.17 61.64,324.89 C62.06,323.61 63.01,322.62 63.96,321.90 C64.91,321.18 66.33,321.04 67.34,320.55 C68.35,320.06 69.10,319.22 70.00,318.93 C70.91,318.65 72.16,318.42 72.77,318.83 C73.38,319.25 73.69,320.35 73.68,321.43 C73.67,322.51 73.29,324.32 72.69,325.32 C72.10,326.31 71.22,326.54 70.11,327.39 C68.99,328.24 67.06,329.71 66.00,330.41 C64.94,331.11 64.36,331.53 63.75,331.60 C63.15,331.67 62.75,331.17 62.37,330.83 C61.98,330.50 61.56,330.59 61.44,329.60Z" fill="#c8c0ea" fill-opacity="0.06" stroke="#9a8fd2" stroke-width="0.5"/>
<circle cx="62.1" cy="329.4" r="1.6" fill="none" stroke="#9a8fd2" stroke-width="0.5"/>
<circle cx="80.8" cy="315.6" r="1.3" fill="none" stroke="#9a8fd2" stroke-width="0.5"/>
<path d="M104.80,310.80 C106.30,309.13 109.47,307.30 112.00,306.00 C114.53,304.70 117.22,303.53 120.00,303.00 C122.78,302.47 127.20,301.80 128.70,302.80 C130.20,303.80 128.62,306.47 129.00,309.00 C129.38,311.53 130.50,315.17 131.00,318.00 C131.50,320.83 132.50,322.67 132.00,326.00 C131.50,329.33 129.83,334.20 128.00,338.00 C126.17,341.80 123.50,347.13 121.00,348.80 C118.50,350.47 115.83,349.80 113.00,348.00 C110.17,346.20 105.75,341.67 104.00,338.00 C102.25,334.33 102.67,329.67 102.50,326.00 C102.33,322.33 102.62,318.53 103.00,316.00 C103.38,313.47 103.30,312.47 104.80,310.80Z" fill="#f3d6ee" fill-opacity="0.5" stroke="#c060b0" stroke-width="0.5"/>
<path d="M118.79,312.82 C121.68,312.44 123.95,311.90 125.99,313.76 C128.02,315.62 130.50,320.21 131.00,323.96 C131.50,327.71 130.66,332.38 128.97,336.26 C127.28,340.14 123.57,345.60 120.87,347.27 C118.17,348.94 115.21,348.03 112.77,346.30 C110.33,344.58 107.69,340.27 106.23,336.91 C104.77,333.56 103.63,329.66 104.04,326.18 C104.45,322.71 106.23,318.28 108.69,316.05 C111.15,313.83 115.91,313.20 118.79,312.82Z" fill="#d58acb" fill-opacity="0.2" stroke="#b24ea3" stroke-width="0.55"/>
<path d="M118.82,313.94 C121.46,313.64 123.62,313.96 125.57,315.67 C127.53,317.37 130.22,320.85 130.56,324.17 C130.90,327.49 129.21,332.07 127.63,335.57 C126.05,339.07 123.47,343.74 121.07,345.15 C118.67,346.56 115.51,345.55 113.23,344.03 C110.96,342.50 108.64,338.95 107.42,336.01 C106.20,333.07 105.52,329.48 105.91,326.38 C106.29,323.28 107.58,319.51 109.73,317.44 C111.88,315.37 116.18,314.23 118.82,313.94Z" fill="#d58acb" fill-opacity="0.2" stroke="#b24ea3" stroke-width="0.55"/>
<path d="M118.49,316.15 C120.86,315.86 123.16,315.54 124.93,317.01 C126.70,318.49 128.73,322.00 129.12,325.00 C129.50,327.99 128.73,331.93 127.24,334.98 C125.76,338.03 122.38,342.05 120.22,343.29 C118.06,344.53 116.21,343.81 114.28,342.44 C112.36,341.07 109.83,337.71 108.67,335.07 C107.51,332.43 106.97,329.34 107.30,326.62 C107.64,323.90 108.83,320.48 110.69,318.73 C112.56,316.98 116.12,316.43 118.49,316.15Z" fill="#d58acb" fill-opacity="0.2" stroke="#b24ea3" stroke-width="0.55"/>
<path d="M118.52,317.24 C120.54,316.90 122.38,316.85 123.89,318.25 C125.39,319.64 127.17,323.06 127.55,325.62 C127.92,328.17 127.30,330.95 126.14,333.56 C124.98,336.17 122.50,339.99 120.59,341.26 C118.69,342.53 116.45,342.32 114.68,341.18 C112.91,340.05 111.03,336.86 109.98,334.46 C108.94,332.07 108.12,329.19 108.41,326.82 C108.71,324.45 110.05,321.85 111.74,320.25 C113.42,318.65 116.49,317.57 118.52,317.24Z" fill="#d58acb" fill-opacity="0.2" stroke="#b24ea3" stroke-width="0.55"/>
<path d="M118.43,319.05 C120.17,318.88 121.96,318.83 123.35,319.94 C124.74,321.05 126.47,323.48 126.79,325.73 C127.11,327.98 126.37,331.05 125.29,333.44 C124.21,335.82 121.96,339.04 120.30,340.03 C118.65,341.03 116.86,340.44 115.37,339.40 C113.88,338.36 112.28,335.82 111.38,333.81 C110.48,331.80 109.72,329.47 109.98,327.32 C110.24,325.18 111.54,322.33 112.95,320.95 C114.35,319.57 116.70,319.22 118.43,319.05Z" fill="#d58acb" fill-opacity="0.2" stroke="#b24ea3" stroke-width="0.55"/>
<path d="M118.87,320.63 C120.31,320.49 121.46,320.72 122.49,321.64 C123.53,322.56 124.87,324.34 125.09,326.16 C125.31,327.98 124.67,330.59 123.81,332.54 C122.95,334.50 121.24,337.02 119.93,337.88 C118.62,338.74 117.23,338.53 115.98,337.71 C114.72,336.89 113.09,334.65 112.38,332.96 C111.66,331.26 111.44,329.30 111.69,327.56 C111.94,325.81 112.69,323.64 113.88,322.49 C115.08,321.33 117.44,320.77 118.87,320.63Z" fill="#d58acb" fill-opacity="0.2" stroke="#b24ea3" stroke-width="0.55"/>
<path d="M118.79,322.26 C119.93,322.14 120.86,322.16 121.75,322.92 C122.64,323.69 123.90,325.34 124.12,326.85 C124.34,328.36 123.76,330.44 123.06,331.99 C122.37,333.54 121.04,335.53 119.97,336.15 C118.90,336.77 117.68,336.39 116.64,335.73 C115.61,335.07 114.35,333.49 113.76,332.20 C113.17,330.90 112.92,329.41 113.12,327.97 C113.31,326.54 113.97,324.56 114.92,323.60 C115.86,322.65 117.65,322.37 118.79,322.26Z" fill="#d58acb" fill-opacity="0.2" stroke="#b24ea3" stroke-width="0.55"/>
<path d="M118.83,323.92 C119.66,323.83 120.33,323.98 120.96,324.58 C121.59,325.18 122.47,326.40 122.63,327.51 C122.80,328.61 122.45,330.10 121.96,331.23 C121.47,332.36 120.51,333.77 119.71,334.27 C118.90,334.77 117.87,334.72 117.11,334.23 C116.35,333.75 115.55,332.38 115.13,331.38 C114.71,330.37 114.44,329.24 114.58,328.19 C114.73,327.15 115.29,325.80 116.00,325.09 C116.71,324.38 118.01,324.00 118.83,323.92Z" fill="#d58acb" fill-opacity="0.2" stroke="#b24ea3" stroke-width="0.55"/>
<ellipse cx="119" cy="331" rx="1.5" ry="5" fill="#fff" fill-opacity="0.7"/>
<path d="M170.70,323.30 C170.03,318.67 171.53,311.82 172.50,308.00 C173.47,304.18 174.62,302.02 176.50,300.40 C178.38,298.78 180.80,299.17 183.75,298.30 C186.70,297.43 190.72,295.54 194.20,295.20 C197.67,294.86 202.43,295.38 204.60,296.25 C206.77,297.12 207.20,299.19 207.20,300.40 C207.20,301.61 206.08,302.63 204.60,303.50 C203.12,304.37 199.17,302.82 198.30,305.60 C197.43,308.38 199.74,315.51 199.40,320.20 C199.06,324.89 198.17,330.72 196.25,333.75 C194.33,336.78 191.19,338.06 187.90,338.40 C184.61,338.74 179.37,338.32 176.50,335.80 C173.63,333.28 171.37,327.93 170.70,323.30Z" fill="#fbe0ee" fill-opacity="0.6" stroke="#e070a8" stroke-width="0.5"/>
<circle cx="201.5" cy="300.4" r="1.6" fill="none" stroke="#e070a8" stroke-width="0.5"/>
<path d="M182.86,302.72 C184.86,301.44 187.93,302.80 190.12,304.66 C192.32,306.52 194.77,310.83 196.03,313.89 C197.28,316.95 197.88,320.00 197.65,323.01 C197.41,326.02 196.30,329.75 194.63,331.95 C192.96,334.14 189.77,335.79 187.66,336.17 C185.54,336.56 183.60,336.33 181.94,334.26 C180.28,332.20 178.34,327.43 177.70,323.78 C177.06,320.13 177.24,315.87 178.10,312.36 C178.96,308.85 180.86,304.00 182.86,302.72Z" fill="#ec8fbe" fill-opacity="0.2" stroke="#e0559a" stroke-width="0.55"/>
<path d="M183.89,304.73 C185.76,303.68 188.40,304.64 190.34,306.24 C192.27,307.84 194.46,311.68 195.53,314.33 C196.61,316.98 197.00,319.43 196.79,322.13 C196.58,324.83 195.73,328.51 194.27,330.54 C192.80,332.58 189.88,334.10 188.02,334.34 C186.15,334.58 184.48,333.88 183.06,331.99 C181.63,330.10 180.13,326.22 179.47,322.97 C178.82,319.73 178.39,315.55 179.13,312.51 C179.87,309.47 182.03,305.77 183.89,304.73Z" fill="#ec8fbe" fill-opacity="0.2" stroke="#e0559a" stroke-width="0.55"/>
<path d="M184.79,306.56 C186.30,305.65 188.26,306.79 189.89,308.17 C191.51,309.55 193.47,312.55 194.53,314.84 C195.59,317.13 196.41,319.61 196.26,321.92 C196.11,324.23 194.94,326.96 193.64,328.69 C192.35,330.41 190.09,332.06 188.50,332.29 C186.90,332.51 185.28,331.69 184.06,330.03 C182.84,328.37 181.71,325.07 181.17,322.33 C180.63,319.59 180.23,316.22 180.83,313.60 C181.43,310.97 183.28,307.46 184.79,306.56Z" fill="#ec8fbe" fill-opacity="0.2" stroke="#e0559a" stroke-width="0.55"/>
<path d="M185.34,308.39 C186.62,307.64 188.33,308.59 189.76,309.77 C191.20,310.95 193.05,313.59 193.98,315.48 C194.90,317.37 195.42,319.18 195.31,321.10 C195.20,323.03 194.39,325.56 193.30,327.01 C192.21,328.46 190.14,329.57 188.76,329.82 C187.39,330.06 186.13,329.78 185.05,328.47 C183.98,327.15 182.80,324.29 182.31,321.92 C181.81,319.56 181.59,316.52 182.10,314.26 C182.60,312.01 184.06,309.14 185.34,308.39Z" fill="#ec8fbe" fill-opacity="0.2" stroke="#e0559a" stroke-width="0.55"/>
<path d="M186.42,310.41 C187.51,309.79 189.03,310.22 190.13,311.15 C191.24,312.08 192.43,314.42 193.07,315.99 C193.71,317.56 194.06,319.06 193.96,320.58 C193.86,322.11 193.33,323.93 192.46,325.12 C191.60,326.31 189.91,327.55 188.78,327.73 C187.65,327.91 186.53,327.29 185.69,326.22 C184.84,325.14 184.06,323.17 183.71,321.27 C183.36,319.38 183.13,316.67 183.59,314.86 C184.04,313.05 185.33,311.02 186.42,310.41Z" fill="#ec8fbe" fill-opacity="0.2" stroke="#e0559a" stroke-width="0.55"/>
<path d="M187.22,312.12 C188.06,311.68 189.25,312.21 190.10,312.92 C190.95,313.62 191.82,315.17 192.33,316.37 C192.84,317.57 193.19,318.94 193.15,320.12 C193.12,321.31 192.82,322.62 192.15,323.49 C191.47,324.35 190.00,325.16 189.10,325.31 C188.19,325.47 187.36,325.23 186.71,324.40 C186.07,323.56 185.51,321.79 185.23,320.32 C184.95,318.85 184.71,316.94 185.04,315.57 C185.37,314.21 186.37,312.57 187.22,312.12Z" fill="#ec8fbe" fill-opacity="0.2" stroke="#e0559a" stroke-width="0.55"/>
<path d="M188.01,313.81 C188.60,313.51 189.49,313.89 190.10,314.40 C190.71,314.92 191.32,316.09 191.68,316.91 C192.05,317.72 192.31,318.45 192.28,319.30 C192.25,320.15 191.95,321.32 191.49,321.98 C191.03,322.64 190.15,323.17 189.52,323.25 C188.90,323.33 188.23,323.05 187.74,322.46 C187.24,321.87 186.75,320.75 186.55,319.71 C186.35,318.67 186.30,317.21 186.54,316.22 C186.79,315.24 187.42,314.12 188.01,313.81Z" fill="#ec8fbe" fill-opacity="0.2" stroke="#e0559a" stroke-width="0.55"/>
<path d="M172.50,314.00 C172.83,309.83 174.92,306.83 176.00,305.00 C177.08,303.17 178.67,301.17 179.00,303.00 C179.33,304.83 178.33,311.50 178.00,316.00 C177.67,320.50 177.67,327.67 177.00,330.00 C176.33,332.33 174.75,332.67 174.00,330.00 C173.25,327.33 172.17,318.17 172.50,314.00Z" fill="none" stroke="#e88ab8" stroke-width="0.5"/>
<line x1="33.4" y1="244.8" x2="47" y2="244.8" stroke="#333" stroke-width="1"/>
<line x1="51.6" y1="244.8" x2="49.50" y2="244.80" stroke="#111" stroke-width="1.3" fill="none"/>
<path d="M44.30,244.80 L49.50,242.20 L49.50,247.40Z" fill="#111"/>
<line x1="51.6" y1="244.8" x2="69.82" y2="227.57" stroke="#111" stroke-width="1.3" fill="none"/>
<path d="M73.60,224.00 L71.61,229.46 L68.04,225.68Z" fill="#111"/>
<line x1="51.6" y1="244.8" x2="68.40" y2="244.80" stroke="#111" stroke-width="1.3" fill="none"/>
<path d="M73.60,244.80 L68.40,247.40 L68.40,242.20Z" fill="#111"/>
<line x1="51.6" y1="244.8" x2="68.85" y2="261.40" stroke="#111" stroke-width="1.3" fill="none"/>
<path d="M72.60,265.00 L67.05,263.27 L70.65,259.52Z" fill="#111"/>
<text x="74.8" y="220.1" font-size="5.6" fill="#222" textLength="36.3" lengthAdjust="spacingAndGlyphs">Growth factors</text>
<text x="74.8" y="227.3" font-size="5.6" fill="#222">cytokines</text>
<text x="74.8" y="242.6" font-size="5.6" fill="#222" textLength="28.3" lengthAdjust="spacingAndGlyphs">Cytotoxicity</text>
<text x="74.8" y="249.9" font-size="5.6" fill="#222" textLength="35.7" lengthAdjust="spacingAndGlyphs">TCR activation</text>
<text x="74.8" y="263.5" font-size="5.6" fill="#222">Ox Phos</text>
<text x="74.8" y="270.2" font-size="5.6" fill="#222" textLength="33.8" lengthAdjust="spacingAndGlyphs">beta-oxidation</text>
<text x="74.8" y="277.1" font-size="5.6" fill="#222" textLength="22.2" lengthAdjust="spacingAndGlyphs">glycolysis</text>
<text x="45.2" y="209.4" font-size="7.8" fill="#111" text-anchor="start" textLength="32.3" lengthAdjust="spacingAndGlyphs">Cluster 0</text>
<text x="111.8" y="209.6" font-size="7.8" fill="#111" text-anchor="start" textLength="32.3" lengthAdjust="spacingAndGlyphs">Cluster 3</text>
<text x="178.3" y="209.5" font-size="7.8" fill="#111" text-anchor="start" textLength="32.4" lengthAdjust="spacingAndGlyphs">Cluster 6</text>
<text x="44.6" y="291.7" font-size="7.8" fill="#111" text-anchor="start" textLength="32.7" lengthAdjust="spacingAndGlyphs">Cluster 8</text>
<text x="111.5" y="291.3" font-size="7.8" fill="#111" text-anchor="start" textLength="33.2" lengthAdjust="spacingAndGlyphs">Cluster 9</text>
<text x="177.7" y="291.3" font-size="7.8" fill="#111" text-anchor="start" textLength="38.5" lengthAdjust="spacingAndGlyphs">Cluster 10</text>
<text x="0" y="0" font-size="7.6" fill="#222" text-anchor="middle" transform="translate(41.6,244) rotate(-90)">Complement act.</text>
<text x="0" y="0" font-size="8.2" fill="#111" text-anchor="middle" transform="translate(29.4,282.4) rotate(-90)" textLength="60" lengthAdjust="spacingAndGlyphs">Principal component 2</text>
<text x="130" y="367.2" font-size="8.2" fill="#111" text-anchor="middle" textLength="64.6" lengthAdjust="spacingAndGlyphs">Principal component 1</text>
<path d="M44.0,439.0 L52.0,443.0 L62.0,451.0 L72.0,458.0 L82.0,464.5 L88.5,468.5" fill="none" stroke="#ee7066" stroke-width="2.2" stroke-linecap="round" stroke-linejoin="round"/>
<rect x="61.9" y="451.6" width="1.3" height="1.3" fill="#ee7066"/>
<rect x="63.3" y="452.8" width="1.3" height="1.3" fill="#ee7066"/>
<rect x="51.3" y="443.5" width="1.3" height="1.3" fill="#ee7066"/>
<rect x="79.8" y="463.1" width="1.3" height="1.3" fill="#ee7066"/>
<rect x="48.9" y="439.7" width="1.3" height="1.3" fill="#ee7066"/>
<rect x="48.6" y="439.7" width="1.3" height="1.3" fill="#ee7066"/>
<rect x="72.4" y="458.2" width="1.3" height="1.3" fill="#ee7066"/>
<rect x="44.4" y="439.3" width="1.3" height="1.3" fill="#ee7066"/>
<rect x="53.0" y="444.0" width="1.3" height="1.3" fill="#ee7066"/>
<rect x="62.7" y="453.5" width="1.3" height="1.3" fill="#ee7066"/>
<rect x="66.2" y="453.6" width="1.3" height="1.3" fill="#ee7066"/>
<rect x="72.5" y="459.0" width="1.3" height="1.3" fill="#ee7066"/>
<rect x="90.3" y="468.4" width="1.3" height="1.3" fill="#ee7066"/>
<rect x="75.0" y="460.8" width="1.3" height="1.3" fill="#ee7066"/>
<rect x="58.6" y="447.8" width="1.3" height="1.3" fill="#ee7066"/>
<rect x="62.3" y="450.0" width="1.3" height="1.3" fill="#ee7066"/>
<rect x="86.6" y="467.3" width="1.3" height="1.3" fill="#ee7066"/>
<rect x="54.7" y="443.8" width="1.3" height="1.3" fill="#ee7066"/>
<rect x="87.3" y="468.2" width="1.3" height="1.3" fill="#ee7066"/>
<rect x="71.9" y="457.1" width="1.3" height="1.3" fill="#ee7066"/>
<rect x="46.9" y="443.3" width="1.3" height="1.3" fill="#ee7066"/>
<rect x="78.1" y="462.1" width="1.3" height="1.3" fill="#ee7066"/>
<rect x="50.5" y="442.1" width="1.3" height="1.3" fill="#ee7066"/>
<rect x="51.4" y="443.0" width="1.3" height="1.3" fill="#ee7066"/>
<rect x="52.9" y="443.3" width="1.3" height="1.3" fill="#ee7066"/>
<rect x="73.2" y="459.0" width="1.3" height="1.3" fill="#ee7066"/>
<rect x="53.6" y="447.2" width="1.3" height="1.3" fill="#ee7066"/>
<rect x="78.9" y="464.9" width="1.3" height="1.3" fill="#ee7066"/>
<rect x="52.3" y="445.7" width="1.3" height="1.3" fill="#ee7066"/>
<rect x="74.8" y="460.0" width="1.3" height="1.3" fill="#ee7066"/>
<rect x="53.8" y="446.3" width="1.3" height="1.3" fill="#ee7066"/>
<rect x="58.7" y="448.8" width="1.3" height="1.3" fill="#ee7066"/>
<rect x="47.7" y="440.8" width="1.3" height="1.3" fill="#ee7066"/>
<rect x="69.8" y="457.8" width="1.3" height="1.3" fill="#ee7066"/>
<rect x="85.3" y="467.5" width="1.3" height="1.3" fill="#ee7066"/>
<rect x="82.7" y="465.3" width="1.3" height="1.3" fill="#ee7066"/>
<rect x="84.6" y="465.2" width="1.3" height="1.3" fill="#ee7066"/>
<rect x="52.8" y="441.4" width="1.3" height="1.3" fill="#ee7066"/>
<rect x="55.2" y="443.3" width="1.3" height="1.3" fill="#ee7066"/>
<rect x="70.2" y="457.3" width="1.3" height="1.3" fill="#ee7066"/>
<rect x="46.6" y="439.8" width="1.3" height="1.3" fill="#ee7066"/>
<rect x="75.1" y="461.9" width="1.3" height="1.3" fill="#ee7066"/>
<rect x="70.2" y="457.4" width="1.3" height="1.3" fill="#ee7066"/>
<rect x="76.5" y="460.8" width="1.3" height="1.3" fill="#ee7066"/>
<rect x="69.5" y="454.6" width="1.3" height="1.3" fill="#ee7066"/>
<rect x="57.3" y="446.4" width="1.3" height="1.3" fill="#ee7066"/>
<rect x="44.7" y="440.5" width="1.3" height="1.3" fill="#ee7066"/>
<rect x="47.3" y="441.3" width="1.3" height="1.3" fill="#ee7066"/>
<rect x="69.9" y="456.8" width="1.3" height="1.3" fill="#ee7066"/>
<rect x="85.0" y="465.3" width="1.3" height="1.3" fill="#ee7066"/>
<rect x="74.1" y="459.4" width="1.3" height="1.3" fill="#ee7066"/>
<rect x="47.9" y="440.1" width="1.3" height="1.3" fill="#ee7066"/>
<rect x="75.2" y="459.9" width="1.3" height="1.3" fill="#ee7066"/>
<rect x="70.5" y="458.2" width="1.3" height="1.3" fill="#ee7066"/>
<rect x="58.7" y="448.1" width="1.3" height="1.3" fill="#ee7066"/>
<rect x="67.9" y="453.1" width="1.3" height="1.3" fill="#ee7066"/>
<rect x="76.1" y="459.3" width="1.3" height="1.3" fill="#ee7066"/>
<rect x="83.7" y="467.3" width="1.3" height="1.3" fill="#ee7066"/>
<rect x="84.7" y="465.0" width="1.3" height="1.3" fill="#ee7066"/>
<rect x="79.9" y="461.6" width="1.3" height="1.3" fill="#ee7066"/>
<rect x="70.6" y="458.6" width="1.3" height="1.3" fill="#ee7066"/>
<rect x="72.1" y="457.9" width="1.3" height="1.3" fill="#ee7066"/>
<rect x="89.4" y="467.2" width="1.3" height="1.3" fill="#ee7066"/>
<rect x="61.1" y="449.1" width="1.3" height="1.3" fill="#ee7066"/>
<rect x="63.7" y="451.7" width="1.3" height="1.3" fill="#ee7066"/>
<rect x="78.5" y="461.6" width="1.3" height="1.3" fill="#ee7066"/>
<rect x="65.5" y="454.8" width="1.3" height="1.3" fill="#ee7066"/>
<rect x="64.3" y="452.3" width="1.3" height="1.3" fill="#ee7066"/>
<rect x="56.6" y="446.0" width="1.3" height="1.3" fill="#ee7066"/>
<rect x="74.1" y="459.9" width="1.3" height="1.3" fill="#ee7066"/>
<rect x="83.6" y="464.9" width="1.3" height="1.3" fill="#ee7066"/>
<rect x="82.9" y="466.8" width="1.3" height="1.3" fill="#ee7066"/>
<rect x="51.7" y="444.8" width="1.3" height="1.3" fill="#ee7066"/>
<rect x="85.3" y="465.4" width="1.3" height="1.3" fill="#ee7066"/>
<rect x="69.5" y="456.9" width="1.3" height="1.3" fill="#ee7066"/>
<rect x="67.0" y="452.1" width="1.3" height="1.3" fill="#ee7066"/>
<rect x="76.2" y="460.0" width="1.3" height="1.3" fill="#ee7066"/>
<rect x="51.3" y="443.3" width="1.3" height="1.3" fill="#ee7066"/>
<rect x="52.8" y="445.3" width="1.3" height="1.3" fill="#ee7066"/>
<rect x="65.1" y="455.4" width="1.3" height="1.3" fill="#ee7066"/>
<rect x="87.3" y="468.1" width="1.3" height="1.3" fill="#ee7066"/>
<rect x="45.7" y="439.5" width="1.3" height="1.3" fill="#ee7066"/>
<rect x="74.5" y="459.8" width="1.3" height="1.3" fill="#ee7066"/>
<rect x="79.6" y="462.6" width="1.3" height="1.3" fill="#ee7066"/>
<rect x="66.0" y="452.8" width="1.3" height="1.3" fill="#ee7066"/>
<rect x="55.1" y="445.6" width="1.3" height="1.3" fill="#ee7066"/>
<rect x="70.4" y="458.3" width="1.3" height="1.3" fill="#ee7066"/>
<rect x="73.8" y="456.2" width="1.3" height="1.3" fill="#ee7066"/>
<rect x="74.6" y="460.5" width="1.3" height="1.3" fill="#ee7066"/>
<rect x="53.6" y="443.5" width="1.3" height="1.3" fill="#ee7066"/>
<rect x="75.9" y="461.0" width="1.3" height="1.3" fill="#ee7066"/>
<rect x="59.1" y="447.8" width="1.3" height="1.3" fill="#ee7066"/>
<rect x="71.2" y="456.4" width="1.3" height="1.3" fill="#ee7066"/>
<rect x="79.4" y="462.4" width="1.3" height="1.3" fill="#ee7066"/>
<rect x="85.3" y="466.1" width="1.3" height="1.3" fill="#ee7066"/>
<rect x="62.5" y="450.9" width="1.3" height="1.3" fill="#ee7066"/>
<rect x="58.9" y="449.1" width="1.3" height="1.3" fill="#ee7066"/>
<rect x="80.3" y="462.3" width="1.3" height="1.3" fill="#ee7066"/>
<rect x="73.2" y="460.0" width="1.3" height="1.3" fill="#ee7066"/>
<rect x="79.2" y="462.1" width="1.3" height="1.3" fill="#ee7066"/>
<rect x="56.2" y="442.9" width="1.3" height="1.3" fill="#ee7066"/>
<rect x="85.7" y="467.5" width="1.3" height="1.3" fill="#ee7066"/>
<rect x="60.1" y="447.1" width="1.3" height="1.3" fill="#ee7066"/>
<rect x="60.5" y="449.6" width="1.3" height="1.3" fill="#ee7066"/>
<rect x="68.4" y="454.3" width="1.3" height="1.3" fill="#ee7066"/>
<rect x="45.5" y="439.3" width="1.3" height="1.3" fill="#ee7066"/>
<rect x="79.8" y="463.6" width="1.3" height="1.3" fill="#ee7066"/>
<rect x="79.2" y="462.9" width="1.3" height="1.3" fill="#ee7066"/>
<rect x="66.5" y="452.5" width="1.3" height="1.3" fill="#ee7066"/>
<rect x="75.6" y="459.2" width="1.3" height="1.3" fill="#ee7066"/>
<rect x="86.8" y="467.4" width="1.3" height="1.3" fill="#ee7066"/>
<rect x="66.9" y="456.3" width="1.3" height="1.3" fill="#ee7066"/>
<rect x="70.3" y="457.9" width="1.3" height="1.3" fill="#ee7066"/>
<rect x="68.4" y="456.6" width="1.3" height="1.3" fill="#ee7066"/>
<rect x="82.0" y="463.7" width="1.3" height="1.3" fill="#ee7066"/>
<rect x="82.9" y="464.1" width="1.3" height="1.3" fill="#ee7066"/>
<rect x="69.7" y="457.3" width="1.3" height="1.3" fill="#ee7066"/>
<rect x="66.1" y="453.8" width="1.3" height="1.3" fill="#ee7066"/>
<rect x="86.1" y="467.5" width="1.3" height="1.3" fill="#ee7066"/>
<rect x="78.4" y="462.4" width="1.3" height="1.3" fill="#ee7066"/>
<path d="M88.5,468.5 L100.0,466.5 L112.0,465.0 L124.0,463.5 L133.0,464.5" fill="none" stroke="#ee7066" stroke-width="1.8" stroke-linecap="round" stroke-linejoin="round"/>
<rect x="120.2" y="464.5" width="1.3" height="1.3" fill="#ee7066"/>
<rect x="108.8" y="465.1" width="1.3" height="1.3" fill="#ee7066"/>
<rect x="100.0" y="466.5" width="1.3" height="1.3" fill="#ee7066"/>
<rect x="108.5" y="463.8" width="1.3" height="1.3" fill="#ee7066"/>
<rect x="109.4" y="465.8" width="1.3" height="1.3" fill="#ee7066"/>
<rect x="116.4" y="464.3" width="1.3" height="1.3" fill="#ee7066"/>
<rect x="123.7" y="463.7" width="1.3" height="1.3" fill="#ee7066"/>
<rect x="98.3" y="466.0" width="1.3" height="1.3" fill="#ee7066"/>
<rect x="103.9" y="465.7" width="1.3" height="1.3" fill="#ee7066"/>
<rect x="121.8" y="464.6" width="1.3" height="1.3" fill="#ee7066"/>
<rect x="99.9" y="467.6" width="1.3" height="1.3" fill="#ee7066"/>
<rect x="107.2" y="466.2" width="1.3" height="1.3" fill="#ee7066"/>
<rect x="112.3" y="465.5" width="1.3" height="1.3" fill="#ee7066"/>
<rect x="115.8" y="463.6" width="1.3" height="1.3" fill="#ee7066"/>
<rect x="125.0" y="462.6" width="1.3" height="1.3" fill="#ee7066"/>
<rect x="98.7" y="465.1" width="1.3" height="1.3" fill="#ee7066"/>
<rect x="128.3" y="464.7" width="1.3" height="1.3" fill="#ee7066"/>
<rect x="130.2" y="467.3" width="1.3" height="1.3" fill="#ee7066"/>
<rect x="128.4" y="464.4" width="1.3" height="1.3" fill="#ee7066"/>
<rect x="120.8" y="464.3" width="1.3" height="1.3" fill="#ee7066"/>
<rect x="124.1" y="464.4" width="1.3" height="1.3" fill="#ee7066"/>
<rect x="93.0" y="468.3" width="1.3" height="1.3" fill="#ee7066"/>
<rect x="89.7" y="469.7" width="1.3" height="1.3" fill="#ee7066"/>
<rect x="129.5" y="464.0" width="1.3" height="1.3" fill="#ee7066"/>
<rect x="111.0" y="464.1" width="1.3" height="1.3" fill="#ee7066"/>
<rect x="119.1" y="464.4" width="1.3" height="1.3" fill="#ee7066"/>
<rect x="94.3" y="467.9" width="1.3" height="1.3" fill="#ee7066"/>
<rect x="110.9" y="464.9" width="1.3" height="1.3" fill="#ee7066"/>
<rect x="97.2" y="468.7" width="1.3" height="1.3" fill="#ee7066"/>
<rect x="132.9" y="464.3" width="1.3" height="1.3" fill="#ee7066"/>
<rect x="92.2" y="467.7" width="1.3" height="1.3" fill="#ee7066"/>
<rect x="122.0" y="464.6" width="1.3" height="1.3" fill="#ee7066"/>
<rect x="110.3" y="465.6" width="1.3" height="1.3" fill="#ee7066"/>
<rect x="88.6" y="466.7" width="1.3" height="1.3" fill="#ee7066"/>
<rect x="95.1" y="467.5" width="1.3" height="1.3" fill="#ee7066"/>
<rect x="106.7" y="466.2" width="1.3" height="1.3" fill="#ee7066"/>
<rect x="113.2" y="465.3" width="1.3" height="1.3" fill="#ee7066"/>
<rect x="123.6" y="461.8" width="1.3" height="1.3" fill="#ee7066"/>
<rect x="115.5" y="465.1" width="1.3" height="1.3" fill="#ee7066"/>
<rect x="112.5" y="465.0" width="1.3" height="1.3" fill="#ee7066"/>
<rect x="101.2" y="465.7" width="1.3" height="1.3" fill="#ee7066"/>
<rect x="123.5" y="462.8" width="1.3" height="1.3" fill="#ee7066"/>
<rect x="129.4" y="463.0" width="1.3" height="1.3" fill="#ee7066"/>
<rect x="122.7" y="462.8" width="1.3" height="1.3" fill="#ee7066"/>
<rect x="121.4" y="464.3" width="1.3" height="1.3" fill="#ee7066"/>
<rect x="110.2" y="465.4" width="1.3" height="1.3" fill="#ee7066"/>
<rect x="116.4" y="463.9" width="1.3" height="1.3" fill="#ee7066"/>
<rect x="130.1" y="463.5" width="1.3" height="1.3" fill="#ee7066"/>
<rect x="116.8" y="463.8" width="1.3" height="1.3" fill="#ee7066"/>
<rect x="107.1" y="465.8" width="1.3" height="1.3" fill="#ee7066"/>
<rect x="119.9" y="461.5" width="1.3" height="1.3" fill="#ee7066"/>
<rect x="88.4" y="467.3" width="1.3" height="1.3" fill="#ee7066"/>
<rect x="99.6" y="466.7" width="1.3" height="1.3" fill="#ee7066"/>
<rect x="96.9" y="467.3" width="1.3" height="1.3" fill="#ee7066"/>
<rect x="100.5" y="465.9" width="1.3" height="1.3" fill="#ee7066"/>
<rect x="112.2" y="464.9" width="1.3" height="1.3" fill="#ee7066"/>
<rect x="131.7" y="463.2" width="1.3" height="1.3" fill="#ee7066"/>
<rect x="90.6" y="467.0" width="1.3" height="1.3" fill="#ee7066"/>
<rect x="91.0" y="467.9" width="1.3" height="1.3" fill="#ee7066"/>
<rect x="110.0" y="466.2" width="1.3" height="1.3" fill="#ee7066"/>
<rect x="117.7" y="465.3" width="1.3" height="1.3" fill="#ee7066"/>
<rect x="106.0" y="465.4" width="1.3" height="1.3" fill="#ee7066"/>
<rect x="104.4" y="467.2" width="1.3" height="1.3" fill="#ee7066"/>
<rect x="113.1" y="466.2" width="1.3" height="1.3" fill="#ee7066"/>
<rect x="102.3" y="466.4" width="1.3" height="1.3" fill="#ee7066"/>
<rect x="91.2" y="469.4" width="1.3" height="1.3" fill="#ee7066"/>
<rect x="107.0" y="464.9" width="1.3" height="1.3" fill="#ee7066"/>
<rect x="92.9" y="468.0" width="1.3" height="1.3" fill="#ee7066"/>
<rect x="92.5" y="467.4" width="1.3" height="1.3" fill="#ee7066"/>
<rect x="110.4" y="465.2" width="1.3" height="1.3" fill="#ee7066"/>
<rect x="113.1" y="464.5" width="1.3" height="1.3" fill="#ee7066"/>
<rect x="110.9" y="465.1" width="1.3" height="1.3" fill="#ee7066"/>
<rect x="116.3" y="465.4" width="1.3" height="1.3" fill="#ee7066"/>
<rect x="108.8" y="465.7" width="1.3" height="1.3" fill="#ee7066"/>
<rect x="112.6" y="465.7" width="1.3" height="1.3" fill="#ee7066"/>
<rect x="117.5" y="464.4" width="1.3" height="1.3" fill="#ee7066"/>
<rect x="113.0" y="465.5" width="1.3" height="1.3" fill="#ee7066"/>
<rect x="114.3" y="465.0" width="1.3" height="1.3" fill="#ee7066"/>
<rect x="121.2" y="464.3" width="1.3" height="1.3" fill="#ee7066"/>
<rect x="128.5" y="462.7" width="1.3" height="1.3" fill="#ee7066"/>
<rect x="104.2" y="467.3" width="1.3" height="1.3" fill="#ee7066"/>
<rect x="112.5" y="464.1" width="1.3" height="1.3" fill="#ee7066"/>
<rect x="122.2" y="464.4" width="1.3" height="1.3" fill="#ee7066"/>
<rect x="133.7" y="463.5" width="1.3" height="1.3" fill="#ee7066"/>
<rect x="90.9" y="468.5" width="1.3" height="1.3" fill="#ee7066"/>
<rect x="107.1" y="465.3" width="1.3" height="1.3" fill="#ee7066"/>
<rect x="112.9" y="465.1" width="1.3" height="1.3" fill="#ee7066"/>
<rect x="117.4" y="463.8" width="1.3" height="1.3" fill="#ee7066"/>
<rect x="104.4" y="466.0" width="1.3" height="1.3" fill="#ee7066"/>
<rect x="103.7" y="464.3" width="1.3" height="1.3" fill="#ee7066"/>
<rect x="102.4" y="456.2" width="1.2" height="1.2" fill="#ee7066"/>
<rect x="125.9" y="461.2" width="1.2" height="1.2" fill="#ee7066"/>
<rect x="124.6" y="457.1" width="1.2" height="1.2" fill="#ee7066"/>
<rect x="113.6" y="457.6" width="1.2" height="1.2" fill="#ee7066"/>
<rect x="125.9" y="458.7" width="1.2" height="1.2" fill="#ee7066"/>
<rect x="120.9" y="464.9" width="1.2" height="1.2" fill="#ee7066"/>
<rect x="110.4" y="460.5" width="1.2" height="1.2" fill="#ee7066"/>
<rect x="123.9" y="464.2" width="1.2" height="1.2" fill="#ee7066"/>
<rect x="113.7" y="458.7" width="1.2" height="1.2" fill="#ee7066"/>
<rect x="103.1" y="463.8" width="1.2" height="1.2" fill="#ee7066"/>
<rect x="102.5" y="455.8" width="1.2" height="1.2" fill="#ee7066"/>
<rect x="118.1" y="459.8" width="1.2" height="1.2" fill="#ee7066"/>
<rect x="121.9" y="458.0" width="1.2" height="1.2" fill="#ee7066"/>
<rect x="124.8" y="455.8" width="1.2" height="1.2" fill="#ee7066"/>
<rect x="106.8" y="461.6" width="1.2" height="1.2" fill="#ee7066"/>
<rect x="102.6" y="458.0" width="1.2" height="1.2" fill="#ee7066"/>
<rect x="123.2" y="461.9" width="1.2" height="1.2" fill="#ee7066"/>
<rect x="109.1" y="456.4" width="1.2" height="1.2" fill="#ee7066"/>
<rect x="111.4" y="462.3" width="1.2" height="1.2" fill="#ee7066"/>
<rect x="111.7" y="456.2" width="1.2" height="1.2" fill="#ee7066"/>
<rect x="122.7" y="460.7" width="1.2" height="1.2" fill="#ee7066"/>
<rect x="129.4" y="464.4" width="1.2" height="1.2" fill="#ee7066"/>
<rect x="129.2" y="459.4" width="1.2" height="1.2" fill="#ee7066"/>
<rect x="125.7" y="458.0" width="1.2" height="1.2" fill="#ee7066"/>
<rect x="110.2" y="459.0" width="1.2" height="1.2" fill="#ee7066"/>
<rect x="129.9" y="463.9" width="1.2" height="1.2" fill="#ee7066"/>
<rect x="107.9" y="458.6" width="1.2" height="1.2" fill="#ee7066"/>
<rect x="111.7" y="458.6" width="1.2" height="1.2" fill="#ee7066"/>
<rect x="112.7" y="458.9" width="1.2" height="1.2" fill="#ee7066"/>
<rect x="106.2" y="460.6" width="1.2" height="1.2" fill="#ee7066"/>
<rect x="125.5" y="460.4" width="1.2" height="1.2" fill="#ee7066"/>
<rect x="126.8" y="460.6" width="1.2" height="1.2" fill="#ee7066"/>
<rect x="105.7" y="462.6" width="1.2" height="1.2" fill="#ee7066"/>
<rect x="128.2" y="457.8" width="1.2" height="1.2" fill="#ee7066"/>
<rect x="100.7" y="460.2" width="1.2" height="1.2" fill="#ee7066"/>
<rect x="117.4" y="460.7" width="1.2" height="1.2" fill="#ee7066"/>
<rect x="130.9" y="461.5" width="1.2" height="1.2" fill="#ee7066"/>
<rect x="125.7" y="455.6" width="1.2" height="1.2" fill="#ee7066"/>
<rect x="117.5" y="462.9" width="1.2" height="1.2" fill="#ee7066"/>
<rect x="102.7" y="455.8" width="1.2" height="1.2" fill="#ee7066"/>
<path d="M88.5,468.5 L88.0,473.0 L86.0,476.5 L82.0,481.0" fill="none" stroke="#ee7066" stroke-width="2" stroke-linecap="round" stroke-linejoin="round"/>
<rect x="84.8" y="477.9" width="1.3" height="1.3" fill="#ee7066"/>
<rect x="86.4" y="478.1" width="1.3" height="1.3" fill="#ee7066"/>
<rect x="85.4" y="477.7" width="1.3" height="1.3" fill="#ee7066"/>
<rect x="82.9" y="478.3" width="1.3" height="1.3" fill="#ee7066"/>
<rect x="86.3" y="475.9" width="1.3" height="1.3" fill="#ee7066"/>
<rect x="84.2" y="477.5" width="1.3" height="1.3" fill="#ee7066"/>
<rect x="84.2" y="476.2" width="1.3" height="1.3" fill="#ee7066"/>
<rect x="87.8" y="473.2" width="1.3" height="1.3" fill="#ee7066"/>
<rect x="83.9" y="478.0" width="1.3" height="1.3" fill="#ee7066"/>
<rect x="84.2" y="479.5" width="1.3" height="1.3" fill="#ee7066"/>
<rect x="86.1" y="474.3" width="1.3" height="1.3" fill="#ee7066"/>
<rect x="86.8" y="474.6" width="1.3" height="1.3" fill="#ee7066"/>
<rect x="85.3" y="478.1" width="1.3" height="1.3" fill="#ee7066"/>
<rect x="88.5" y="471.7" width="1.3" height="1.3" fill="#ee7066"/>
<rect x="88.3" y="472.7" width="1.3" height="1.3" fill="#ee7066"/>
<rect x="88.9" y="473.7" width="1.3" height="1.3" fill="#ee7066"/>
<rect x="84.3" y="478.8" width="1.3" height="1.3" fill="#ee7066"/>
<rect x="85.4" y="474.0" width="1.3" height="1.3" fill="#ee7066"/>
<rect x="88.8" y="469.3" width="1.3" height="1.3" fill="#ee7066"/>
<rect x="88.3" y="472.9" width="1.3" height="1.3" fill="#ee7066"/>
<rect x="86.0" y="477.1" width="1.3" height="1.3" fill="#ee7066"/>
<rect x="88.7" y="473.8" width="1.3" height="1.3" fill="#ee7066"/>
<rect x="86.6" y="472.6" width="1.3" height="1.3" fill="#ee7066"/>
<rect x="86.7" y="476.8" width="1.3" height="1.3" fill="#ee7066"/>
<rect x="82.3" y="480.9" width="1.3" height="1.3" fill="#ee7066"/>
<rect x="81.9" y="480.6" width="1.3" height="1.3" fill="#ee7066"/>
<rect x="89.8" y="468.8" width="1.3" height="1.3" fill="#ee7066"/>
<rect x="86.5" y="473.8" width="1.3" height="1.3" fill="#ee7066"/>
<rect x="89.2" y="472.4" width="1.3" height="1.3" fill="#ee7066"/>
<rect x="89.0" y="472.0" width="1.3" height="1.3" fill="#ee7066"/>
<rect x="87.9" y="472.6" width="1.3" height="1.3" fill="#ee7066"/>
<rect x="86.1" y="477.1" width="1.3" height="1.3" fill="#ee7066"/>
<rect x="87.8" y="474.8" width="1.3" height="1.3" fill="#ee7066"/>
<rect x="84.9" y="473.7" width="1.3" height="1.3" fill="#ee7066"/>
<rect x="87.6" y="472.3" width="1.3" height="1.3" fill="#ee7066"/>
<rect x="85.7" y="478.5" width="1.3" height="1.3" fill="#ee7066"/>
<rect x="83.6" y="479.0" width="1.3" height="1.3" fill="#ee7066"/>
<rect x="88.0" y="472.1" width="1.3" height="1.3" fill="#ee7066"/>
<rect x="84.8" y="475.5" width="1.3" height="1.3" fill="#ee7066"/>
<rect x="86.4" y="476.0" width="1.3" height="1.3" fill="#ee7066"/>
<path d="M88.0,472.0 L95.0,476.0 L100.0,479.0" fill="none" stroke="#ee7066" stroke-width="1.4" stroke-linecap="round" stroke-linejoin="round"/>
<rect x="96.3" y="478.2" width="1.3" height="1.3" fill="#ee7066"/>
<rect x="89.3" y="472.3" width="1.3" height="1.3" fill="#ee7066"/>
<rect x="94.2" y="475.7" width="1.3" height="1.3" fill="#ee7066"/>
<rect x="97.8" y="478.3" width="1.3" height="1.3" fill="#ee7066"/>
<rect x="88.7" y="473.2" width="1.3" height="1.3" fill="#ee7066"/>
<rect x="96.0" y="477.7" width="1.3" height="1.3" fill="#ee7066"/>
<rect x="88.7" y="473.1" width="1.3" height="1.3" fill="#ee7066"/>
<rect x="100.0" y="478.0" width="1.3" height="1.3" fill="#ee7066"/>
<rect x="87.5" y="472.7" width="1.3" height="1.3" fill="#ee7066"/>
<rect x="90.3" y="473.4" width="1.3" height="1.3" fill="#ee7066"/>
<rect x="89.2" y="472.0" width="1.3" height="1.3" fill="#ee7066"/>
<rect x="90.1" y="473.1" width="1.3" height="1.3" fill="#ee7066"/>
<rect x="92.0" y="474.5" width="1.3" height="1.3" fill="#ee7066"/>
<rect x="91.4" y="474.9" width="1.3" height="1.3" fill="#ee7066"/>
<rect x="91.4" y="474.7" width="1.3" height="1.3" fill="#ee7066"/>
<rect x="92.7" y="474.0" width="1.3" height="1.3" fill="#ee7066"/>
<rect x="96.2" y="478.0" width="1.3" height="1.3" fill="#ee7066"/>
<rect x="89.3" y="472.8" width="1.3" height="1.3" fill="#ee7066"/>
<rect x="96.1" y="476.3" width="1.3" height="1.3" fill="#ee7066"/>
<rect x="93.3" y="474.1" width="1.3" height="1.3" fill="#ee7066"/>
<ellipse cx="104" cy="481.5" rx="3.38" ry="1.82" fill="#a77ab8" transform="rotate(0 104 481.5)"/>
<rect x="105.8" y="482.2" width="1.4" height="1.4" fill="#a77ab8"/>
<rect x="104.9" y="482.3" width="1.4" height="1.4" fill="#a77ab8"/>
<rect x="103.0" y="481.9" width="1.4" height="1.4" fill="#a77ab8"/>
<rect x="106.6" y="480.7" width="1.4" height="1.4" fill="#a77ab8"/>
<rect x="100.4" y="481.3" width="1.4" height="1.4" fill="#a77ab8"/>
<rect x="104.4" y="479.2" width="1.4" height="1.4" fill="#a77ab8"/>
<rect x="102.0" y="482.5" width="1.4" height="1.4" fill="#a77ab8"/>
<rect x="103.5" y="481.7" width="1.4" height="1.4" fill="#a77ab8"/>
<rect x="100.9" y="482.8" width="1.4" height="1.4" fill="#a77ab8"/>
<rect x="108.0" y="481.2" width="1.4" height="1.4" fill="#a77ab8"/>
<rect x="102.1" y="479.8" width="1.4" height="1.4" fill="#a77ab8"/>
<rect x="106.6" y="481.7" width="1.4" height="1.4" fill="#a77ab8"/>
<rect x="102.0" y="483.3" width="1.4" height="1.4" fill="#a77ab8"/>
<rect x="106.2" y="482.5" width="1.4" height="1.4" fill="#a77ab8"/>
<rect x="100.0" y="481.4" width="1.4" height="1.4" fill="#a77ab8"/>
<rect x="105.6" y="479.7" width="1.4" height="1.4" fill="#a77ab8"/>
<rect x="106.1" y="483.4" width="1.4" height="1.4" fill="#a77ab8"/>
<rect x="106.7" y="480.4" width="1.4" height="1.4" fill="#a77ab8"/>
<rect x="102.1" y="483.0" width="1.4" height="1.4" fill="#a77ab8"/>
<rect x="106.4" y="483.2" width="1.4" height="1.4" fill="#a77ab8"/>
<rect x="107.2" y="481.3" width="1.4" height="1.4" fill="#a77ab8"/>
<rect x="103.1" y="479.2" width="1.4" height="1.4" fill="#a77ab8"/>
<rect x="105.4" y="483.9" width="1.4" height="1.4" fill="#a77ab8"/>
<rect x="102.6" y="480.7" width="1.4" height="1.4" fill="#a77ab8"/>
<rect x="105.9" y="482.1" width="1.4" height="1.4" fill="#a77ab8"/>
<rect x="100.7" y="480.5" width="1.4" height="1.4" fill="#a77ab8"/>
<rect x="101.9" y="483.7" width="1.4" height="1.4" fill="#a77ab8"/>
<rect x="102.0" y="482.9" width="1.4" height="1.4" fill="#a77ab8"/>
<rect x="107.2" y="483.3" width="1.4" height="1.4" fill="#a77ab8"/>
<rect x="106.8" y="483.4" width="1.4" height="1.4" fill="#a77ab8"/>
<rect x="100.8" y="481.0" width="1.4" height="1.4" fill="#a77ab8"/>
<rect x="101.9" y="481.0" width="1.4" height="1.4" fill="#a77ab8"/>
<rect x="107.8" y="480.1" width="1.4" height="1.4" fill="#a77ab8"/>
<rect x="105.4" y="479.7" width="1.4" height="1.4" fill="#a77ab8"/>
<rect x="106.9" y="483.1" width="1.4" height="1.4" fill="#a77ab8"/>
<rect x="103.0" y="483.9" width="1.4" height="1.4" fill="#a77ab8"/>
<rect x="104.2" y="483.5" width="1.4" height="1.4" fill="#a77ab8"/>
<rect x="104.9" y="480.5" width="1.4" height="1.4" fill="#a77ab8"/>
<rect x="102.8" y="481.3" width="1.4" height="1.4" fill="#a77ab8"/>
<rect x="105.9" y="481.7" width="1.4" height="1.4" fill="#a77ab8"/>
<path d="M82.0,481.0 L76.0,486.0 L68.0,488.0" fill="none" stroke="#b08a8a" stroke-width="2.6" stroke-linecap="round" stroke-linejoin="round"/>
<rect x="69.4" y="487.5" width="1.3" height="1.3" fill="#b08a8a"/>
<rect x="77.5" y="482.9" width="1.3" height="1.3" fill="#b08a8a"/>
<rect x="75.9" y="484.0" width="1.3" height="1.3" fill="#b08a8a"/>
<rect x="82.1" y="482.1" width="1.3" height="1.3" fill="#b08a8a"/>
<rect x="79.4" y="483.2" width="1.3" height="1.3" fill="#b08a8a"/>
<rect x="79.2" y="482.7" width="1.3" height="1.3" fill="#b08a8a"/>
<rect x="74.1" y="487.4" width="1.3" height="1.3" fill="#b08a8a"/>
<rect x="81.3" y="480.9" width="1.3" height="1.3" fill="#b08a8a"/>
<rect x="67.8" y="487.2" width="1.3" height="1.3" fill="#b08a8a"/>
<rect x="75.9" y="484.3" width="1.3" height="1.3" fill="#b08a8a"/>
<rect x="71.8" y="486.0" width="1.3" height="1.3" fill="#b08a8a"/>
<rect x="69.0" y="486.5" width="1.3" height="1.3" fill="#b08a8a"/>
<rect x="75.9" y="485.7" width="1.3" height="1.3" fill="#b08a8a"/>
<rect x="68.4" y="487.5" width="1.3" height="1.3" fill="#b08a8a"/>
<rect x="77.3" y="485.0" width="1.3" height="1.3" fill="#b08a8a"/>
<rect x="81.0" y="479.7" width="1.3" height="1.3" fill="#b08a8a"/>
<rect x="70.9" y="486.1" width="1.3" height="1.3" fill="#b08a8a"/>
<rect x="78.0" y="483.9" width="1.3" height="1.3" fill="#b08a8a"/>
<rect x="79.5" y="482.6" width="1.3" height="1.3" fill="#b08a8a"/>
<rect x="78.4" y="485.5" width="1.3" height="1.3" fill="#b08a8a"/>
<rect x="75.4" y="486.9" width="1.3" height="1.3" fill="#b08a8a"/>
<rect x="77.2" y="485.4" width="1.3" height="1.3" fill="#b08a8a"/>
<rect x="70.7" y="487.4" width="1.3" height="1.3" fill="#b08a8a"/>
<rect x="68.6" y="488.3" width="1.3" height="1.3" fill="#b08a8a"/>
<rect x="79.2" y="482.1" width="1.3" height="1.3" fill="#b08a8a"/>
<rect x="70.8" y="488.6" width="1.3" height="1.3" fill="#b08a8a"/>
<rect x="78.3" y="481.8" width="1.3" height="1.3" fill="#b08a8a"/>
<rect x="82.0" y="481.8" width="1.3" height="1.3" fill="#b08a8a"/>
<rect x="79.8" y="485.1" width="1.3" height="1.3" fill="#b08a8a"/>
<rect x="70.2" y="487.8" width="1.3" height="1.3" fill="#b08a8a"/>
<rect x="74.7" y="486.5" width="1.3" height="1.3" fill="#b08a8a"/>
<rect x="69.2" y="488.6" width="1.3" height="1.3" fill="#b08a8a"/>
<rect x="70.0" y="487.6" width="1.3" height="1.3" fill="#b08a8a"/>
<rect x="78.9" y="485.1" width="1.3" height="1.3" fill="#b08a8a"/>
<rect x="70.2" y="489.2" width="1.3" height="1.3" fill="#b08a8a"/>
<rect x="77.1" y="484.7" width="1.3" height="1.3" fill="#b08a8a"/>
<rect x="70.5" y="487.5" width="1.3" height="1.3" fill="#b08a8a"/>
<rect x="74.4" y="488.3" width="1.3" height="1.3" fill="#b08a8a"/>
<rect x="82.5" y="482.4" width="1.3" height="1.3" fill="#b08a8a"/>
<rect x="79.6" y="483.2" width="1.3" height="1.3" fill="#b08a8a"/>
<path d="M68.0,488.0 L58.0,489.0 L48.0,490.0" fill="none" stroke="#3aa99a" stroke-width="2.6" stroke-linecap="round" stroke-linejoin="round"/>
<rect x="54.8" y="490.6" width="1.3" height="1.3" fill="#3aa99a"/>
<rect x="48.9" y="490.0" width="1.3" height="1.3" fill="#3aa99a"/>
<rect x="63.0" y="489.9" width="1.3" height="1.3" fill="#3aa99a"/>
<rect x="64.4" y="489.1" width="1.3" height="1.3" fill="#3aa99a"/>
<rect x="55.0" y="488.4" width="1.3" height="1.3" fill="#3aa99a"/>
<rect x="55.8" y="488.4" width="1.3" height="1.3" fill="#3aa99a"/>
<rect x="62.7" y="490.6" width="1.3" height="1.3" fill="#3aa99a"/>
<rect x="54.4" y="490.7" width="1.3" height="1.3" fill="#3aa99a"/>
<rect x="67.3" y="488.1" width="1.3" height="1.3" fill="#3aa99a"/>
<rect x="57.1" y="489.0" width="1.3" height="1.3" fill="#3aa99a"/>
<rect x="55.8" y="489.9" width="1.3" height="1.3" fill="#3aa99a"/>
<rect x="52.6" y="490.0" width="1.3" height="1.3" fill="#3aa99a"/>
<rect x="52.9" y="490.3" width="1.3" height="1.3" fill="#3aa99a"/>
<rect x="57.9" y="491.1" width="1.3" height="1.3" fill="#3aa99a"/>
<rect x="49.3" y="490.2" width="1.3" height="1.3" fill="#3aa99a"/>
<rect x="51.3" y="491.0" width="1.3" height="1.3" fill="#3aa99a"/>
<rect x="58.5" y="490.2" width="1.3" height="1.3" fill="#3aa99a"/>
<rect x="54.2" y="490.4" width="1.3" height="1.3" fill="#3aa99a"/>
<rect x="51.2" y="489.4" width="1.3" height="1.3" fill="#3aa99a"/>
<rect x="50.6" y="488.6" width="1.3" height="1.3" fill="#3aa99a"/>
<rect x="49.8" y="491.4" width="1.3" height="1.3" fill="#3aa99a"/>
<rect x="64.1" y="487.9" width="1.3" height="1.3" fill="#3aa99a"/>
<rect x="59.4" y="487.1" width="1.3" height="1.3" fill="#3aa99a"/>
<rect x="52.3" y="490.7" width="1.3" height="1.3" fill="#3aa99a"/>
<rect x="62.5" y="487.9" width="1.3" height="1.3" fill="#3aa99a"/>
<rect x="66.0" y="487.2" width="1.3" height="1.3" fill="#3aa99a"/>
<rect x="57.0" y="488.7" width="1.3" height="1.3" fill="#3aa99a"/>
<rect x="66.1" y="488.4" width="1.3" height="1.3" fill="#3aa99a"/>
<rect x="58.6" y="489.1" width="1.3" height="1.3" fill="#3aa99a"/>
<rect x="54.0" y="490.6" width="1.3" height="1.3" fill="#3aa99a"/>
<rect x="54.9" y="488.7" width="1.3" height="1.3" fill="#3aa99a"/>
<rect x="63.8" y="489.2" width="1.3" height="1.3" fill="#3aa99a"/>
<rect x="66.6" y="489.4" width="1.3" height="1.3" fill="#3aa99a"/>
<rect x="57.4" y="490.4" width="1.3" height="1.3" fill="#3aa99a"/>
<rect x="66.5" y="487.6" width="1.3" height="1.3" fill="#3aa99a"/>
<rect x="63.7" y="489.8" width="1.3" height="1.3" fill="#3aa99a"/>
<rect x="51.5" y="489.3" width="1.3" height="1.3" fill="#3aa99a"/>
<rect x="59.3" y="489.3" width="1.3" height="1.3" fill="#3aa99a"/>
<rect x="49.7" y="490.2" width="1.3" height="1.3" fill="#3aa99a"/>
<rect x="53.3" y="489.5" width="1.3" height="1.3" fill="#3aa99a"/>
<rect x="58.9" y="488.6" width="1.3" height="1.3" fill="#3aa99a"/>
<rect x="63.6" y="488.1" width="1.3" height="1.3" fill="#3aa99a"/>
<rect x="59.8" y="489.8" width="1.3" height="1.3" fill="#3aa99a"/>
<rect x="69.7" y="488.9" width="1.3" height="1.3" fill="#3aa99a"/>
<rect x="52.7" y="488.8" width="1.3" height="1.3" fill="#3aa99a"/>
<rect x="62.2" y="488.3" width="1.3" height="1.3" fill="#3aa99a"/>
<rect x="59.6" y="488.5" width="1.3" height="1.3" fill="#3aa99a"/>
<rect x="62.6" y="488.5" width="1.3" height="1.3" fill="#3aa99a"/>
<rect x="66.0" y="488.9" width="1.3" height="1.3" fill="#3aa99a"/>
<rect x="66.0" y="489.4" width="1.3" height="1.3" fill="#3aa99a"/>
<path d="M62.0,487.5 L55.0,489.0" fill="none" stroke="#a0887a" stroke-width="2.2" stroke-linecap="round" stroke-linejoin="round"/>
<rect x="54.5" y="487.9" width="1.3" height="1.3" fill="#a0887a"/>
<rect x="57.6" y="489.2" width="1.3" height="1.3" fill="#a0887a"/>
<rect x="59.4" y="487.5" width="1.3" height="1.3" fill="#a0887a"/>
<rect x="60.0" y="488.9" width="1.3" height="1.3" fill="#a0887a"/>
<rect x="61.0" y="488.3" width="1.3" height="1.3" fill="#a0887a"/>
<rect x="58.4" y="489.0" width="1.3" height="1.3" fill="#a0887a"/>
<rect x="54.4" y="487.6" width="1.3" height="1.3" fill="#a0887a"/>
<rect x="60.3" y="488.0" width="1.3" height="1.3" fill="#a0887a"/>
<rect x="56.7" y="489.0" width="1.3" height="1.3" fill="#a0887a"/>
<rect x="62.1" y="488.1" width="1.3" height="1.3" fill="#a0887a"/>
<rect x="60.4" y="487.5" width="1.3" height="1.3" fill="#a0887a"/>
<rect x="59.8" y="488.3" width="1.3" height="1.3" fill="#a0887a"/>
<rect x="54.6" y="490.0" width="1.3" height="1.3" fill="#a0887a"/>
<rect x="57.1" y="488.5" width="1.3" height="1.3" fill="#a0887a"/>
<rect x="59.5" y="488.2" width="1.3" height="1.3" fill="#a0887a"/>
<rect x="55.2" y="490.0" width="1.3" height="1.3" fill="#a0887a"/>
<rect x="59.1" y="488.5" width="1.3" height="1.3" fill="#a0887a"/>
<rect x="60.8" y="488.0" width="1.3" height="1.3" fill="#a0887a"/>
<rect x="58.5" y="488.5" width="1.3" height="1.3" fill="#a0887a"/>
<rect x="58.6" y="488.0" width="1.3" height="1.3" fill="#a0887a"/>
<ellipse cx="38.5" cy="491" rx="6.38" ry="3.15" fill="#6ab84f" transform="rotate(-5 38.5 491)"/>
<rect x="37.1" y="488.9" width="1.5" height="1.5" fill="#6ab84f"/>
<rect x="37.1" y="487.5" width="1.5" height="1.5" fill="#6ab84f"/>
<rect x="40.9" y="492.4" width="1.5" height="1.5" fill="#6ab84f"/>
<rect x="37.5" y="494.8" width="1.5" height="1.5" fill="#6ab84f"/>
<rect x="34.3" y="492.9" width="1.5" height="1.5" fill="#6ab84f"/>
<rect x="41.0" y="489.2" width="1.5" height="1.5" fill="#6ab84f"/>
<rect x="37.4" y="493.7" width="1.5" height="1.5" fill="#6ab84f"/>
<rect x="38.9" y="491.9" width="1.5" height="1.5" fill="#6ab84f"/>
<rect x="45.2" y="491.0" width="1.5" height="1.5" fill="#6ab84f"/>
<rect x="31.4" y="490.0" width="1.5" height="1.5" fill="#6ab84f"/>
<rect x="43.0" y="490.2" width="1.5" height="1.5" fill="#6ab84f"/>
<rect x="34.3" y="487.6" width="1.5" height="1.5" fill="#6ab84f"/>
<rect x="40.3" y="494.5" width="1.5" height="1.5" fill="#6ab84f"/>
<rect x="34.0" y="487.6" width="1.5" height="1.5" fill="#6ab84f"/>
<rect x="41.1" y="489.2" width="1.5" height="1.5" fill="#6ab84f"/>
<rect x="36.7" y="490.2" width="1.5" height="1.5" fill="#6ab84f"/>
<rect x="33.8" y="492.6" width="1.5" height="1.5" fill="#6ab84f"/>
<rect x="43.5" y="491.6" width="1.5" height="1.5" fill="#6ab84f"/>
<rect x="35.9" y="494.0" width="1.5" height="1.5" fill="#6ab84f"/>
<rect x="38.0" y="492.8" width="1.5" height="1.5" fill="#6ab84f"/>
<rect x="33.9" y="493.2" width="1.5" height="1.5" fill="#6ab84f"/>
<rect x="42.2" y="493.9" width="1.5" height="1.5" fill="#6ab84f"/>
<rect x="38.8" y="492.4" width="1.5" height="1.5" fill="#6ab84f"/>
<rect x="35.7" y="493.7" width="1.5" height="1.5" fill="#6ab84f"/>
<rect x="42.5" y="493.4" width="1.5" height="1.5" fill="#6ab84f"/>
<rect x="36.3" y="488.0" width="1.5" height="1.5" fill="#6ab84f"/>
<rect x="38.0" y="490.4" width="1.5" height="1.5" fill="#6ab84f"/>
<rect x="34.7" y="493.1" width="1.5" height="1.5" fill="#6ab84f"/>
<rect x="43.6" y="491.7" width="1.5" height="1.5" fill="#6ab84f"/>
<rect x="44.2" y="491.6" width="1.5" height="1.5" fill="#6ab84f"/>
<rect x="33.4" y="489.9" width="1.5" height="1.5" fill="#6ab84f"/>
<rect x="36.7" y="493.2" width="1.5" height="1.5" fill="#6ab84f"/>
<rect x="43.5" y="491.0" width="1.5" height="1.5" fill="#6ab84f"/>
<rect x="43.3" y="488.4" width="1.5" height="1.5" fill="#6ab84f"/>
<rect x="38.3" y="494.7" width="1.5" height="1.5" fill="#6ab84f"/>
<rect x="41.0" y="493.6" width="1.5" height="1.5" fill="#6ab84f"/>
<rect x="32.0" y="488.6" width="1.5" height="1.5" fill="#6ab84f"/>
<rect x="34.5" y="494.0" width="1.5" height="1.5" fill="#6ab84f"/>
<rect x="45.3" y="489.0" width="1.5" height="1.5" fill="#6ab84f"/>
<rect x="33.6" y="488.9" width="1.5" height="1.5" fill="#6ab84f"/>
<rect x="34.0" y="492.9" width="1.5" height="1.5" fill="#6ab84f"/>
<rect x="37.6" y="495.1" width="1.5" height="1.5" fill="#6ab84f"/>
<rect x="42.1" y="488.8" width="1.5" height="1.5" fill="#6ab84f"/>
<rect x="39.9" y="490.4" width="1.5" height="1.5" fill="#6ab84f"/>
<rect x="42.7" y="493.1" width="1.5" height="1.5" fill="#6ab84f"/>
<rect x="36.9" y="493.7" width="1.5" height="1.5" fill="#6ab84f"/>
<rect x="41.7" y="490.5" width="1.5" height="1.5" fill="#6ab84f"/>
<rect x="40.1" y="492.9" width="1.5" height="1.5" fill="#6ab84f"/>
<rect x="36.6" y="489.2" width="1.5" height="1.5" fill="#6ab84f"/>
<rect x="44.7" y="490.5" width="1.5" height="1.5" fill="#6ab84f"/>
<rect x="35.4" y="492.6" width="1.5" height="1.5" fill="#6ab84f"/>
<rect x="31.7" y="491.7" width="1.5" height="1.5" fill="#6ab84f"/>
<rect x="32.0" y="490.5" width="1.5" height="1.5" fill="#6ab84f"/>
<rect x="31.2" y="490.1" width="1.5" height="1.5" fill="#6ab84f"/>
<rect x="43.3" y="490.1" width="1.5" height="1.5" fill="#6ab84f"/>
<rect x="34.3" y="494.9" width="1.5" height="1.5" fill="#6ab84f"/>
<rect x="36.0" y="494.7" width="1.5" height="1.5" fill="#6ab84f"/>
<rect x="35.8" y="487.7" width="1.5" height="1.5" fill="#6ab84f"/>
<rect x="45.9" y="489.4" width="1.5" height="1.5" fill="#6ab84f"/>
<rect x="42.4" y="493.7" width="1.5" height="1.5" fill="#6ab84f"/>
<rect x="32.2" y="491.8" width="1.5" height="1.5" fill="#6ab84f"/>
<rect x="35.6" y="493.0" width="1.5" height="1.5" fill="#6ab84f"/>
<rect x="38.2" y="487.7" width="1.5" height="1.5" fill="#6ab84f"/>
<rect x="39.0" y="493.2" width="1.5" height="1.5" fill="#6ab84f"/>
<rect x="37.0" y="492.8" width="1.5" height="1.5" fill="#6ab84f"/>
<rect x="35.5" y="491.1" width="1.5" height="1.5" fill="#6ab84f"/>
<rect x="40.6" y="491.3" width="1.5" height="1.5" fill="#6ab84f"/>
<rect x="44.4" y="492.8" width="1.5" height="1.5" fill="#6ab84f"/>
<rect x="43.0" y="492.6" width="1.5" height="1.5" fill="#6ab84f"/>
<rect x="39.0" y="487.9" width="1.5" height="1.5" fill="#6ab84f"/>
<rect x="42.9" y="494.2" width="1.5" height="1.5" fill="#6ab84f"/>
<rect x="39.8" y="490.1" width="1.5" height="1.5" fill="#6ab84f"/>
<rect x="38.6" y="494.2" width="1.5" height="1.5" fill="#6ab84f"/>
<rect x="39.8" y="488.2" width="1.5" height="1.5" fill="#6ab84f"/>
<rect x="37.4" y="488.9" width="1.5" height="1.5" fill="#6ab84f"/>
<rect x="37.2" y="488.6" width="1.5" height="1.5" fill="#6ab84f"/>
<rect x="35.1" y="494.7" width="1.5" height="1.5" fill="#6ab84f"/>
<rect x="42.4" y="487.2" width="1.5" height="1.5" fill="#6ab84f"/>
<rect x="33.4" y="490.2" width="1.5" height="1.5" fill="#6ab84f"/>
<rect x="36.4" y="487.7" width="1.5" height="1.5" fill="#6ab84f"/>
<rect x="41.9" y="487.2" width="1.5" height="1.5" fill="#6ab84f"/>
<rect x="42.3" y="492.6" width="1.5" height="1.5" fill="#6ab84f"/>
<rect x="36.4" y="489.3" width="1.5" height="1.5" fill="#6ab84f"/>
<rect x="38.9" y="491.4" width="1.5" height="1.5" fill="#6ab84f"/>
<rect x="31.2" y="489.4" width="1.5" height="1.5" fill="#6ab84f"/>
<rect x="41.5" y="490.4" width="1.5" height="1.5" fill="#6ab84f"/>
<rect x="36.2" y="488.5" width="1.5" height="1.5" fill="#6ab84f"/>
<rect x="34.7" y="489.2" width="1.5" height="1.5" fill="#6ab84f"/>
<rect x="46.0" y="488.5" width="1.5" height="1.5" fill="#6ab84f"/>
<rect x="45.4" y="491.5" width="1.5" height="1.5" fill="#6ab84f"/>
<rect x="39.8" y="491.5" width="1.5" height="1.5" fill="#6ab84f"/>
<rect x="37.2" y="494.9" width="1.5" height="1.5" fill="#6ab84f"/>
<rect x="41.4" y="490.7" width="1.5" height="1.5" fill="#6ab84f"/>
<rect x="37.9" y="491.7" width="1.5" height="1.5" fill="#6ab84f"/>
<rect x="32.8" y="490.7" width="1.5" height="1.5" fill="#6ab84f"/>
<rect x="35.4" y="493.1" width="1.5" height="1.5" fill="#6ab84f"/>
<rect x="40.6" y="486.9" width="1.5" height="1.5" fill="#6ab84f"/>
<rect x="37.6" y="493.8" width="1.5" height="1.5" fill="#6ab84f"/>
<rect x="32.8" y="488.8" width="1.5" height="1.5" fill="#6ab84f"/>
<rect x="43.7" y="490.2" width="1.5" height="1.5" fill="#6ab84f"/>
<rect x="36.1" y="488.1" width="1.5" height="1.5" fill="#6ab84f"/>
<rect x="39.4" y="489.3" width="1.5" height="1.5" fill="#6ab84f"/>
<rect x="39.9" y="492.2" width="1.5" height="1.5" fill="#6ab84f"/>
<rect x="42.3" y="489.7" width="1.5" height="1.5" fill="#6ab84f"/>
<rect x="35.6" y="491.4" width="1.5" height="1.5" fill="#6ab84f"/>
<rect x="38.0" y="491.6" width="1.5" height="1.5" fill="#6ab84f"/>
<rect x="35.5" y="490.6" width="1.5" height="1.5" fill="#6ab84f"/>
<rect x="35.2" y="489.6" width="1.5" height="1.5" fill="#6ab84f"/>
<rect x="39.6" y="494.0" width="1.5" height="1.5" fill="#6ab84f"/>
<rect x="35.8" y="493.0" width="1.5" height="1.5" fill="#6ab84f"/>
<rect x="40.6" y="491.2" width="1.5" height="1.5" fill="#6ab84f"/>
<rect x="42.0" y="489.1" width="1.5" height="1.5" fill="#6ab84f"/>
<rect x="41.8" y="491.6" width="1.5" height="1.5" fill="#6ab84f"/>
<rect x="30.1" y="492.2" width="1.5" height="1.5" fill="#6ab84f"/>
<rect x="41.2" y="494.8" width="1.5" height="1.5" fill="#6ab84f"/>
<rect x="33.1" y="491.8" width="1.5" height="1.5" fill="#6ab84f"/>
<rect x="40.1" y="488.2" width="1.5" height="1.5" fill="#6ab84f"/>
<rect x="44.5" y="491.7" width="1.5" height="1.5" fill="#6ab84f"/>
<rect x="34.6" y="488.4" width="1.5" height="1.5" fill="#6ab84f"/>
<rect x="37.5" y="495.4" width="1.5" height="1.5" fill="#6ab84f"/>
<rect x="43.8" y="487.2" width="1.5" height="1.5" fill="#6ab84f"/>
<rect x="31.4" y="493.1" width="1.5" height="1.5" fill="#6ab84f"/>
<rect x="37.8" y="489.2" width="1.5" height="1.5" fill="#6ab84f"/>
<rect x="42.0" y="491.0" width="1.5" height="1.5" fill="#6ab84f"/>
<rect x="40.3" y="491.7" width="1.5" height="1.5" fill="#6ab84f"/>
<rect x="34.1" y="494.4" width="1.5" height="1.5" fill="#6ab84f"/>
<rect x="36.5" y="494.2" width="1.5" height="1.5" fill="#6ab84f"/>
<rect x="42.4" y="490.8" width="1.5" height="1.5" fill="#6ab84f"/>
<rect x="39.3" y="490.8" width="1.5" height="1.5" fill="#6ab84f"/>
<rect x="30.9" y="491.0" width="1.5" height="1.5" fill="#6ab84f"/>
<rect x="40.1" y="487.1" width="1.5" height="1.5" fill="#6ab84f"/>
<rect x="32.6" y="493.9" width="1.5" height="1.5" fill="#6ab84f"/>
<rect x="41.7" y="487.2" width="1.5" height="1.5" fill="#6ab84f"/>
<rect x="41.2" y="490.6" width="1.5" height="1.5" fill="#6ab84f"/>
<rect x="43.5" y="489.7" width="1.5" height="1.5" fill="#6ab84f"/>
<rect x="37.1" y="488.9" width="1.5" height="1.5" fill="#6ab84f"/>
<rect x="39.6" y="490.5" width="1.5" height="1.5" fill="#6ab84f"/>
<rect x="34.8" y="490.3" width="1.5" height="1.5" fill="#6ab84f"/>
<rect x="34.7" y="493.1" width="1.5" height="1.5" fill="#6ab84f"/>
<rect x="34.0" y="488.0" width="1.5" height="1.5" fill="#6ab84f"/>
<rect x="32.5" y="434.4" width="1.4" height="1.4" fill="#e566b0"/>
<rect x="35.5" y="434.0" width="1.4" height="1.4" fill="#e566b0"/>
<rect x="47.1" y="432.3" width="1.4" height="1.4" fill="#e566b0"/>
<rect x="45.5" y="436.9" width="1.4" height="1.4" fill="#e566b0"/>
<rect x="41.4" y="429.2" width="1.4" height="1.4" fill="#e566b0"/>
<rect x="42.0" y="427.2" width="1.4" height="1.4" fill="#e566b0"/>
<rect x="39.3" y="429.0" width="1.4" height="1.4" fill="#e566b0"/>
<rect x="43.5" y="435.5" width="1.4" height="1.4" fill="#e566b0"/>
<rect x="34.4" y="434.5" width="1.4" height="1.4" fill="#e566b0"/>
<rect x="49.0" y="435.9" width="1.4" height="1.4" fill="#e566b0"/>
<rect x="34.0" y="432.7" width="1.4" height="1.4" fill="#e566b0"/>
<rect x="29.5" y="426.7" width="1.4" height="1.4" fill="#e566b0"/>
<rect x="41.4" y="440.0" width="1.4" height="1.4" fill="#e566b0"/>
<rect x="33.9" y="436.4" width="1.4" height="1.4" fill="#e566b0"/>
<rect x="48.3" y="440.3" width="1.4" height="1.4" fill="#e566b0"/>
<rect x="28.6" y="431.5" width="1.4" height="1.4" fill="#e566b0"/>
<rect x="40.4" y="437.5" width="1.4" height="1.4" fill="#e566b0"/>
<rect x="40.1" y="429.1" width="1.4" height="1.4" fill="#e566b0"/>
<rect x="36.9" y="437.7" width="1.4" height="1.4" fill="#e566b0"/>
<rect x="47.5" y="433.6" width="1.4" height="1.4" fill="#e566b0"/>
<rect x="42.1" y="437.4" width="1.4" height="1.4" fill="#e566b0"/>
<rect x="45.3" y="434.0" width="1.4" height="1.4" fill="#e566b0"/>
<rect x="36.7" y="427.4" width="1.4" height="1.4" fill="#e566b0"/>
<rect x="37.9" y="428.7" width="1.4" height="1.4" fill="#e566b0"/>
<rect x="33.5" y="424.9" width="1.4" height="1.4" fill="#e566b0"/>
<rect x="48.1" y="430.3" width="1.4" height="1.4" fill="#e566b0"/>
<rect x="31.4" y="429.0" width="1.4" height="1.4" fill="#e566b0"/>
<rect x="47.4" y="439.8" width="1.4" height="1.4" fill="#e566b0"/>
<rect x="39.1" y="427.0" width="1.4" height="1.4" fill="#e566b0"/>
<rect x="37.9" y="427.1" width="1.4" height="1.4" fill="#e566b0"/>
<rect x="35.3" y="433.1" width="1.4" height="1.4" fill="#e566b0"/>
<rect x="34.2" y="426.6" width="1.4" height="1.4" fill="#e566b0"/>
<rect x="38.4" y="431.6" width="1.4" height="1.4" fill="#e566b0"/>
<rect x="36.0" y="427.0" width="1.4" height="1.4" fill="#e566b0"/>
<rect x="33.8" y="426.6" width="1.4" height="1.4" fill="#e566b0"/>
<rect x="45.2" y="432.9" width="1.4" height="1.4" fill="#e566b0"/>
<rect x="28.1" y="429.5" width="1.4" height="1.4" fill="#e566b0"/>
<rect x="41.4" y="428.4" width="1.4" height="1.4" fill="#e566b0"/>
<rect x="42.0" y="425.1" width="1.4" height="1.4" fill="#e566b0"/>
<rect x="29.8" y="432.9" width="1.4" height="1.4" fill="#e566b0"/>
<rect x="47.2" y="440.6" width="1.4" height="1.4" fill="#e566b0"/>
<rect x="34.5" y="430.5" width="1.4" height="1.4" fill="#e566b0"/>
<rect x="47.5" y="429.6" width="1.4" height="1.4" fill="#e566b0"/>
<rect x="51.7" y="433.8" width="1.4" height="1.4" fill="#e566b0"/>
<rect x="44.8" y="428.6" width="1.4" height="1.4" fill="#e566b0"/>
<rect x="43.6" y="433.6" width="1.4" height="1.4" fill="#e566b0"/>
<rect x="49.1" y="430.7" width="1.4" height="1.4" fill="#e566b0"/>
<rect x="38.1" y="438.8" width="1.4" height="1.4" fill="#e566b0"/>
<rect x="31.4" y="430.8" width="1.4" height="1.4" fill="#e566b0"/>
<rect x="44.9" y="431.5" width="1.4" height="1.4" fill="#e566b0"/>
<rect x="36.7" y="437.4" width="1.4" height="1.4" fill="#e566b0"/>
<rect x="47.8" y="437.8" width="1.4" height="1.4" fill="#e566b0"/>
<rect x="44.2" y="428.4" width="1.4" height="1.4" fill="#e566b0"/>
<rect x="38.8" y="439.0" width="1.4" height="1.4" fill="#e566b0"/>
<rect x="48.9" y="430.0" width="1.4" height="1.4" fill="#e566b0"/>
<rect x="30.2" y="426.4" width="1.4" height="1.4" fill="#e566b0"/>
<rect x="42.8" y="430.4" width="1.4" height="1.4" fill="#e566b0"/>
<rect x="37.3" y="433.2" width="1.4" height="1.4" fill="#e566b0"/>
<rect x="47.1" y="436.0" width="1.4" height="1.4" fill="#e566b0"/>
<rect x="49.6" y="430.4" width="1.4" height="1.4" fill="#e566b0"/>
<rect x="43.6" y="435.9" width="1.4" height="1.4" fill="#e566b0"/>
<rect x="30.4" y="433.5" width="1.4" height="1.4" fill="#e566b0"/>
<rect x="33.5" y="424.9" width="1.4" height="1.4" fill="#e566b0"/>
<rect x="50.3" y="439.5" width="1.4" height="1.4" fill="#e566b0"/>
<rect x="41.1" y="438.8" width="1.4" height="1.4" fill="#e566b0"/>
<rect x="49.5" y="431.0" width="1.4" height="1.4" fill="#e566b0"/>
<rect x="41.8" y="439.1" width="1.4" height="1.4" fill="#e566b0"/>
<rect x="39.0" y="432.4" width="1.4" height="1.4" fill="#e566b0"/>
<rect x="35.6" y="434.5" width="1.4" height="1.4" fill="#e566b0"/>
<rect x="37.1" y="428.2" width="1.4" height="1.4" fill="#e566b0"/>
<rect x="33.7" y="426.0" width="1.4" height="1.4" fill="#e566b0"/>
<rect x="41.5" y="435.5" width="1.4" height="1.4" fill="#e566b0"/>
<rect x="39.3" y="426.9" width="1.4" height="1.4" fill="#e566b0"/>
<rect x="42.7" y="435.3" width="1.4" height="1.4" fill="#e566b0"/>
<rect x="50.1" y="433.7" width="1.4" height="1.4" fill="#e566b0"/>
<rect x="36.2" y="433.7" width="1.4" height="1.4" fill="#e566b0"/>
<rect x="50.7" y="436.0" width="1.4" height="1.4" fill="#e566b0"/>
<rect x="41.4" y="428.1" width="1.4" height="1.4" fill="#e566b0"/>
<rect x="36.1" y="435.6" width="1.4" height="1.4" fill="#e566b0"/>
<rect x="44.8" y="439.1" width="1.4" height="1.4" fill="#e566b0"/>
<rect x="29.6" y="431.8" width="1.4" height="1.4" fill="#e566b0"/>
<rect x="32.6" y="432.6" width="1.4" height="1.4" fill="#e566b0"/>
<rect x="28.8" y="427.9" width="1.4" height="1.4" fill="#e566b0"/>
<rect x="32.9" y="435.2" width="1.4" height="1.4" fill="#e566b0"/>
<rect x="39.4" y="438.2" width="1.4" height="1.4" fill="#e566b0"/>
<rect x="35.7" y="438.0" width="1.4" height="1.4" fill="#e566b0"/>
<rect x="35.6" y="437.9" width="1.4" height="1.4" fill="#e566b0"/>
<rect x="38.4" y="426.9" width="1.4" height="1.4" fill="#e566b0"/>
<rect x="48.1" y="433.3" width="1.4" height="1.4" fill="#e566b0"/>
<rect x="42.1" y="426.9" width="1.4" height="1.4" fill="#e566b0"/>
<rect x="37.4" y="432.0" width="1.4" height="1.4" fill="#e566b0"/>
<rect x="34.2" y="432.3" width="1.4" height="1.4" fill="#e566b0"/>
<rect x="28.5" y="431.0" width="1.4" height="1.4" fill="#e566b0"/>
<rect x="35.7" y="437.2" width="1.4" height="1.4" fill="#e566b0"/>
<rect x="38.8" y="428.4" width="1.4" height="1.4" fill="#e566b0"/>
<rect x="36.2" y="432.5" width="1.4" height="1.4" fill="#e566b0"/>
<rect x="46.1" y="432.1" width="1.4" height="1.4" fill="#e566b0"/>
<rect x="33.5" y="432.2" width="1.4" height="1.4" fill="#e566b0"/>
<rect x="47.5" y="428.4" width="1.4" height="1.4" fill="#e566b0"/>
<rect x="33.9" y="426.9" width="1.4" height="1.4" fill="#e566b0"/>
<rect x="48.5" y="439.8" width="1.4" height="1.4" fill="#e566b0"/>
<rect x="45.9" y="437.0" width="1.4" height="1.4" fill="#e566b0"/>
<rect x="31.6" y="434.1" width="1.4" height="1.4" fill="#e566b0"/>
<rect x="38.3" y="427.6" width="1.4" height="1.4" fill="#e566b0"/>
<rect x="51.5" y="431.9" width="1.4" height="1.4" fill="#e566b0"/>
<rect x="49.8" y="436.8" width="1.4" height="1.4" fill="#e566b0"/>
<rect x="33.0" y="430.7" width="1.4" height="1.4" fill="#e566b0"/>
<rect x="33.5" y="430.9" width="1.4" height="1.4" fill="#e566b0"/>
<rect x="37.7" y="426.0" width="1.4" height="1.4" fill="#e566b0"/>
<rect x="52.8" y="435.5" width="1.4" height="1.4" fill="#e566b0"/>
<rect x="48.2" y="435.1" width="1.4" height="1.4" fill="#e566b0"/>
<rect x="47.0" y="429.2" width="1.4" height="1.4" fill="#e566b0"/>
<rect x="39.2" y="424.4" width="1.4" height="1.4" fill="#e566b0"/>
<rect x="47.4" y="437.2" width="1.4" height="1.4" fill="#e566b0"/>
<rect x="31.2" y="432.9" width="1.4" height="1.4" fill="#e566b0"/>
<rect x="40.4" y="440.3" width="1.4" height="1.4" fill="#e566b0"/>
<rect x="40.9" y="437.3" width="1.4" height="1.4" fill="#e566b0"/>
<rect x="44.0" y="437.7" width="1.4" height="1.4" fill="#e566b0"/>
<rect x="41.1" y="430.4" width="1.4" height="1.4" fill="#e566b0"/>
<rect x="43.6" y="439.2" width="1.4" height="1.4" fill="#e566b0"/>
<rect x="33.2" y="426.3" width="1.4" height="1.4" fill="#e96cb5"/>
<rect x="34.8" y="432.4" width="1.4" height="1.4" fill="#e96cb5"/>
<rect x="36.5" y="426.4" width="1.4" height="1.4" fill="#e96cb5"/>
<rect x="38.3" y="432.1" width="1.4" height="1.4" fill="#e96cb5"/>
<rect x="41.1" y="431.7" width="1.4" height="1.4" fill="#e96cb5"/>
<rect x="41.4" y="430.3" width="1.4" height="1.4" fill="#e96cb5"/>
<rect x="39.2" y="431.0" width="1.4" height="1.4" fill="#e96cb5"/>
<rect x="32.2" y="427.5" width="1.4" height="1.4" fill="#e96cb5"/>
<rect x="39.2" y="432.8" width="1.4" height="1.4" fill="#e96cb5"/>
<rect x="33.9" y="431.3" width="1.4" height="1.4" fill="#e96cb5"/>
<rect x="38.4" y="432.3" width="1.4" height="1.4" fill="#e96cb5"/>
<rect x="36.9" y="430.6" width="1.4" height="1.4" fill="#e96cb5"/>
<rect x="33.0" y="428.3" width="1.4" height="1.4" fill="#e96cb5"/>
<rect x="37.1" y="428.1" width="1.4" height="1.4" fill="#e96cb5"/>
<rect x="34.7" y="429.5" width="1.4" height="1.4" fill="#e96cb5"/>
<rect x="36.0" y="431.9" width="1.4" height="1.4" fill="#e96cb5"/>
<rect x="32.7" y="427.4" width="1.4" height="1.4" fill="#e96cb5"/>
<rect x="37.4" y="429.0" width="1.4" height="1.4" fill="#e96cb5"/>
<rect x="37.7" y="428.9" width="1.4" height="1.4" fill="#e96cb5"/>
<rect x="40.2" y="430.5" width="1.4" height="1.4" fill="#e96cb5"/>
<rect x="31.8" y="429.6" width="1.4" height="1.4" fill="#e96cb5"/>
<rect x="40.5" y="428.4" width="1.4" height="1.4" fill="#e96cb5"/>
<rect x="35.4" y="429.5" width="1.4" height="1.4" fill="#e96cb5"/>
<rect x="38.0" y="433.0" width="1.4" height="1.4" fill="#e96cb5"/>
<rect x="36.5" y="426.6" width="1.4" height="1.4" fill="#e96cb5"/>
<rect x="37.5" y="432.3" width="1.4" height="1.4" fill="#e96cb5"/>
<rect x="37.8" y="430.4" width="1.4" height="1.4" fill="#e96cb5"/>
<rect x="33.1" y="431.9" width="1.4" height="1.4" fill="#e96cb5"/>
<rect x="33.6" y="426.0" width="1.4" height="1.4" fill="#e96cb5"/>
<rect x="39.3" y="431.4" width="1.4" height="1.4" fill="#e96cb5"/>
<rect x="38.2" y="431.2" width="1.4" height="1.4" fill="#e96cb5"/>
<rect x="39.4" y="433.0" width="1.4" height="1.4" fill="#e96cb5"/>
<rect x="33.4" y="430.8" width="1.4" height="1.4" fill="#e96cb5"/>
<rect x="33.9" y="425.9" width="1.4" height="1.4" fill="#e96cb5"/>
<rect x="40.3" y="430.1" width="1.4" height="1.4" fill="#e96cb5"/>
<rect x="40.6" y="433.5" width="1.4" height="1.4" fill="#df5aa5"/>
<rect x="43.2" y="435.7" width="1.4" height="1.4" fill="#df5aa5"/>
<rect x="46.4" y="433.8" width="1.4" height="1.4" fill="#df5aa5"/>
<rect x="42.9" y="436.2" width="1.4" height="1.4" fill="#df5aa5"/>
<rect x="42.6" y="434.6" width="1.4" height="1.4" fill="#df5aa5"/>
<rect x="42.2" y="435.2" width="1.4" height="1.4" fill="#df5aa5"/>
<rect x="50.6" y="438.2" width="1.4" height="1.4" fill="#df5aa5"/>
<rect x="49.5" y="437.8" width="1.4" height="1.4" fill="#df5aa5"/>
<rect x="42.8" y="433.6" width="1.4" height="1.4" fill="#df5aa5"/>
<rect x="45.9" y="436.6" width="1.4" height="1.4" fill="#df5aa5"/>
<rect x="43.3" y="436.0" width="1.4" height="1.4" fill="#df5aa5"/>
<rect x="43.3" y="434.7" width="1.4" height="1.4" fill="#df5aa5"/>
<rect x="46.8" y="433.2" width="1.4" height="1.4" fill="#df5aa5"/>
<rect x="49.5" y="436.9" width="1.4" height="1.4" fill="#df5aa5"/>
<rect x="46.5" y="435.6" width="1.4" height="1.4" fill="#df5aa5"/>
<rect x="42.0" y="432.0" width="1.4" height="1.4" fill="#df5aa5"/>
<rect x="42.4" y="436.3" width="1.4" height="1.4" fill="#df5aa5"/>
<rect x="43.4" y="436.1" width="1.4" height="1.4" fill="#df5aa5"/>
<rect x="43.2" y="432.7" width="1.4" height="1.4" fill="#df5aa5"/>
<rect x="43.6" y="437.1" width="1.4" height="1.4" fill="#df5aa5"/>
<rect x="41.2" y="433.4" width="1.4" height="1.4" fill="#df5aa5"/>
<rect x="47.5" y="436.4" width="1.4" height="1.4" fill="#df5aa5"/>
<rect x="45.3" y="437.2" width="1.4" height="1.4" fill="#df5aa5"/>
<rect x="47.8" y="433.8" width="1.4" height="1.4" fill="#df5aa5"/>
<rect x="48.9" y="434.7" width="1.4" height="1.4" fill="#df5aa5"/>
<rect x="44.0" y="437.8" width="1.4" height="1.4" fill="#df5aa5"/>
<rect x="50.2" y="438.9" width="1.4" height="1.4" fill="#df5aa5"/>
<rect x="48.2" y="434.4" width="1.4" height="1.4" fill="#df5aa5"/>
<rect x="42.9" y="437.5" width="1.4" height="1.4" fill="#df5aa5"/>
<rect x="48.0" y="433.3" width="1.4" height="1.4" fill="#df5aa5"/>
<rect x="50.3" y="438.2" width="1.4" height="1.4" fill="#df5aa5"/>
<rect x="50.0" y="437.8" width="1.4" height="1.4" fill="#df5aa5"/>
<rect x="41.2" y="432.6" width="1.4" height="1.4" fill="#df5aa5"/>
<rect x="45.6" y="434.9" width="1.4" height="1.4" fill="#df5aa5"/>
<rect x="50.9" y="436.0" width="1.4" height="1.4" fill="#df5aa5"/>
<rect x="35" y="441" width="1.3" height="1.3" fill="#7ab860"/>
<rect x="37" y="440" width="1.3" height="1.3" fill="#7ab860"/>
<rect x="46" y="436" width="1.3" height="1.3" fill="#7ab860"/>
<text x="51.2" y="428.4" font-size="7.6" fill="#222" textLength="24.5" lengthAdjust="spacingAndGlyphs">State 4</text>
<text x="96.2" y="453" font-size="7.6" fill="#222" textLength="24.5" lengthAdjust="spacingAndGlyphs">State 3</text>
<text x="36" y="483.6" font-size="7.6" fill="#222" textLength="24.5" lengthAdjust="spacingAndGlyphs">State 1</text>
<text x="110.6" y="489.4" font-size="7.6" fill="#222" textLength="24.5" lengthAdjust="spacingAndGlyphs">State 2</text>
<path d="M23.6,482 V505.7 H46.5" fill="none" stroke="#111" stroke-width="1.4"/>
<path d="M23.6,476.3 L20.8,482.3 L26.4,482.3Z" fill="#111"/>
<path d="M51.9,505.7 L45.9,502.9 L45.9,508.5Z" fill="#111"/>
<text x="0" y="0" font-size="7.8" fill="#222" text-anchor="middle" transform="translate(17.6,494.2) rotate(-90)" textLength="23.4" lengthAdjust="spacingAndGlyphs">Comp-2</text>
<text x="36" y="517.4" font-size="7.8" fill="#222" text-anchor="middle" textLength="26.2" lengthAdjust="spacingAndGlyphs">Comp-1</text>
<text x="0" y="0" font-size="7.6" fill="#1a1a1a" text-anchor="middle" transform="translate(163.1,438.4) rotate(-90)" textLength="39.2" lengthAdjust="spacingAndGlyphs">Timepoint 1</text>
<line x1="167.2" y1="422.2" x2="167.2" y2="452.5" stroke="#666" stroke-width="0.9"/>
<rect x="171.3" y="414.9" width="1.4" height="1.4" fill="#7ab7e2"/>
<rect x="171.3" y="413.4" width="1.4" height="1.4" fill="#7ab7e2"/>
<rect x="170.0" y="412.8" width="1.4" height="1.4" fill="#7ab7e2"/>
<rect x="172.3" y="414.7" width="1.4" height="1.4" fill="#7ab7e2"/>
<rect x="172.0" y="413.4" width="1.4" height="1.4" fill="#7ab7e2"/>
<rect x="171.5" y="413.5" width="1.4" height="1.4" fill="#7ab7e2"/>
<rect x="169.3" y="415.5" width="1.4" height="1.4" fill="#7ab7e2"/>
<rect x="173.0" y="416.0" width="1.4" height="1.4" fill="#7ab7e2"/>
<rect x="171.4" y="414.3" width="1.4" height="1.4" fill="#7ab7e2"/>
<rect x="173.9" y="416.5" width="1.4" height="1.4" fill="#7ab7e2"/>
<rect x="170.2" y="413.4" width="1.4" height="1.4" fill="#7ab7e2"/>
<rect x="172.4" y="415.6" width="1.4" height="1.4" fill="#7ab7e2"/>
<rect x="170.2" y="417.3" width="1.4" height="1.4" fill="#7ab7e2"/>
<rect x="168.4" y="414.1" width="1.4" height="1.4" fill="#7ab7e2"/>
<rect x="172.0" y="416.6" width="1.4" height="1.4" fill="#7ab7e2"/>
<rect x="168.4" y="414.5" width="1.4" height="1.4" fill="#7ab7e2"/>
<rect x="173.8" y="416.6" width="1.4" height="1.4" fill="#7ab7e2"/>
<rect x="170.9" y="415.1" width="1.4" height="1.4" fill="#7ab7e2"/>
<rect x="169.5" y="415.6" width="1.4" height="1.4" fill="#7ab7e2"/>
<rect x="170.0" y="412.9" width="1.4" height="1.4" fill="#7ab7e2"/>
<rect x="168.6" y="415.1" width="1.4" height="1.4" fill="#7ab7e2"/>
<rect x="169.1" y="416.4" width="1.4" height="1.4" fill="#7ab7e2"/>
<rect x="173.9" y="416.3" width="1.4" height="1.4" fill="#7ab7e2"/>
<rect x="172.8" y="416.7" width="1.4" height="1.4" fill="#7ab7e2"/>
<rect x="172.1" y="416.4" width="1.4" height="1.4" fill="#7ab7e2"/>
<path d="M176.0,420.0 L185.0,424.0 L195.0,429.0 L205.0,434.0 L212.0,437.5 L217.3,439.6" fill="none" stroke="#7ab7e2" stroke-width="2.2" stroke-linecap="round" stroke-linejoin="round"/>
<rect x="182.2" y="423.9" width="1.3" height="1.3" fill="#7ab7e2"/>
<rect x="196.7" y="430.9" width="1.3" height="1.3" fill="#7ab7e2"/>
<rect x="210.0" y="437.6" width="1.3" height="1.3" fill="#7ab7e2"/>
<rect x="196.6" y="429.3" width="1.3" height="1.3" fill="#7ab7e2"/>
<rect x="204.8" y="434.5" width="1.3" height="1.3" fill="#7ab7e2"/>
<rect x="205.5" y="434.3" width="1.3" height="1.3" fill="#7ab7e2"/>
<rect x="179.0" y="420.5" width="1.3" height="1.3" fill="#7ab7e2"/>
<rect x="204.5" y="434.7" width="1.3" height="1.3" fill="#7ab7e2"/>
<rect x="200.8" y="430.8" width="1.3" height="1.3" fill="#7ab7e2"/>
<rect x="194.3" y="429.0" width="1.3" height="1.3" fill="#7ab7e2"/>
<rect x="207.5" y="435.4" width="1.3" height="1.3" fill="#7ab7e2"/>
<rect x="212.1" y="437.2" width="1.3" height="1.3" fill="#7ab7e2"/>
<rect x="198.7" y="431.0" width="1.3" height="1.3" fill="#7ab7e2"/>
<rect x="183.6" y="422.4" width="1.3" height="1.3" fill="#7ab7e2"/>
<rect x="210.3" y="436.9" width="1.3" height="1.3" fill="#7ab7e2"/>
<rect x="185.4" y="425.0" width="1.3" height="1.3" fill="#7ab7e2"/>
<rect x="202.1" y="433.0" width="1.3" height="1.3" fill="#7ab7e2"/>
<rect x="201.5" y="430.4" width="1.3" height="1.3" fill="#7ab7e2"/>
<rect x="203.1" y="435.2" width="1.3" height="1.3" fill="#7ab7e2"/>
<rect x="205.2" y="435.8" width="1.3" height="1.3" fill="#7ab7e2"/>
<rect x="205.9" y="435.1" width="1.3" height="1.3" fill="#7ab7e2"/>
<rect x="176.3" y="420.2" width="1.3" height="1.3" fill="#7ab7e2"/>
<rect x="188.2" y="426.0" width="1.3" height="1.3" fill="#7ab7e2"/>
<rect x="195.9" y="430.2" width="1.3" height="1.3" fill="#7ab7e2"/>
<rect x="185.9" y="425.2" width="1.3" height="1.3" fill="#7ab7e2"/>
<rect x="183.7" y="421.8" width="1.3" height="1.3" fill="#7ab7e2"/>
<rect x="199.9" y="431.7" width="1.3" height="1.3" fill="#7ab7e2"/>
<rect x="197.1" y="429.0" width="1.3" height="1.3" fill="#7ab7e2"/>
<rect x="207.9" y="435.7" width="1.3" height="1.3" fill="#7ab7e2"/>
<rect x="213.7" y="439.6" width="1.3" height="1.3" fill="#7ab7e2"/>
<rect x="185.0" y="424.6" width="1.3" height="1.3" fill="#7ab7e2"/>
<rect x="206.9" y="434.2" width="1.3" height="1.3" fill="#7ab7e2"/>
<rect x="199.0" y="431.6" width="1.3" height="1.3" fill="#7ab7e2"/>
<rect x="216.6" y="440.0" width="1.3" height="1.3" fill="#7ab7e2"/>
<rect x="204.6" y="433.8" width="1.3" height="1.3" fill="#7ab7e2"/>
<rect x="179.9" y="421.7" width="1.3" height="1.3" fill="#7ab7e2"/>
<rect x="216.2" y="440.9" width="1.3" height="1.3" fill="#7ab7e2"/>
<rect x="178.4" y="420.9" width="1.3" height="1.3" fill="#7ab7e2"/>
<rect x="175.2" y="419.6" width="1.3" height="1.3" fill="#7ab7e2"/>
<rect x="205.1" y="432.5" width="1.3" height="1.3" fill="#7ab7e2"/>
<rect x="198.4" y="430.7" width="1.3" height="1.3" fill="#7ab7e2"/>
<rect x="183.0" y="423.3" width="1.3" height="1.3" fill="#7ab7e2"/>
<rect x="197.0" y="431.0" width="1.3" height="1.3" fill="#7ab7e2"/>
<rect x="192.9" y="428.2" width="1.3" height="1.3" fill="#7ab7e2"/>
<rect x="194.1" y="428.8" width="1.3" height="1.3" fill="#7ab7e2"/>
<rect x="199.6" y="431.6" width="1.3" height="1.3" fill="#7ab7e2"/>
<rect x="189.4" y="424.7" width="1.3" height="1.3" fill="#7ab7e2"/>
<rect x="218.0" y="438.6" width="1.3" height="1.3" fill="#7ab7e2"/>
<rect x="211.5" y="437.1" width="1.3" height="1.3" fill="#7ab7e2"/>
<rect x="195.2" y="429.0" width="1.3" height="1.3" fill="#7ab7e2"/>
<rect x="199.8" y="430.9" width="1.3" height="1.3" fill="#7ab7e2"/>
<rect x="177.6" y="421.4" width="1.3" height="1.3" fill="#7ab7e2"/>
<rect x="178.6" y="421.6" width="1.3" height="1.3" fill="#7ab7e2"/>
<rect x="215.7" y="438.9" width="1.3" height="1.3" fill="#7ab7e2"/>
<rect x="209.8" y="435.7" width="1.3" height="1.3" fill="#7ab7e2"/>
<rect x="200.0" y="430.0" width="1.3" height="1.3" fill="#7ab7e2"/>
<rect x="177.3" y="420.6" width="1.3" height="1.3" fill="#7ab7e2"/>
<rect x="216.7" y="438.5" width="1.3" height="1.3" fill="#7ab7e2"/>
<rect x="189.8" y="426.6" width="1.3" height="1.3" fill="#7ab7e2"/>
<rect x="207.6" y="436.4" width="1.3" height="1.3" fill="#7ab7e2"/>
<path d="M217.3,439.6 L228.0,438.0 L238.0,436.5" fill="none" stroke="#7ab7e2" stroke-width="1.4" stroke-linecap="round" stroke-linejoin="round"/>
<rect x="227.8" y="438.6" width="1.3" height="1.3" fill="#7ab7e2"/>
<rect x="226.8" y="439.2" width="1.3" height="1.3" fill="#7ab7e2"/>
<rect x="221.2" y="439.4" width="1.3" height="1.3" fill="#7ab7e2"/>
<rect x="227.3" y="437.7" width="1.3" height="1.3" fill="#7ab7e2"/>
<rect x="222.0" y="438.5" width="1.3" height="1.3" fill="#7ab7e2"/>
<rect x="228.1" y="439.0" width="1.3" height="1.3" fill="#7ab7e2"/>
<rect x="221.2" y="439.4" width="1.3" height="1.3" fill="#7ab7e2"/>
<rect x="224.0" y="437.8" width="1.3" height="1.3" fill="#7ab7e2"/>
<rect x="233.5" y="437.1" width="1.3" height="1.3" fill="#7ab7e2"/>
<rect x="233.1" y="437.6" width="1.3" height="1.3" fill="#7ab7e2"/>
<rect x="226.4" y="438.3" width="1.3" height="1.3" fill="#7ab7e2"/>
<rect x="226.0" y="437.7" width="1.3" height="1.3" fill="#7ab7e2"/>
<rect x="225.9" y="439.1" width="1.3" height="1.3" fill="#7ab7e2"/>
<rect x="233.0" y="437.9" width="1.3" height="1.3" fill="#7ab7e2"/>
<rect x="225.0" y="439.1" width="1.3" height="1.3" fill="#7ab7e2"/>
<rect x="231.7" y="437.4" width="1.3" height="1.3" fill="#7ab7e2"/>
<rect x="217.1" y="439.6" width="1.3" height="1.3" fill="#7ab7e2"/>
<rect x="218.9" y="439.3" width="1.3" height="1.3" fill="#7ab7e2"/>
<rect x="222.5" y="438.1" width="1.3" height="1.3" fill="#7ab7e2"/>
<rect x="236.0" y="437.7" width="1.3" height="1.3" fill="#7ab7e2"/>
<line x1="236" y1="436.6" x2="246" y2="435.6" stroke="#8a9aa6" stroke-width="0.9"/>
<path d="M217.3,439.6 L222.0,445.0 L228.0,448.5 L231.0,450.0" fill="none" stroke="#7ab7e2" stroke-width="1.6" stroke-linecap="round" stroke-linejoin="round"/>
<rect x="218.6" y="440.1" width="1.3" height="1.3" fill="#7ab7e2"/>
<rect x="220.1" y="442.8" width="1.3" height="1.3" fill="#7ab7e2"/>
<rect x="228.9" y="447.6" width="1.3" height="1.3" fill="#7ab7e2"/>
<rect x="222.4" y="445.6" width="1.3" height="1.3" fill="#7ab7e2"/>
<rect x="220.6" y="443.1" width="1.3" height="1.3" fill="#7ab7e2"/>
<rect x="219.3" y="442.2" width="1.3" height="1.3" fill="#7ab7e2"/>
<rect x="220.9" y="443.9" width="1.3" height="1.3" fill="#7ab7e2"/>
<rect x="223.0" y="445.8" width="1.3" height="1.3" fill="#7ab7e2"/>
<rect x="225.9" y="447.9" width="1.3" height="1.3" fill="#7ab7e2"/>
<rect x="218.3" y="440.9" width="1.3" height="1.3" fill="#7ab7e2"/>
<rect x="220.9" y="442.3" width="1.3" height="1.3" fill="#7ab7e2"/>
<rect x="223.7" y="446.3" width="1.3" height="1.3" fill="#7ab7e2"/>
<rect x="224.1" y="447.4" width="1.3" height="1.3" fill="#7ab7e2"/>
<rect x="229.8" y="450.0" width="1.3" height="1.3" fill="#7ab7e2"/>
<rect x="228.2" y="448.9" width="1.3" height="1.3" fill="#7ab7e2"/>
<rect x="230.3" y="449.5" width="1.3" height="1.3" fill="#7ab7e2"/>
<rect x="227.2" y="448.2" width="1.3" height="1.3" fill="#7ab7e2"/>
<rect x="219.6" y="442.6" width="1.3" height="1.3" fill="#7ab7e2"/>
<rect x="220.1" y="442.4" width="1.3" height="1.3" fill="#7ab7e2"/>
<rect x="227.0" y="448.4" width="1.3" height="1.3" fill="#7ab7e2"/>
<rect x="222.9" y="445.6" width="1.3" height="1.3" fill="#7ab7e2"/>
<rect x="221.2" y="443.7" width="1.3" height="1.3" fill="#7ab7e2"/>
<rect x="224.7" y="447.3" width="1.3" height="1.3" fill="#7ab7e2"/>
<rect x="225.0" y="447.4" width="1.3" height="1.3" fill="#7ab7e2"/>
<rect x="228.6" y="448.8" width="1.3" height="1.3" fill="#7ab7e2"/>
<path d="M217.3,439.6 L215.4,445.4 L206.0,450.0 L198.0,453.0 L186.0,454.5 L176.0,455.5" fill="none" stroke="#7ab7e2" stroke-width="2.2" stroke-linecap="round" stroke-linejoin="round"/>
<rect x="196.9" y="453.2" width="1.3" height="1.3" fill="#7ab7e2"/>
<rect x="180.3" y="457.0" width="1.3" height="1.3" fill="#7ab7e2"/>
<rect x="183.3" y="454.5" width="1.3" height="1.3" fill="#7ab7e2"/>
<rect x="199.7" y="452.6" width="1.3" height="1.3" fill="#7ab7e2"/>
<rect x="213.5" y="445.7" width="1.3" height="1.3" fill="#7ab7e2"/>
<rect x="196.6" y="454.9" width="1.3" height="1.3" fill="#7ab7e2"/>
<rect x="209.8" y="449.3" width="1.3" height="1.3" fill="#7ab7e2"/>
<rect x="205.3" y="449.6" width="1.3" height="1.3" fill="#7ab7e2"/>
<rect x="178.9" y="455.1" width="1.3" height="1.3" fill="#7ab7e2"/>
<rect x="216.6" y="439.7" width="1.3" height="1.3" fill="#7ab7e2"/>
<rect x="195.4" y="452.6" width="1.3" height="1.3" fill="#7ab7e2"/>
<rect x="215.1" y="443.7" width="1.3" height="1.3" fill="#7ab7e2"/>
<rect x="193.5" y="453.5" width="1.3" height="1.3" fill="#7ab7e2"/>
<rect x="203.2" y="452.3" width="1.3" height="1.3" fill="#7ab7e2"/>
<rect x="211.6" y="446.3" width="1.3" height="1.3" fill="#7ab7e2"/>
<rect x="210.8" y="447.5" width="1.3" height="1.3" fill="#7ab7e2"/>
<rect x="200.8" y="450.6" width="1.3" height="1.3" fill="#7ab7e2"/>
<rect x="199.2" y="452.4" width="1.3" height="1.3" fill="#7ab7e2"/>
<rect x="182.7" y="454.7" width="1.3" height="1.3" fill="#7ab7e2"/>
<rect x="212.9" y="448.3" width="1.3" height="1.3" fill="#7ab7e2"/>
<rect x="187.0" y="454.3" width="1.3" height="1.3" fill="#7ab7e2"/>
<rect x="191.2" y="452.7" width="1.3" height="1.3" fill="#7ab7e2"/>
<rect x="185.1" y="454.1" width="1.3" height="1.3" fill="#7ab7e2"/>
<rect x="184.5" y="455.2" width="1.3" height="1.3" fill="#7ab7e2"/>
<rect x="180.7" y="455.3" width="1.3" height="1.3" fill="#7ab7e2"/>
<rect x="206.6" y="448.8" width="1.3" height="1.3" fill="#7ab7e2"/>
<rect x="181.2" y="454.6" width="1.3" height="1.3" fill="#7ab7e2"/>
<rect x="216.2" y="442.2" width="1.3" height="1.3" fill="#7ab7e2"/>
<rect x="177.3" y="454.9" width="1.3" height="1.3" fill="#7ab7e2"/>
<rect x="212.5" y="445.3" width="1.3" height="1.3" fill="#7ab7e2"/>
<rect x="176.4" y="455.1" width="1.3" height="1.3" fill="#7ab7e2"/>
<rect x="190.3" y="454.7" width="1.3" height="1.3" fill="#7ab7e2"/>
<rect x="187.2" y="452.8" width="1.3" height="1.3" fill="#7ab7e2"/>
<rect x="197.3" y="452.8" width="1.3" height="1.3" fill="#7ab7e2"/>
<rect x="199.2" y="452.8" width="1.3" height="1.3" fill="#7ab7e2"/>
<rect x="217.7" y="441.8" width="1.3" height="1.3" fill="#7ab7e2"/>
<rect x="210.4" y="446.3" width="1.3" height="1.3" fill="#7ab7e2"/>
<rect x="189.7" y="453.9" width="1.3" height="1.3" fill="#7ab7e2"/>
<rect x="209.7" y="449.5" width="1.3" height="1.3" fill="#7ab7e2"/>
<rect x="191.4" y="453.7" width="1.3" height="1.3" fill="#7ab7e2"/>
<rect x="180.0" y="454.8" width="1.3" height="1.3" fill="#7ab7e2"/>
<rect x="176.8" y="453.9" width="1.3" height="1.3" fill="#7ab7e2"/>
<rect x="186.3" y="455.0" width="1.3" height="1.3" fill="#7ab7e2"/>
<rect x="198.2" y="452.9" width="1.3" height="1.3" fill="#7ab7e2"/>
<rect x="181.6" y="454.7" width="1.3" height="1.3" fill="#7ab7e2"/>
<rect x="188.0" y="454.8" width="1.3" height="1.3" fill="#7ab7e2"/>
<rect x="195.7" y="454.0" width="1.3" height="1.3" fill="#7ab7e2"/>
<rect x="217.0" y="443.0" width="1.3" height="1.3" fill="#7ab7e2"/>
<rect x="199.3" y="452.6" width="1.3" height="1.3" fill="#7ab7e2"/>
<rect x="202.7" y="451.4" width="1.3" height="1.3" fill="#7ab7e2"/>
<rect x="200.9" y="451.9" width="1.3" height="1.3" fill="#7ab7e2"/>
<rect x="201.8" y="450.1" width="1.3" height="1.3" fill="#7ab7e2"/>
<rect x="195.7" y="451.7" width="1.3" height="1.3" fill="#7ab7e2"/>
<rect x="180.6" y="456.0" width="1.3" height="1.3" fill="#7ab7e2"/>
<rect x="175.6" y="455.4" width="1.3" height="1.3" fill="#7ab7e2"/>
<rect x="187.4" y="454.5" width="1.3" height="1.3" fill="#7ab7e2"/>
<rect x="196.9" y="454.4" width="1.3" height="1.3" fill="#7ab7e2"/>
<rect x="188.3" y="455.4" width="1.3" height="1.3" fill="#7ab7e2"/>
<rect x="192.3" y="452.8" width="1.3" height="1.3" fill="#7ab7e2"/>
<rect x="203.1" y="451.9" width="1.3" height="1.3" fill="#7ab7e2"/>
<ellipse cx="177" cy="455.2" rx="3.75" ry="1.75" fill="#7ab7e2" transform="rotate(0 177 455.2)"/>
<rect x="181.5" y="454.5" width="1.4" height="1.4" fill="#7ab7e2"/>
<rect x="178.3" y="455.4" width="1.4" height="1.4" fill="#7ab7e2"/>
<rect x="176.5" y="457.3" width="1.4" height="1.4" fill="#7ab7e2"/>
<rect x="175.3" y="455.5" width="1.4" height="1.4" fill="#7ab7e2"/>
<rect x="173.6" y="456.1" width="1.4" height="1.4" fill="#7ab7e2"/>
<rect x="176.9" y="453.6" width="1.4" height="1.4" fill="#7ab7e2"/>
<rect x="174.6" y="453.5" width="1.4" height="1.4" fill="#7ab7e2"/>
<rect x="176.2" y="454.8" width="1.4" height="1.4" fill="#7ab7e2"/>
<rect x="176.6" y="454.3" width="1.4" height="1.4" fill="#7ab7e2"/>
<rect x="180.2" y="455.8" width="1.4" height="1.4" fill="#7ab7e2"/>
<rect x="178.3" y="455.3" width="1.4" height="1.4" fill="#7ab7e2"/>
<rect x="174.3" y="456.3" width="1.4" height="1.4" fill="#7ab7e2"/>
<rect x="180.8" y="456.7" width="1.4" height="1.4" fill="#7ab7e2"/>
<rect x="179.1" y="453.8" width="1.4" height="1.4" fill="#7ab7e2"/>
<rect x="174.6" y="454.5" width="1.4" height="1.4" fill="#7ab7e2"/>
<rect x="178.7" y="455.1" width="1.4" height="1.4" fill="#7ab7e2"/>
<rect x="176.2" y="456.3" width="1.4" height="1.4" fill="#7ab7e2"/>
<rect x="179.4" y="453.9" width="1.4" height="1.4" fill="#7ab7e2"/>
<rect x="174.3" y="456.0" width="1.4" height="1.4" fill="#7ab7e2"/>
<rect x="178.9" y="454.4" width="1.4" height="1.4" fill="#7ab7e2"/>
<rect x="178.1" y="453.2" width="1.4" height="1.4" fill="#7ab7e2"/>
<rect x="174.1" y="455.7" width="1.4" height="1.4" fill="#7ab7e2"/>
<rect x="173.9" y="455.9" width="1.4" height="1.4" fill="#7ab7e2"/>
<rect x="175.4" y="457.0" width="1.4" height="1.4" fill="#7ab7e2"/>
<rect x="174.7" y="455.9" width="1.4" height="1.4" fill="#7ab7e2"/>
<rect x="177.5" y="453.5" width="1.4" height="1.4" fill="#7ab7e2"/>
<rect x="172.4" y="455.6" width="1.4" height="1.4" fill="#7ab7e2"/>
<rect x="174.1" y="455.6" width="1.4" height="1.4" fill="#7ab7e2"/>
<rect x="181.0" y="453.7" width="1.4" height="1.4" fill="#7ab7e2"/>
<rect x="177.7" y="453.7" width="1.4" height="1.4" fill="#7ab7e2"/>
<rect x="175.0" y="453.3" width="1.4" height="1.4" fill="#7ab7e2"/>
<rect x="175.8" y="457.2" width="1.4" height="1.4" fill="#7ab7e2"/>
<rect x="180.8" y="454.6" width="1.4" height="1.4" fill="#7ab7e2"/>
<rect x="175.4" y="453.8" width="1.4" height="1.4" fill="#7ab7e2"/>
<rect x="175.6" y="454.2" width="1.4" height="1.4" fill="#7ab7e2"/>
<rect x="177.5" y="453.4" width="1.4" height="1.4" fill="#7ab7e2"/>
<rect x="179.9" y="455.0" width="1.4" height="1.4" fill="#7ab7e2"/>
<rect x="176.8" y="454.9" width="1.4" height="1.4" fill="#7ab7e2"/>
<rect x="173.2" y="456.3" width="1.4" height="1.4" fill="#7ab7e2"/>
<rect x="176.8" y="457.2" width="1.4" height="1.4" fill="#7ab7e2"/>
<rect x="172" y="423" width="1.2" height="1.2" fill="#7ab7e2"/>
<rect x="168" y="426" width="1.2" height="1.2" fill="#7ab7e2"/>
<rect x="180" y="416" width="1.2" height="1.2" fill="#7ab7e2"/>
<rect x="182" y="418" width="1.2" height="1.2" fill="#7ab7e2"/>
<text x="0" y="0" font-size="7.6" fill="#1a1a1a" text-anchor="middle" transform="translate(162.8,485.3) rotate(-90)" textLength="40.4" lengthAdjust="spacingAndGlyphs">Timepoint 2</text>
<line x1="166.8" y1="470.6" x2="166.8" y2="500.9" stroke="#666" stroke-width="0.9"/>
<path d="M190,474 L205,482 L217.7,489.6 L235,487.5 L253,486" fill="none" stroke="#7a6a3a" stroke-width="0.8"/>
<ellipse cx="180" cy="470" rx="6.75" ry="2.80" fill="#f2a82e" transform="rotate(25 180 470)"/>
<rect x="179.9" y="472.7" width="1.5" height="1.5" fill="#f2a82e"/>
<rect x="183.6" y="471.6" width="1.5" height="1.5" fill="#f2a82e"/>
<rect x="181.9" y="470.3" width="1.5" height="1.5" fill="#f2a82e"/>
<rect x="174.4" y="465.4" width="1.5" height="1.5" fill="#f2a82e"/>
<rect x="183.6" y="469.3" width="1.5" height="1.5" fill="#f2a82e"/>
<rect x="175.0" y="465.6" width="1.5" height="1.5" fill="#f2a82e"/>
<rect x="182.0" y="467.1" width="1.5" height="1.5" fill="#f2a82e"/>
<rect x="176.8" y="467.5" width="1.5" height="1.5" fill="#f2a82e"/>
<rect x="179.5" y="466.6" width="1.5" height="1.5" fill="#f2a82e"/>
<rect x="172.7" y="465.4" width="1.5" height="1.5" fill="#f2a82e"/>
<rect x="183.6" y="474.6" width="1.5" height="1.5" fill="#f2a82e"/>
<rect x="175.6" y="471.3" width="1.5" height="1.5" fill="#f2a82e"/>
<rect x="184.3" y="471.3" width="1.5" height="1.5" fill="#f2a82e"/>
<rect x="175.1" y="466.4" width="1.5" height="1.5" fill="#f2a82e"/>
<rect x="176.6" y="468.5" width="1.5" height="1.5" fill="#f2a82e"/>
<rect x="175.7" y="465.0" width="1.5" height="1.5" fill="#f2a82e"/>
<rect x="178.5" y="467.3" width="1.5" height="1.5" fill="#f2a82e"/>
<rect x="182.9" y="468.6" width="1.5" height="1.5" fill="#f2a82e"/>
<rect x="182.8" y="474.0" width="1.5" height="1.5" fill="#f2a82e"/>
<rect x="173.9" y="468.0" width="1.5" height="1.5" fill="#f2a82e"/>
<rect x="186.2" y="472.7" width="1.5" height="1.5" fill="#f2a82e"/>
<rect x="184.9" y="471.5" width="1.5" height="1.5" fill="#f2a82e"/>
<rect x="180.6" y="469.1" width="1.5" height="1.5" fill="#f2a82e"/>
<rect x="176.6" y="471.9" width="1.5" height="1.5" fill="#f2a82e"/>
<rect x="178.7" y="465.7" width="1.5" height="1.5" fill="#f2a82e"/>
<rect x="176.3" y="469.8" width="1.5" height="1.5" fill="#f2a82e"/>
<rect x="175.3" y="470.3" width="1.5" height="1.5" fill="#f2a82e"/>
<rect x="184.8" y="472.6" width="1.5" height="1.5" fill="#f2a82e"/>
<rect x="178.8" y="468.0" width="1.5" height="1.5" fill="#f2a82e"/>
<rect x="175.7" y="471.8" width="1.5" height="1.5" fill="#f2a82e"/>
<rect x="184.1" y="471.0" width="1.5" height="1.5" fill="#f2a82e"/>
<rect x="180.7" y="471.7" width="1.5" height="1.5" fill="#f2a82e"/>
<rect x="185.5" y="474.6" width="1.5" height="1.5" fill="#f2a82e"/>
<rect x="180.6" y="468.0" width="1.5" height="1.5" fill="#f2a82e"/>
<rect x="173.1" y="467.0" width="1.5" height="1.5" fill="#f2a82e"/>
<rect x="187.0" y="474.0" width="1.5" height="1.5" fill="#f2a82e"/>
<rect x="183.0" y="469.8" width="1.5" height="1.5" fill="#f2a82e"/>
<rect x="179.4" y="466.2" width="1.5" height="1.5" fill="#f2a82e"/>
<rect x="174.7" y="471.0" width="1.5" height="1.5" fill="#f2a82e"/>
<rect x="180.0" y="473.0" width="1.5" height="1.5" fill="#f2a82e"/>
<rect x="176.9" y="471.2" width="1.5" height="1.5" fill="#f2a82e"/>
<rect x="183.5" y="468.6" width="1.5" height="1.5" fill="#f2a82e"/>
<rect x="174.8" y="464.8" width="1.5" height="1.5" fill="#f2a82e"/>
<rect x="179.9" y="472.0" width="1.5" height="1.5" fill="#f2a82e"/>
<rect x="178.1" y="468.0" width="1.5" height="1.5" fill="#f2a82e"/>
<rect x="184.9" y="471.7" width="1.5" height="1.5" fill="#f2a82e"/>
<rect x="174.6" y="468.6" width="1.5" height="1.5" fill="#f2a82e"/>
<rect x="185.1" y="468.6" width="1.5" height="1.5" fill="#f2a82e"/>
<rect x="179.1" y="468.0" width="1.5" height="1.5" fill="#f2a82e"/>
<rect x="174.7" y="470.4" width="1.5" height="1.5" fill="#f2a82e"/>
<rect x="180.1" y="474.1" width="1.5" height="1.5" fill="#f2a82e"/>
<rect x="183.3" y="470.0" width="1.5" height="1.5" fill="#f2a82e"/>
<rect x="176.8" y="470.1" width="1.5" height="1.5" fill="#f2a82e"/>
<rect x="180.0" y="469.1" width="1.5" height="1.5" fill="#f2a82e"/>
<rect x="179.7" y="468.8" width="1.5" height="1.5" fill="#f2a82e"/>
<rect x="184.3" y="469.3" width="1.5" height="1.5" fill="#f2a82e"/>
<rect x="178.1" y="468.4" width="1.5" height="1.5" fill="#f2a82e"/>
<rect x="184.4" y="472.8" width="1.5" height="1.5" fill="#f2a82e"/>
<rect x="186.4" y="472.7" width="1.5" height="1.5" fill="#f2a82e"/>
<rect x="181.6" y="469.9" width="1.5" height="1.5" fill="#f2a82e"/>
<rect x="180.8" y="470.8" width="1.5" height="1.5" fill="#f2a82e"/>
<rect x="179.6" y="468.0" width="1.5" height="1.5" fill="#f2a82e"/>
<rect x="177.7" y="472.5" width="1.5" height="1.5" fill="#f2a82e"/>
<rect x="179.3" y="467.3" width="1.5" height="1.5" fill="#f2a82e"/>
<rect x="175.5" y="468.4" width="1.5" height="1.5" fill="#f2a82e"/>
<rect x="175.9" y="467.1" width="1.5" height="1.5" fill="#f2a82e"/>
<rect x="176.8" y="470.2" width="1.5" height="1.5" fill="#f2a82e"/>
<rect x="178.1" y="471.3" width="1.5" height="1.5" fill="#f2a82e"/>
<rect x="184.4" y="472.3" width="1.5" height="1.5" fill="#f2a82e"/>
<rect x="176.9" y="467.3" width="1.5" height="1.5" fill="#f2a82e"/>
<rect x="184.7" y="474.8" width="1.5" height="1.5" fill="#f2a82e"/>
<rect x="174.0" y="467.8" width="1.5" height="1.5" fill="#f2a82e"/>
<rect x="175.6" y="471.8" width="1.5" height="1.5" fill="#f2a82e"/>
<rect x="181.5" y="467.2" width="1.5" height="1.5" fill="#f2a82e"/>
<rect x="177.5" y="465.8" width="1.5" height="1.5" fill="#f2a82e"/>
<rect x="174.8" y="467.5" width="1.5" height="1.5" fill="#f2a82e"/>
<rect x="174.8" y="469.6" width="1.5" height="1.5" fill="#f2a82e"/>
<rect x="173.9" y="467.8" width="1.5" height="1.5" fill="#f2a82e"/>
<rect x="173.2" y="466.0" width="1.5" height="1.5" fill="#f2a82e"/>
<rect x="183.5" y="470.3" width="1.5" height="1.5" fill="#f2a82e"/>
<rect x="184.3" y="472.3" width="1.5" height="1.5" fill="#f2a82e"/>
<rect x="186.8" y="474.0" width="1.5" height="1.5" fill="#f2a82e"/>
<rect x="177.4" y="467.2" width="1.5" height="1.5" fill="#f2a82e"/>
<rect x="181.3" y="474.4" width="1.5" height="1.5" fill="#f2a82e"/>
<rect x="184.7" y="469.1" width="1.5" height="1.5" fill="#f2a82e"/>
<rect x="178.8" y="465.9" width="1.5" height="1.5" fill="#f2a82e"/>
<rect x="174.8" y="468.3" width="1.5" height="1.5" fill="#f2a82e"/>
<rect x="173.3" y="465.5" width="1.5" height="1.5" fill="#f2a82e"/>
<rect x="187.9" y="473.4" width="1.5" height="1.5" fill="#f2a82e"/>
<rect x="181.5" y="469.7" width="1.5" height="1.5" fill="#f2a82e"/>
<path d="M172.0,466.5 L180.0,468.0 L187.0,473.0" fill="none" stroke="#f2a82e" stroke-width="3" stroke-linecap="round" stroke-linejoin="round"/>
<rect x="177.0" y="467.1" width="1.3" height="1.3" fill="#f2a82e"/>
<rect x="179.8" y="469.8" width="1.3" height="1.3" fill="#f2a82e"/>
<rect x="180.7" y="468.3" width="1.3" height="1.3" fill="#f2a82e"/>
<rect x="187.4" y="473.0" width="1.3" height="1.3" fill="#f2a82e"/>
<rect x="178.2" y="467.4" width="1.3" height="1.3" fill="#f2a82e"/>
<rect x="181.8" y="468.4" width="1.3" height="1.3" fill="#f2a82e"/>
<rect x="182.9" y="470.1" width="1.3" height="1.3" fill="#f2a82e"/>
<rect x="173.2" y="467.4" width="1.3" height="1.3" fill="#f2a82e"/>
<rect x="182.7" y="470.7" width="1.3" height="1.3" fill="#f2a82e"/>
<rect x="180.2" y="469.5" width="1.3" height="1.3" fill="#f2a82e"/>
<rect x="182.5" y="469.5" width="1.3" height="1.3" fill="#f2a82e"/>
<rect x="182.4" y="470.0" width="1.3" height="1.3" fill="#f2a82e"/>
<rect x="182.7" y="472.4" width="1.3" height="1.3" fill="#f2a82e"/>
<rect x="181.9" y="469.4" width="1.3" height="1.3" fill="#f2a82e"/>
<rect x="176.8" y="466.1" width="1.3" height="1.3" fill="#f2a82e"/>
<rect x="183.9" y="470.7" width="1.3" height="1.3" fill="#f2a82e"/>
<rect x="184.6" y="471.4" width="1.3" height="1.3" fill="#f2a82e"/>
<rect x="173.0" y="467.4" width="1.3" height="1.3" fill="#f2a82e"/>
<rect x="186.2" y="473.2" width="1.3" height="1.3" fill="#f2a82e"/>
<rect x="185.1" y="472.4" width="1.3" height="1.3" fill="#f2a82e"/>
<path d="M238.0,483.5 L247.0,485.5 L253.5,486.4" fill="none" stroke="#f2a82e" stroke-width="3.4" stroke-linecap="round" stroke-linejoin="round"/>
<rect x="247.8" y="485.4" width="1.3" height="1.3" fill="#f2a82e"/>
<rect x="245.2" y="486.8" width="1.3" height="1.3" fill="#f2a82e"/>
<rect x="241.7" y="483.7" width="1.3" height="1.3" fill="#f2a82e"/>
<rect x="246.4" y="485.0" width="1.3" height="1.3" fill="#f2a82e"/>
<rect x="243.7" y="483.6" width="1.3" height="1.3" fill="#f2a82e"/>
<rect x="239.3" y="484.5" width="1.3" height="1.3" fill="#f2a82e"/>
<rect x="243.4" y="483.1" width="1.3" height="1.3" fill="#f2a82e"/>
<rect x="252.4" y="485.0" width="1.3" height="1.3" fill="#f2a82e"/>
<rect x="243.6" y="483.6" width="1.3" height="1.3" fill="#f2a82e"/>
<rect x="237.8" y="483.8" width="1.3" height="1.3" fill="#f2a82e"/>
<rect x="246.4" y="485.4" width="1.3" height="1.3" fill="#f2a82e"/>
<rect x="252.6" y="487.1" width="1.3" height="1.3" fill="#f2a82e"/>
<rect x="238.2" y="482.7" width="1.3" height="1.3" fill="#f2a82e"/>
<rect x="239.5" y="484.1" width="1.3" height="1.3" fill="#f2a82e"/>
<rect x="249.1" y="485.6" width="1.3" height="1.3" fill="#f2a82e"/>
<rect x="240.9" y="483.7" width="1.3" height="1.3" fill="#f2a82e"/>
<rect x="252.1" y="486.3" width="1.3" height="1.3" fill="#f2a82e"/>
<rect x="246.1" y="483.8" width="1.3" height="1.3" fill="#f2a82e"/>
<rect x="249.6" y="484.1" width="1.3" height="1.3" fill="#f2a82e"/>
<rect x="239.1" y="483.1" width="1.3" height="1.3" fill="#f2a82e"/>
<rect x="240.8" y="484.1" width="1.3" height="1.3" fill="#f2a82e"/>
<rect x="251.2" y="486.5" width="1.3" height="1.3" fill="#f2a82e"/>
<rect x="239.6" y="482.4" width="1.3" height="1.3" fill="#f2a82e"/>
<rect x="252.7" y="486.3" width="1.3" height="1.3" fill="#f2a82e"/>
<rect x="242.6" y="485.0" width="1.3" height="1.3" fill="#f2a82e"/>
<rect x="240.7" y="483.7" width="1.3" height="1.3" fill="#f2a82e"/>
<rect x="239.6" y="483.8" width="1.3" height="1.3" fill="#f2a82e"/>
<rect x="239.1" y="483.5" width="1.3" height="1.3" fill="#f2a82e"/>
<rect x="243.7" y="484.9" width="1.3" height="1.3" fill="#f2a82e"/>
<rect x="247.8" y="486.5" width="1.3" height="1.3" fill="#f2a82e"/>
<rect x="239.3" y="482.6" width="1.3" height="1.3" fill="#f2a82e"/>
<rect x="241.5" y="484.2" width="1.3" height="1.3" fill="#f2a82e"/>
<rect x="238.8" y="485.1" width="1.3" height="1.3" fill="#f2a82e"/>
<rect x="243.1" y="482.5" width="1.3" height="1.3" fill="#f2a82e"/>
<rect x="238.4" y="484.5" width="1.3" height="1.3" fill="#f2a82e"/>
<rect x="250.0" y="484.2" width="1.3" height="1.3" fill="#f2a82e"/>
<rect x="252.8" y="487.2" width="1.3" height="1.3" fill="#f2a82e"/>
<rect x="251.3" y="485.5" width="1.3" height="1.3" fill="#f2a82e"/>
<rect x="253.1" y="484.2" width="1.3" height="1.3" fill="#f2a82e"/>
<rect x="241.4" y="483.0" width="1.3" height="1.3" fill="#f2a82e"/>
<rect x="249.9" y="485.1" width="1.3" height="1.3" fill="#f2a82e"/>
<rect x="254.3" y="485.0" width="1.3" height="1.3" fill="#f2a82e"/>
<rect x="253.6" y="487.2" width="1.3" height="1.3" fill="#f2a82e"/>
<rect x="248.0" y="486.8" width="1.3" height="1.3" fill="#f2a82e"/>
<rect x="238.3" y="483.1" width="1.3" height="1.3" fill="#f2a82e"/>
<rect x="242.4" y="484.2" width="1.3" height="1.3" fill="#f2a82e"/>
<rect x="246.9" y="482.5" width="1.3" height="1.3" fill="#f2a82e"/>
<rect x="240.9" y="485.7" width="1.3" height="1.3" fill="#f2a82e"/>
<rect x="241.4" y="483.6" width="1.3" height="1.3" fill="#f2a82e"/>
<rect x="246.5" y="485.4" width="1.3" height="1.3" fill="#f2a82e"/>
<ellipse cx="243" cy="483.5" rx="5.25" ry="2.10" fill="#f2a82e" transform="rotate(8 243 483.5)"/>
<rect x="243.3" y="483.5" width="1.4" height="1.4" fill="#f2a82e"/>
<rect x="241.1" y="484.6" width="1.4" height="1.4" fill="#f2a82e"/>
<rect x="248.5" y="484.1" width="1.4" height="1.4" fill="#f2a82e"/>
<rect x="248.2" y="485.3" width="1.4" height="1.4" fill="#f2a82e"/>
<rect x="243.2" y="485.6" width="1.4" height="1.4" fill="#f2a82e"/>
<rect x="242.3" y="480.6" width="1.4" height="1.4" fill="#f2a82e"/>
<rect x="247.2" y="483.3" width="1.4" height="1.4" fill="#f2a82e"/>
<rect x="241.0" y="485.0" width="1.4" height="1.4" fill="#f2a82e"/>
<rect x="240.4" y="485.5" width="1.4" height="1.4" fill="#f2a82e"/>
<rect x="237.3" y="483.3" width="1.4" height="1.4" fill="#f2a82e"/>
<rect x="246.2" y="486.1" width="1.4" height="1.4" fill="#f2a82e"/>
<rect x="246.1" y="483.7" width="1.4" height="1.4" fill="#f2a82e"/>
<rect x="241.0" y="482.4" width="1.4" height="1.4" fill="#f2a82e"/>
<rect x="247.3" y="484.5" width="1.4" height="1.4" fill="#f2a82e"/>
<rect x="245.1" y="486.2" width="1.4" height="1.4" fill="#f2a82e"/>
<rect x="238.0" y="481.7" width="1.4" height="1.4" fill="#f2a82e"/>
<rect x="244.7" y="483.6" width="1.4" height="1.4" fill="#f2a82e"/>
<rect x="244.0" y="484.0" width="1.4" height="1.4" fill="#f2a82e"/>
<rect x="236.8" y="483.3" width="1.4" height="1.4" fill="#f2a82e"/>
<rect x="241.2" y="481.2" width="1.4" height="1.4" fill="#f2a82e"/>
<rect x="245.8" y="482.4" width="1.4" height="1.4" fill="#f2a82e"/>
<rect x="247.0" y="485.6" width="1.4" height="1.4" fill="#f2a82e"/>
<rect x="246.2" y="484.2" width="1.4" height="1.4" fill="#f2a82e"/>
<rect x="245.7" y="484.1" width="1.4" height="1.4" fill="#f2a82e"/>
<rect x="247.5" y="485.0" width="1.4" height="1.4" fill="#f2a82e"/>
<rect x="246.5" y="485.7" width="1.4" height="1.4" fill="#f2a82e"/>
<rect x="245.0" y="482.2" width="1.4" height="1.4" fill="#f2a82e"/>
<rect x="246.9" y="485.8" width="1.4" height="1.4" fill="#f2a82e"/>
<rect x="242.5" y="480.6" width="1.4" height="1.4" fill="#f2a82e"/>
<rect x="238.1" y="482.0" width="1.4" height="1.4" fill="#f2a82e"/>
<rect x="247.0" y="482.2" width="1.4" height="1.4" fill="#f2a82e"/>
<rect x="246.7" y="483.8" width="1.4" height="1.4" fill="#f2a82e"/>
<rect x="244.2" y="481.3" width="1.4" height="1.4" fill="#f2a82e"/>
<rect x="242.3" y="483.5" width="1.4" height="1.4" fill="#f2a82e"/>
<rect x="239.4" y="483.2" width="1.4" height="1.4" fill="#f2a82e"/>
<rect x="239.2" y="481.7" width="1.4" height="1.4" fill="#f2a82e"/>
<rect x="241.3" y="483.2" width="1.4" height="1.4" fill="#f2a82e"/>
<rect x="246.4" y="485.7" width="1.4" height="1.4" fill="#f2a82e"/>
<rect x="240.5" y="480.4" width="1.4" height="1.4" fill="#f2a82e"/>
<rect x="244.2" y="482.1" width="1.4" height="1.4" fill="#f2a82e"/>
<rect x="235.7" y="482.5" width="1.3" height="1.3" fill="#f2a82e"/>
<rect x="241.7" y="481.8" width="1.3" height="1.3" fill="#f2a82e"/>
<rect x="243.7" y="482.4" width="1.3" height="1.3" fill="#f2a82e"/>
<rect x="234.8" y="482.4" width="1.3" height="1.3" fill="#f2a82e"/>
<rect x="234.1" y="486.0" width="1.3" height="1.3" fill="#f2a82e"/>
<rect x="228.8" y="481.8" width="1.3" height="1.3" fill="#f2a82e"/>
<rect x="229.4" y="483.7" width="1.3" height="1.3" fill="#f2a82e"/>
<rect x="230.6" y="480.0" width="1.3" height="1.3" fill="#f2a82e"/>
<rect x="235.2" y="483.2" width="1.3" height="1.3" fill="#f2a82e"/>
<rect x="241.0" y="482.1" width="1.3" height="1.3" fill="#f2a82e"/>
<rect x="233.0" y="481.6" width="1.3" height="1.3" fill="#f2a82e"/>
<rect x="243.1" y="480.5" width="1.3" height="1.3" fill="#f2a82e"/>
<rect x="228.2" y="485.2" width="1.3" height="1.3" fill="#f2a82e"/>
<rect x="236.2" y="479.9" width="1.3" height="1.3" fill="#f2a82e"/>
<rect x="230.3" y="485.2" width="1.3" height="1.3" fill="#f2a82e"/>
<rect x="240.7" y="479.5" width="1.3" height="1.3" fill="#f2a82e"/>
<rect x="239.5" y="480.5" width="1.3" height="1.3" fill="#f2a82e"/>
<rect x="235.6" y="483.2" width="1.3" height="1.3" fill="#f2a82e"/>
<rect x="228.9" y="485.5" width="1.3" height="1.3" fill="#f2a82e"/>
<rect x="233.7" y="480.0" width="1.3" height="1.3" fill="#f2a82e"/>
<rect x="241.3" y="479.8" width="1.3" height="1.3" fill="#f2a82e"/>
<rect x="228.6" y="483.6" width="1.3" height="1.3" fill="#f2a82e"/>
<rect x="236.0" y="485.3" width="1.3" height="1.3" fill="#f2a82e"/>
<rect x="241.4" y="480.4" width="1.3" height="1.3" fill="#f2a82e"/>
<rect x="228.8" y="483.2" width="1.3" height="1.3" fill="#f2a82e"/>
<path d="M217.7,489.6 L224.0,494.0 L230.0,497.0 L233.0,498.5" fill="none" stroke="#f2a82e" stroke-width="2.2" stroke-linecap="round" stroke-linejoin="round"/>
<rect x="224.2" y="495.6" width="1.3" height="1.3" fill="#f2a82e"/>
<rect x="220.6" y="491.5" width="1.3" height="1.3" fill="#f2a82e"/>
<rect x="232.6" y="497.6" width="1.3" height="1.3" fill="#f2a82e"/>
<rect x="222.1" y="491.6" width="1.3" height="1.3" fill="#f2a82e"/>
<rect x="230.4" y="497.1" width="1.3" height="1.3" fill="#f2a82e"/>
<rect x="218.3" y="490.6" width="1.3" height="1.3" fill="#f2a82e"/>
<rect x="230.9" y="498.2" width="1.3" height="1.3" fill="#f2a82e"/>
<rect x="222.8" y="493.7" width="1.3" height="1.3" fill="#f2a82e"/>
<rect x="228.9" y="497.1" width="1.3" height="1.3" fill="#f2a82e"/>
<rect x="228.1" y="495.4" width="1.3" height="1.3" fill="#f2a82e"/>
<rect x="219.7" y="491.0" width="1.3" height="1.3" fill="#f2a82e"/>
<rect x="229.4" y="497.1" width="1.3" height="1.3" fill="#f2a82e"/>
<rect x="222.8" y="493.6" width="1.3" height="1.3" fill="#f2a82e"/>
<rect x="232.3" y="498.1" width="1.3" height="1.3" fill="#f2a82e"/>
<rect x="227.6" y="495.7" width="1.3" height="1.3" fill="#f2a82e"/>
<rect x="228.4" y="495.9" width="1.3" height="1.3" fill="#f2a82e"/>
<rect x="231.8" y="498.7" width="1.3" height="1.3" fill="#f2a82e"/>
<rect x="222.7" y="493.7" width="1.3" height="1.3" fill="#f2a82e"/>
<rect x="227.1" y="496.1" width="1.3" height="1.3" fill="#f2a82e"/>
<rect x="230.8" y="496.4" width="1.3" height="1.3" fill="#f2a82e"/>
<rect x="229.9" y="497.8" width="1.3" height="1.3" fill="#f2a82e"/>
<rect x="221.2" y="492.4" width="1.3" height="1.3" fill="#f2a82e"/>
<rect x="230.2" y="496.7" width="1.3" height="1.3" fill="#f2a82e"/>
<rect x="223.5" y="493.7" width="1.3" height="1.3" fill="#f2a82e"/>
<rect x="227.5" y="495.5" width="1.3" height="1.3" fill="#f2a82e"/>
<ellipse cx="231" cy="498" rx="2.62" ry="1.54" fill="#f2a82e" transform="rotate(20 231 498)"/>
<rect x="230.3" y="499.8" width="1.4" height="1.4" fill="#f2a82e"/>
<rect x="230.8" y="500.1" width="1.4" height="1.4" fill="#f2a82e"/>
<rect x="229.2" y="498.6" width="1.4" height="1.4" fill="#f2a82e"/>
<rect x="231.1" y="499.3" width="1.4" height="1.4" fill="#f2a82e"/>
<rect x="229.3" y="497.9" width="1.4" height="1.4" fill="#f2a82e"/>
<rect x="231.1" y="497.6" width="1.4" height="1.4" fill="#f2a82e"/>
<rect x="229.6" y="495.9" width="1.4" height="1.4" fill="#f2a82e"/>
<rect x="230.0" y="498.6" width="1.4" height="1.4" fill="#f2a82e"/>
<rect x="231.5" y="498.6" width="1.4" height="1.4" fill="#f2a82e"/>
<rect x="232.2" y="496.7" width="1.4" height="1.4" fill="#f2a82e"/>
<rect x="233.2" y="498.9" width="1.4" height="1.4" fill="#f2a82e"/>
<rect x="229.7" y="496.8" width="1.4" height="1.4" fill="#f2a82e"/>
<rect x="233.0" y="499.0" width="1.4" height="1.4" fill="#f2a82e"/>
<rect x="228.4" y="498.9" width="1.4" height="1.4" fill="#f2a82e"/>
<rect x="228.4" y="498.8" width="1.4" height="1.4" fill="#f2a82e"/>
<rect x="233.1" y="497.5" width="1.4" height="1.4" fill="#f2a82e"/>
<rect x="232.6" y="500.1" width="1.4" height="1.4" fill="#f2a82e"/>
<rect x="232.8" y="499.6" width="1.4" height="1.4" fill="#f2a82e"/>
<rect x="231.7" y="498.7" width="1.4" height="1.4" fill="#f2a82e"/>
<rect x="229.7" y="498.0" width="1.4" height="1.4" fill="#f2a82e"/>
<path d="M217.7,489.6 L214.0,495.0 L205.0,499.5 L192.0,502.5 L178.0,504.2" fill="none" stroke="#f2a82e" stroke-width="3.8" stroke-linecap="round" stroke-linejoin="round"/>
<rect x="176.7" y="503.3" width="1.3" height="1.3" fill="#f2a82e"/>
<rect x="180.0" y="502.7" width="1.3" height="1.3" fill="#f2a82e"/>
<rect x="201.1" y="499.1" width="1.3" height="1.3" fill="#f2a82e"/>
<rect x="212.7" y="495.0" width="1.3" height="1.3" fill="#f2a82e"/>
<rect x="198.7" y="499.5" width="1.3" height="1.3" fill="#f2a82e"/>
<rect x="197.1" y="499.8" width="1.3" height="1.3" fill="#f2a82e"/>
<rect x="215.6" y="493.2" width="1.3" height="1.3" fill="#f2a82e"/>
<rect x="214.3" y="495.0" width="1.3" height="1.3" fill="#f2a82e"/>
<rect x="201.2" y="500.4" width="1.3" height="1.3" fill="#f2a82e"/>
<rect x="209.0" y="496.8" width="1.3" height="1.3" fill="#f2a82e"/>
<rect x="184.8" y="503.3" width="1.3" height="1.3" fill="#f2a82e"/>
<rect x="199.2" y="502.2" width="1.3" height="1.3" fill="#f2a82e"/>
<rect x="215.8" y="493.7" width="1.3" height="1.3" fill="#f2a82e"/>
<rect x="195.4" y="500.8" width="1.3" height="1.3" fill="#f2a82e"/>
<rect x="199.1" y="501.9" width="1.3" height="1.3" fill="#f2a82e"/>
<rect x="209.5" y="496.8" width="1.3" height="1.3" fill="#f2a82e"/>
<rect x="214.6" y="495.6" width="1.3" height="1.3" fill="#f2a82e"/>
<rect x="198.9" y="501.6" width="1.3" height="1.3" fill="#f2a82e"/>
<rect x="184.8" y="503.7" width="1.3" height="1.3" fill="#f2a82e"/>
<rect x="186.2" y="503.2" width="1.3" height="1.3" fill="#f2a82e"/>
<rect x="189.5" y="501.0" width="1.3" height="1.3" fill="#f2a82e"/>
<rect x="212.0" y="496.6" width="1.3" height="1.3" fill="#f2a82e"/>
<rect x="212.3" y="495.5" width="1.3" height="1.3" fill="#f2a82e"/>
<rect x="201.4" y="501.1" width="1.3" height="1.3" fill="#f2a82e"/>
<rect x="209.5" y="495.7" width="1.3" height="1.3" fill="#f2a82e"/>
<rect x="186.9" y="503.4" width="1.3" height="1.3" fill="#f2a82e"/>
<rect x="200.4" y="501.1" width="1.3" height="1.3" fill="#f2a82e"/>
<rect x="191.6" y="501.8" width="1.3" height="1.3" fill="#f2a82e"/>
<rect x="197.0" y="501.6" width="1.3" height="1.3" fill="#f2a82e"/>
<rect x="204.4" y="499.8" width="1.3" height="1.3" fill="#f2a82e"/>
<rect x="213.8" y="493.5" width="1.3" height="1.3" fill="#f2a82e"/>
<rect x="185.9" y="503.5" width="1.3" height="1.3" fill="#f2a82e"/>
<rect x="205.1" y="499.8" width="1.3" height="1.3" fill="#f2a82e"/>
<rect x="196.3" y="500.9" width="1.3" height="1.3" fill="#f2a82e"/>
<rect x="213.0" y="495.6" width="1.3" height="1.3" fill="#f2a82e"/>
<rect x="188.4" y="504.4" width="1.3" height="1.3" fill="#f2a82e"/>
<rect x="187.7" y="503.4" width="1.3" height="1.3" fill="#f2a82e"/>
<rect x="207.6" y="496.8" width="1.3" height="1.3" fill="#f2a82e"/>
<rect x="207.1" y="498.3" width="1.3" height="1.3" fill="#f2a82e"/>
<rect x="201.1" y="499.8" width="1.3" height="1.3" fill="#f2a82e"/>
<rect x="187.4" y="502.6" width="1.3" height="1.3" fill="#f2a82e"/>
<rect x="180.3" y="503.8" width="1.3" height="1.3" fill="#f2a82e"/>
<rect x="178.9" y="505.7" width="1.3" height="1.3" fill="#f2a82e"/>
<rect x="214.4" y="494.9" width="1.3" height="1.3" fill="#f2a82e"/>
<rect x="184.8" y="502.8" width="1.3" height="1.3" fill="#f2a82e"/>
<rect x="183.2" y="502.9" width="1.3" height="1.3" fill="#f2a82e"/>
<rect x="216.3" y="492.2" width="1.3" height="1.3" fill="#f2a82e"/>
<rect x="204.3" y="499.5" width="1.3" height="1.3" fill="#f2a82e"/>
<rect x="186.5" y="503.5" width="1.3" height="1.3" fill="#f2a82e"/>
<rect x="189.4" y="503.3" width="1.3" height="1.3" fill="#f2a82e"/>
<rect x="217.0" y="492.2" width="1.3" height="1.3" fill="#f2a82e"/>
<rect x="196.8" y="501.9" width="1.3" height="1.3" fill="#f2a82e"/>
<rect x="209.7" y="497.9" width="1.3" height="1.3" fill="#f2a82e"/>
<rect x="205.8" y="498.7" width="1.3" height="1.3" fill="#f2a82e"/>
<rect x="209.9" y="497.6" width="1.3" height="1.3" fill="#f2a82e"/>
<rect x="208.3" y="498.1" width="1.3" height="1.3" fill="#f2a82e"/>
<rect x="202.4" y="500.8" width="1.3" height="1.3" fill="#f2a82e"/>
<rect x="204.6" y="499.6" width="1.3" height="1.3" fill="#f2a82e"/>
<rect x="218.4" y="491.4" width="1.3" height="1.3" fill="#f2a82e"/>
<rect x="196.5" y="501.3" width="1.3" height="1.3" fill="#f2a82e"/>
<rect x="187.3" y="502.8" width="1.3" height="1.3" fill="#f2a82e"/>
<rect x="186.3" y="502.4" width="1.3" height="1.3" fill="#f2a82e"/>
<rect x="191.2" y="502.7" width="1.3" height="1.3" fill="#f2a82e"/>
<rect x="194.7" y="501.2" width="1.3" height="1.3" fill="#f2a82e"/>
<rect x="185.6" y="503.9" width="1.3" height="1.3" fill="#f2a82e"/>
<rect x="193.1" y="500.7" width="1.3" height="1.3" fill="#f2a82e"/>
<rect x="215.6" y="491.5" width="1.3" height="1.3" fill="#f2a82e"/>
<rect x="180.8" y="504.9" width="1.3" height="1.3" fill="#f2a82e"/>
<rect x="214.1" y="493.8" width="1.3" height="1.3" fill="#f2a82e"/>
<rect x="188.9" y="504.5" width="1.3" height="1.3" fill="#f2a82e"/>
<rect x="205" y="484" width="1.2" height="1.2" fill="#f2a82e"/>
<rect x="210" y="485.5" width="1.2" height="1.2" fill="#f2a82e"/>
<rect x="200" y="480" width="1.2" height="1.2" fill="#f2a82e"/>
<rect x="291.30" y="426.60" width="9.14" height="7.78" fill="#c46bb8"/>
<rect x="300.39" y="426.60" width="4.35" height="7.78" fill="#9f87cf"/>
<rect x="304.69" y="426.60" width="13.16" height="7.78" fill="#1db2df"/>
<rect x="317.79" y="426.60" width="12.35" height="7.78" fill="#5aab45"/>
<rect x="330.09" y="426.60" width="1.46" height="7.78" fill="#ee6f66"/>
<rect x="291.3" y="426.60" width="40.20" height="7.78" fill="none" stroke="#555" stroke-width="0.6"/>
<rect x="291.30" y="434.38" width="11.75" height="7.78" fill="#c46bb8"/>
<rect x="303.00" y="434.38" width="13.28" height="7.78" fill="#9f87cf"/>
<rect x="316.22" y="434.38" width="2.06" height="7.78" fill="#2a8f9a"/>
<rect x="318.23" y="434.38" width="13.32" height="7.78" fill="#ee6f66"/>
<rect x="291.3" y="434.38" width="40.20" height="7.78" fill="none" stroke="#555" stroke-width="0.6"/>
<rect x="291.30" y="442.16" width="1.86" height="7.78" fill="#c46bb8"/>
<rect x="293.11" y="442.16" width="9.94" height="7.78" fill="#9f87cf"/>
<rect x="303.00" y="442.16" width="2.06" height="7.78" fill="#4a4040"/>
<rect x="305.01" y="442.16" width="26.54" height="7.78" fill="#ee6f66"/>
<rect x="291.3" y="442.16" width="40.20" height="7.78" fill="none" stroke="#555" stroke-width="0.6"/>
<rect x="291.30" y="449.94" width="24.17" height="7.78" fill="#e8659f"/>
<rect x="315.42" y="449.94" width="6.88" height="7.78" fill="#9f87cf"/>
<rect x="322.25" y="449.94" width="2.46" height="7.78" fill="#4a4040"/>
<rect x="324.67" y="449.94" width="6.88" height="7.78" fill="#ee6f66"/>
<rect x="291.3" y="449.94" width="40.20" height="7.78" fill="none" stroke="#555" stroke-width="0.6"/>
<text x="295.1" y="422" font-size="7.4" fill="#222" text-anchor="middle">9</text>
<circle cx="295.1" cy="426.4" r="0.9" fill="#222"/>
<text x="301.5" y="422" font-size="7.4" fill="#222" text-anchor="middle">8</text>
<circle cx="301.5" cy="426.4" r="0.9" fill="#222"/>
<text x="310.8" y="422" font-size="7.4" fill="#222" text-anchor="middle">6</text>
<circle cx="310.8" cy="426.4" r="0.9" fill="#222"/>
<text x="322.3" y="422" font-size="7.4" fill="#222" text-anchor="middle">3</text>
<circle cx="322.3" cy="426.4" r="0.9" fill="#222"/>
<text x="330.8" y="422" font-size="7.4" fill="#222" text-anchor="middle">0</text>
<circle cx="330.8" cy="426.4" r="0.9" fill="#222"/>
<text x="288" y="432.30" font-size="8.2" fill="#222" text-anchor="end" textLength="24.6" lengthAdjust="spacingAndGlyphs">State 1</text>
<text x="288" y="440.08" font-size="8.2" fill="#222" text-anchor="end" textLength="24.6" lengthAdjust="spacingAndGlyphs">State 2</text>
<text x="288" y="447.86" font-size="8.2" fill="#222" text-anchor="end" textLength="24.6" lengthAdjust="spacingAndGlyphs">State 3</text>
<text x="288" y="455.64" font-size="8.2" fill="#222" text-anchor="end" textLength="24.6" lengthAdjust="spacingAndGlyphs">State 4</text>
<rect x="291.3" y="465.40" width="40.20" height="7.78" fill="#73b0e0"/>
<rect x="291.3" y="465.40" width="30.95" height="7.78" fill="#f5a82a"/>
<rect x="291.3" y="465.40" width="40.20" height="7.78" fill="none" stroke="#6a6a6a" stroke-width="0.6"/>
<text x="288" y="471.20" font-size="8.2" fill="#222" text-anchor="end" textLength="24.6" lengthAdjust="spacingAndGlyphs">State 1</text>
<rect x="291.3" y="473.18" width="40.20" height="7.78" fill="#73b0e0"/>
<rect x="291.3" y="473.18" width="4.22" height="7.78" fill="#f5a82a"/>
<rect x="291.3" y="473.18" width="40.20" height="7.78" fill="none" stroke="#6a6a6a" stroke-width="0.6"/>
<text x="288" y="478.98" font-size="8.2" fill="#222" text-anchor="end" textLength="24.6" lengthAdjust="spacingAndGlyphs">State 2</text>
<rect x="291.3" y="480.96" width="40.20" height="7.78" fill="#73b0e0"/>
<rect x="291.3" y="480.96" width="30.55" height="7.78" fill="#f5a82a"/>
<rect x="291.3" y="480.96" width="40.20" height="7.78" fill="none" stroke="#6a6a6a" stroke-width="0.6"/>
<text x="288" y="486.76" font-size="8.2" fill="#222" text-anchor="end" textLength="24.6" lengthAdjust="spacingAndGlyphs">State 3</text>
<rect x="291.3" y="488.74" width="40.20" height="7.78" fill="#73b0e0"/>
<rect x="291.3" y="488.74" width="6.23" height="7.78" fill="#f5a82a"/>
<rect x="291.3" y="488.74" width="40.20" height="7.78" fill="none" stroke="#6a6a6a" stroke-width="0.6"/>
<text x="288" y="494.54" font-size="8.2" fill="#222" text-anchor="end" textLength="24.6" lengthAdjust="spacingAndGlyphs">State 4</text>
<line x1="290.8" y1="497.3" x2="332.0" y2="497.3" stroke="#222" stroke-width="1"/>
<line x1="291.30" y1="497.3" x2="291.30" y2="499.6" stroke="#222" stroke-width="0.8"/>
<line x1="301.35" y1="497.3" x2="301.35" y2="499.6" stroke="#222" stroke-width="0.8"/>
<line x1="311.40" y1="497.3" x2="311.40" y2="499.6" stroke="#222" stroke-width="0.8"/>
<line x1="321.45" y1="497.3" x2="321.45" y2="499.6" stroke="#222" stroke-width="0.8"/>
<line x1="331.50" y1="497.3" x2="331.50" y2="499.6" stroke="#222" stroke-width="0.8"/>
<text x="291.3" y="508.4" font-size="6.9" fill="#222" text-anchor="middle" textLength="3.6" lengthAdjust="spacingAndGlyphs">0</text>
<text x="301" y="508.4" font-size="6.9" fill="#222" text-anchor="middle" textLength="7" lengthAdjust="spacingAndGlyphs">25</text>
<text x="311" y="508.4" font-size="6.9" fill="#222" text-anchor="middle" textLength="7" lengthAdjust="spacingAndGlyphs">50</text>
<text x="320.9" y="508.4" font-size="6.9" fill="#222" text-anchor="middle" textLength="7" lengthAdjust="spacingAndGlyphs">75</text>
<text x="330.2" y="508.4" font-size="6.9" fill="#222" text-anchor="middle" textLength="10.5" lengthAdjust="spacingAndGlyphs">100</text>
<text x="311.7" y="520.4" font-size="8.8" fill="#111" text-anchor="middle" textLength="45.7" lengthAdjust="spacingAndGlyphs">Relative percent</text>
</svg></body></html>
